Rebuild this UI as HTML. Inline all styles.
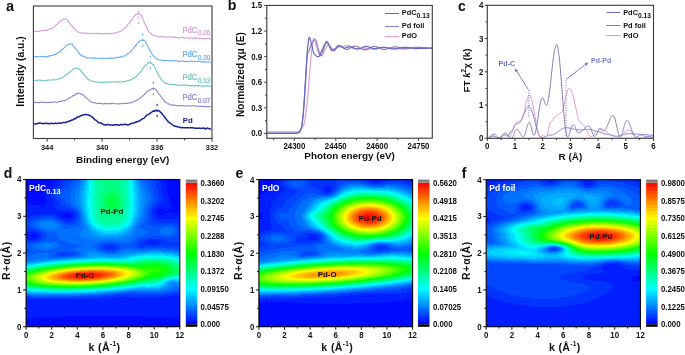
<!DOCTYPE html><html><head><meta charset="utf-8"><style>html,body{margin:0;padding:0;background:#fff;overflow:hidden}svg{display:block;will-change:transform}text{font-family:"Liberation Sans",sans-serif}</style></head><body>
<svg width="685" height="355" viewBox="0 0 685 355">
<defs>
<filter id="cm" x="0" y="0" width="1" height="1" color-interpolation-filters="sRGB"><feGaussianBlur stdDeviation="0.8"/><feComponentTransfer>
<feFuncR type="discrete" tableValues="0.000 0.000 0.000 0.000 0.000 0.000 0.000 0.000 0.000 0.000 0.000 0.000 0.000 0.000 0.000 0.000 0.000 0.000 0.000 0.000 0.000 0.000 0.000 0.000 0.000 0.040 0.120 0.200 0.280 0.360 0.440 0.520 0.600 0.680 0.760 0.840 0.920 1.000 1.000 1.000 1.000 1.000 1.000 1.000 1.000 1.000 1.000 1.000 1.000 1.000"/>
<feFuncG type="discrete" tableValues="0.040 0.120 0.200 0.280 0.360 0.440 0.520 0.600 0.680 0.760 0.840 0.920 1.000 1.000 1.000 1.000 1.000 1.000 1.000 1.000 1.000 1.000 1.000 1.000 1.000 1.000 1.000 1.000 1.000 1.000 1.000 1.000 1.000 1.000 1.000 1.000 1.000 1.000 0.920 0.840 0.760 0.680 0.600 0.520 0.440 0.360 0.280 0.200 0.120 0.040"/>
<feFuncB type="discrete" tableValues="1.000 1.000 1.000 1.000 1.000 1.000 1.000 1.000 1.000 1.000 1.000 1.000 1.000 0.920 0.840 0.760 0.680 0.600 0.520 0.440 0.360 0.280 0.200 0.120 0.040 0.000 0.000 0.000 0.000 0.000 0.000 0.000 0.000 0.000 0.000 0.000 0.000 0.000 0.000 0.000 0.000 0.000 0.000 0.000 0.000 0.000 0.000 0.000 0.000 0.000"/>
</feComponentTransfer></filter>
<filter id="cm0" x="0" y="0" width="1" height="1" color-interpolation-filters="sRGB"><feComponentTransfer>
<feFuncR type="discrete" tableValues="0.000 0.000 0.000 0.000 0.000 0.000 0.000 0.000 0.000 0.000 0.000 0.000 0.000 0.000 0.000 0.000 0.000 0.000 0.000 0.000 0.000 0.000 0.000 0.000 0.000 0.040 0.120 0.200 0.280 0.360 0.440 0.520 0.600 0.680 0.760 0.840 0.920 1.000 1.000 1.000 1.000 1.000 1.000 1.000 1.000 1.000 1.000 1.000 1.000 1.000"/>
<feFuncG type="discrete" tableValues="0.040 0.120 0.200 0.280 0.360 0.440 0.520 0.600 0.680 0.760 0.840 0.920 1.000 1.000 1.000 1.000 1.000 1.000 1.000 1.000 1.000 1.000 1.000 1.000 1.000 1.000 1.000 1.000 1.000 1.000 1.000 1.000 1.000 1.000 1.000 1.000 1.000 1.000 0.920 0.840 0.760 0.680 0.600 0.520 0.440 0.360 0.280 0.200 0.120 0.040"/>
<feFuncB type="discrete" tableValues="1.000 1.000 1.000 1.000 1.000 1.000 1.000 1.000 1.000 1.000 1.000 1.000 1.000 0.920 0.840 0.760 0.680 0.600 0.520 0.440 0.360 0.280 0.200 0.120 0.040 0.000 0.000 0.000 0.000 0.000 0.000 0.000 0.000 0.000 0.000 0.000 0.000 0.000 0.000 0.000 0.000 0.000 0.000 0.000 0.000 0.000 0.000 0.000 0.000 0.000"/>
</feComponentTransfer></filter>
<linearGradient id="cbar" x1="0" y1="1" x2="0" y2="0"><stop offset="0" stop-color="#000"/><stop offset="1" stop-color="#fff"/></linearGradient>
</defs>
<path d="M34.1,31.41 L34.6,31.27 L35.1,31.39 L35.6,31.19 L36.1,31.27 L36.6,31.39 L37.1,31.44 L37.6,31.46 L38.1,31.29 L38.6,31.41 L39.1,31.39 L39.6,31.36 L40.1,31.06 L40.6,30.99 L41.1,30.82 L41.6,30.74 L42.1,30.55 L42.6,30.35 L43.1,30.45 L43.6,30.57 L44.1,30.68 L44.6,30.65 L45.1,30.42 L45.6,30.37 L46.1,30.29 L46.6,30.46 L47.1,30.24 L47.6,30.02 L48.1,29.5 L48.6,29.39 L49.1,28.97 L49.6,28.86 L50.1,28.86 L50.6,28.64 L51.1,28.69 L51.6,28.32 L52.1,28.29 L52.6,27.95 L53.1,27.65 L53.6,27.49 L54.1,27.04 L54.6,26.52 L55.1,25.91 L55.6,25.4 L56.1,25.05 L56.6,24.59 L57.1,24.41 L57.6,23.71 L58.1,23.21 L58.6,22.48 L59.1,21.99 L59.6,21.93 L60.1,21.29 L60.6,21.1 L61.1,20.38 L61.6,20.54 L62.1,19.97 L62.6,19.89 L63.1,19.32 L63.6,19.36 L64.1,18.99 L64.6,19.09 L65.1,18.94 L65.6,19.09 L66.1,19.23 L66.6,19.89 L67.1,19.94 L67.6,20.54 L68.1,20.94 L68.6,21.77 L69.1,22.23 L69.6,22.7 L70.1,23.67 L70.6,24.35 L71.1,25.09 L71.6,25.54 L72.1,26.16 L72.6,26.83 L73.1,27.38 L73.6,28.28 L74.1,28.61 L74.6,28.77 L75.1,28.97 L75.6,29.65 L76.1,30.58 L76.6,30.94 L77.1,31.26 L77.6,31.55 L78.1,31.96 L78.6,32.15 L79.1,32.25 L79.6,32.55 L80.1,32.83 L80.6,32.88 L81.1,33.04 L81.6,33.17 L82.1,33.3 L82.6,32.91 L83.1,32.9 L83.6,32.93 L84.1,32.99 L84.6,32.82 L85.1,32.9 L85.6,33.22 L86.1,33.36 L86.6,33.26 L87.1,33.23 L87.6,33.32 L88.1,33.64 L88.6,33.73 L89.1,33.72 L89.6,33.61 L90.1,33.46 L90.6,33.34 L91.1,33.47 L91.6,33.67 L92.1,33.86 L92.6,33.75 L93.1,33.55 L93.6,33.43 L94.1,33.37 L94.6,33.36 L95.1,33.36 L95.6,33.42 L96.1,33.27 L96.6,33.44 L97.1,33.51 L97.6,33.58 L98.1,33.23 L98.6,33.23 L99.1,33.54 L99.6,33.75 L100.1,33.69 L100.6,33.47 L101.1,33.66 L101.6,33.6 L102.1,33.81 L102.6,33.68 L103.1,33.92 L103.6,33.79 L104.1,33.8 L104.6,33.47 L105.1,33.37 L105.6,33.36 L106.1,33.63 L106.6,33.75 L107.1,33.67 L107.6,33.63 L108.1,33.71 L108.6,33.76 L109.1,33.62 L109.6,33.41 L110.1,33.51 L110.6,33.61 L111.1,33.5 L111.6,33.4 L112.1,33.22 L112.6,33.19 L113.1,33.25 L113.6,33.36 L114.1,33.29 L114.6,33.06 L115.1,32.93 L115.6,32.84 L116.1,32.7 L116.6,32.61 L117.1,32.32 L117.6,32.24 L118.1,32.09 L118.6,32.22 L119.1,31.8 L119.6,31.54 L120.1,31.13 L120.6,31.14 L121.1,30.91 L121.6,30.76 L122.1,30.27 L122.6,29.77 L123.1,29.5 L123.6,29.1 L124.1,28.83 L124.6,28.35 L125.1,27.97 L125.6,27.73 L126.1,27.16 L126.6,26.94 L127.1,25.79 L127.6,24.89 L128.1,24.13 L128.6,23.85 L129.1,23.45 L129.6,22.65 L130.1,21.63 L130.6,20.9 L131.1,20.07 L131.6,19.59 L132.1,19.1 L132.6,18.55 L133.1,17.96 L133.6,17.09 L134.1,16.4 L134.6,15.78 L135.1,15.29 L135.6,15.02 L136.1,14.46 L136.6,14.38 L137.1,13.79 L137.6,13.83 L138.1,13.35 L138.6,13.66 L139.1,13.61 L139.6,14.02 L140.1,14.32 L140.6,14.81 L141.1,15.34 L141.6,15.83 L142.1,17.04 L142.6,18.13 L143.1,19.42 L143.6,20.41 L144.1,21.94 L144.6,22.96 L145.1,24.16 L145.6,24.98 L146.1,26.38 L146.6,27.15 L147.1,28.14 L147.6,29.11 L148.1,30.42 L148.6,31.47 L149.1,31.96 L149.6,32.41 L150.1,32.76 L150.6,33.21 L151.1,33.47 L151.6,33.98 L152.1,34.54 L152.6,35.02 L153.1,35.34 L153.6,35.4 L154.1,35.68 L154.6,35.68 L155.1,35.95 L155.6,36.06 L156.1,36.19 L156.6,36.32 L157.1,36.37 L157.6,36.67 L158.1,36.66 L158.6,36.81 L159.1,36.68 L159.6,36.72 L160.1,36.73 L160.6,36.58 L161.1,36.81 L161.6,36.64 L162.1,36.72 L162.6,36.64 L163.1,36.89 L163.6,37.1 L164.1,37.21 L164.6,37.1 L165.1,36.88 L165.6,36.86 L166.1,36.95 L166.6,36.98 L167.1,37.06 L167.6,37.08 L168.1,37.1 L168.6,37.06 L169.1,36.88 L169.6,36.91 L170.1,36.93 L170.6,36.93 L171.1,37.07 L171.6,36.86 L172.1,37.19 L172.6,37.11 L173.1,37.34 L173.6,37.07 L174.1,37.14 L174.6,37.27 L175.1,37.55 L175.6,37.38 L176.1,37.39 L176.6,37.48 L177.1,37.69 L177.6,37.78 L178.1,37.54 L178.6,37.6 L179.1,37.59 L179.6,37.92 L180.1,38.13 L180.6,37.86 L181.1,37.47 L181.6,37.37 L182.1,37.35 L182.6,37.59 L183.1,37.39 L183.6,37.74 L184.1,37.89 L184.6,38.15 L185.1,38.04 L185.6,37.96 L186.1,37.86 L186.6,37.93 L187.1,37.98 L187.6,38.1 L188.1,38.02 L188.6,38.26 L189.1,38.26 L189.6,38.52 L190.1,38.47 L190.6,38.33 L191.1,37.94 L191.6,37.95 L192.1,38.04 L192.6,38.3 L193.1,38.11 L193.6,38.2 L194.1,38.06 L194.6,38.1 L195.1,38.04 L195.6,38.22 L196.1,37.94 L196.6,38.13 L197.1,38.2 L197.6,38.3 L198.1,38.11 L198.6,38.09 L199.1,38.43 L199.6,38.55 L200.1,38.75 L200.6,38.69 L201.1,38.58 L201.6,38.32 L202.1,38.44 L202.6,38.51 L203.1,38.73 L203.6,38.79 L204.1,38.97 L204.6,39.01 L205.1,38.88 L205.6,38.82 L206.1,38.62 L206.6,38.58 L207.1,38.4 L207.6,38.42 L208.1,38.38 L208.6,38.42 L209.1,38.53 L209.6,38.76 L210.1,38.92 L210.6,39.11 L211.1,39.25" fill="none" stroke="#d89cd4" stroke-width="1.1" stroke-linejoin="round" />
<line x1="138.7" y1="10.8" x2="138.7" y2="24.6" stroke="#d89cd4" stroke-width="1.1" stroke-dasharray="2.1 3.5"/>
<path d="M34.1,57.06 L34.6,56.86 L35.1,56.53 L35.6,56.47 L36.1,56.59 L36.6,56.88 L37.1,56.86 L37.6,56.98 L38.1,56.85 L38.6,56.87 L39.1,56.58 L39.6,56.31 L40.1,56.15 L40.6,56.46 L41.1,56.54 L41.6,56.72 L42.1,56.42 L42.6,56.57 L43.1,56.43 L43.6,56.53 L44.1,56.43 L44.6,56.42 L45.1,56.42 L45.6,56.63 L46.1,56.48 L46.6,56.59 L47.1,56.69 L47.6,57.07 L48.1,56.63 L48.6,56.34 L49.1,55.71 L49.6,55.86 L50.1,55.83 L50.6,55.83 L51.1,55.47 L51.6,55.31 L52.1,55.43 L52.6,55.4 L53.1,55.19 L53.6,54.6 L54.1,54.44 L54.6,54.3 L55.1,54.44 L55.6,54.52 L56.1,54.1 L56.6,53.52 L57.1,53.08 L57.6,52.85 L58.1,52.87 L58.6,52.56 L59.1,52.36 L59.6,52.13 L60.1,51.81 L60.6,51.1 L61.1,50.46 L61.6,50.1 L62.1,49.81 L62.6,49.48 L63.1,48.73 L63.6,48.24 L64.1,47.84 L64.6,47.51 L65.1,47.06 L65.6,46.52 L66.1,45.77 L66.6,45.29 L67.1,44.91 L67.6,44.75 L68.1,44.41 L68.6,44.1 L69.1,43.96 L69.6,44.14 L70.1,44.15 L70.6,44.08 L71.1,43.95 L71.6,44.01 L72.1,44.33 L72.6,44.98 L73.1,45.69 L73.6,46.45 L74.1,46.91 L74.6,47.32 L75.1,47.94 L75.6,48.55 L76.1,49.32 L76.6,49.69 L77.1,50.39 L77.6,51.23 L78.1,51.98 L78.6,52.47 L79.1,52.85 L79.6,53.77 L80.1,54.68 L80.6,55.13 L81.1,55.28 L81.6,55.46 L82.1,55.74 L82.6,56.12 L83.1,56.37 L83.6,56.54 L84.1,56.67 L84.6,56.86 L85.1,57.11 L85.6,57.17 L86.1,57.44 L86.6,57.91 L87.1,58.11 L87.6,58 L88.1,57.88 L88.6,57.94 L89.1,57.94 L89.6,58.1 L90.1,58.02 L90.6,58.06 L91.1,57.81 L91.6,57.85 L92.1,57.94 L92.6,58.12 L93.1,58.45 L93.6,58.58 L94.1,58.53 L94.6,58.18 L95.1,58.09 L95.6,57.97 L96.1,58.14 L96.6,58.29 L97.1,58.45 L97.6,58.44 L98.1,58.22 L98.6,58.19 L99.1,58.24 L99.6,58.22 L100.1,58.16 L100.6,58.27 L101.1,58.18 L101.6,58.19 L102.1,57.92 L102.6,58.35 L103.1,58.49 L103.6,58.71 L104.1,58.56 L104.6,58.51 L105.1,58.48 L105.6,58.22 L106.1,58.21 L106.6,58.24 L107.1,58.26 L107.6,58.33 L108.1,58.33 L108.6,58.31 L109.1,58.13 L109.6,57.99 L110.1,58.1 L110.6,58.21 L111.1,58.06 L111.6,58.08 L112.1,58.04 L112.6,58.28 L113.1,58.3 L113.6,58.21 L114.1,58.17 L114.6,57.86 L115.1,57.98 L115.6,57.81 L116.1,57.86 L116.6,57.62 L117.1,57.36 L117.6,57.19 L118.1,57.14 L118.6,57.2 L119.1,57.49 L119.6,57.32 L120.1,57.15 L120.6,56.81 L121.1,57.03 L121.6,57.07 L122.1,56.96 L122.6,56.44 L123.1,56.11 L123.6,55.98 L124.1,55.96 L124.6,56.03 L125.1,55.96 L125.6,55.67 L126.1,55.14 L126.6,54.57 L127.1,53.9 L127.6,53.5 L128.1,53.3 L128.6,53.17 L129.1,52.93 L129.6,52.26 L130.1,51.96 L130.6,51.46 L131.1,51.14 L131.6,50.55 L132.1,49.67 L132.6,49.02 L133.1,48.27 L133.6,48.21 L134.1,47.66 L134.6,47.1 L135.1,46.35 L135.6,45.61 L136.1,45.25 L136.6,44.43 L137.1,43.97 L137.6,43.08 L138.1,42.73 L138.6,41.93 L139.1,41.66 L139.6,41.01 L140.1,40.92 L140.6,40.35 L141.1,40.23 L141.6,40.06 L142.1,40.17 L142.6,40.14 L143.1,40.26 L143.6,40.51 L144.1,40.76 L144.6,40.98 L145.1,41.26 L145.6,42.09 L146.1,42.97 L146.6,44.13 L147.1,44.95 L147.6,45.82 L148.1,46.77 L148.6,48.01 L149.1,49.1 L149.6,49.83 L150.1,50.4 L150.6,51.46 L151.1,52.38 L151.6,53.27 L152.1,54.02 L152.6,54.82 L153.1,55.56 L153.6,56 L154.1,56.47 L154.6,56.98 L155.1,57.52 L155.6,58.09 L156.1,58.35 L156.6,58.69 L157.1,58.94 L157.6,59.26 L158.1,59.5 L158.6,59.74 L159.1,59.91 L159.6,59.98 L160.1,59.83 L160.6,59.94 L161.1,60.01 L161.6,60.17 L162.1,60.08 L162.6,60.22 L163.1,60.65 L163.6,60.86 L164.1,60.84 L164.6,60.59 L165.1,60.49 L165.6,60.52 L166.1,60.4 L166.6,60.42 L167.1,60.47 L167.6,60.61 L168.1,60.7 L168.6,60.59 L169.1,60.62 L169.6,60.51 L170.1,60.74 L170.6,60.68 L171.1,60.84 L171.6,60.86 L172.1,61 L172.6,60.85 L173.1,60.73 L173.6,60.72 L174.1,60.77 L174.6,60.5 L175.1,60.46 L175.6,60.62 L176.1,61.01 L176.6,61.05 L177.1,61.09 L177.6,61.08 L178.1,61.27 L178.6,61.34 L179.1,61.39 L179.6,61.18 L180.1,61.28 L180.6,61.2 L181.1,61.36 L181.6,60.95 L182.1,61.02 L182.6,60.93 L183.1,61.16 L183.6,61.32 L184.1,61.4 L184.6,61.46 L185.1,61.23 L185.6,61.45 L186.1,61.58 L186.6,61.75 L187.1,61.42 L187.6,61.51 L188.1,61.51 L188.6,61.59 L189.1,61.42 L189.6,61.14 L190.1,61.28 L190.6,61.16 L191.1,61.51 L191.6,61.38 L192.1,61.45 L192.6,61.41 L193.1,61.51 L193.6,61.46 L194.1,61.41 L194.6,61.48 L195.1,61.61 L195.6,61.46 L196.1,61.36 L196.6,61.28 L197.1,61.4 L197.6,61.45 L198.1,61.58 L198.6,61.65 L199.1,61.44 L199.6,61.5 L200.1,61.52 L200.6,61.7 L201.1,61.69 L201.6,61.99 L202.1,61.88 L202.6,61.66 L203.1,61.52 L203.6,61.6 L204.1,62.01 L204.6,61.79 L205.1,61.84 L205.6,61.8 L206.1,62.06 L206.6,62.2 L207.1,62.16 L207.6,62.04 L208.1,61.94 L208.6,61.86 L209.1,62.06 L209.6,62.23 L210.1,62.27 L210.6,62.16 L211.1,62.12" fill="none" stroke="#62aef5" stroke-width="1.1" stroke-linejoin="round" />
<line x1="142.7" y1="33.4" x2="142.7" y2="47.6" stroke="#62aef5" stroke-width="1.1" stroke-dasharray="2.1 3.5"/>
<path d="M34.1,80.64 L34.6,80.52 L35.1,80.4 L35.6,80.3 L36.1,80.67 L36.6,80.71 L37.1,80.84 L37.6,80.3 L38.1,80.38 L38.6,80.03 L39.1,80.1 L39.6,79.9 L40.1,80.07 L40.6,80.24 L41.1,80.38 L41.6,80.43 L42.1,80.35 L42.6,80.64 L43.1,80.66 L43.6,80.81 L44.1,80.73 L44.6,80.8 L45.1,80.78 L45.6,80.55 L46.1,80.67 L46.6,80.44 L47.1,80.26 L47.6,80.02 L48.1,79.88 L48.6,79.89 L49.1,80 L49.6,80.19 L50.1,80.3 L50.6,80.21 L51.1,80.09 L51.6,80.08 L52.1,79.87 L52.6,79.84 L53.1,79.72 L53.6,79.75 L54.1,79.78 L54.6,79.67 L55.1,79.74 L55.6,79.87 L56.1,79.94 L56.6,79.71 L57.1,79.31 L57.6,79.02 L58.1,78.76 L58.6,78.79 L59.1,78.87 L59.6,78.98 L60.1,78.77 L60.6,78.41 L61.1,78.1 L61.6,77.9 L62.1,77.79 L62.6,77.71 L63.1,77.33 L63.6,77.23 L64.1,76.46 L64.6,75.99 L65.1,75.17 L65.6,74.95 L66.1,74.78 L66.6,74.87 L67.1,74.51 L67.6,74.27 L68.1,73.52 L68.6,73.2 L69.1,72.47 L69.6,72.38 L70.1,71.9 L70.6,71.51 L71.1,71.08 L71.6,70.68 L72.1,70.41 L72.6,69.7 L73.1,69.2 L73.6,68.62 L74.1,68.33 L74.6,68.4 L75.1,68.44 L75.6,68.28 L76.1,68.11 L76.6,67.89 L77.1,68.12 L77.6,68.09 L78.1,68.31 L78.6,68.5 L79.1,68.93 L79.6,69.43 L80.1,69.86 L80.6,70.46 L81.1,71.27 L81.6,71.75 L82.1,71.91 L82.6,72.65 L83.1,73.38 L83.6,74.32 L84.1,74.75 L84.6,75.36 L85.1,76.15 L85.6,76.51 L86.1,77.09 L86.6,77.3 L87.1,78.14 L87.6,78.58 L88.1,79.3 L88.6,79.66 L89.1,79.87 L89.6,80 L90.1,80.19 L90.6,80.6 L91.1,80.82 L91.6,81.03 L92.1,81.31 L92.6,81.39 L93.1,81.39 L93.6,81.47 L94.1,81.67 L94.6,81.79 L95.1,81.62 L95.6,81.89 L96.1,81.89 L96.6,82.12 L97.1,81.92 L97.6,82 L98.1,82.01 L98.6,81.93 L99.1,82 L99.6,82.16 L100.1,82.34 L100.6,82.4 L101.1,82.32 L101.6,82.29 L102.1,82.45 L102.6,82.3 L103.1,82.36 L103.6,82.27 L104.1,82.41 L104.6,82.22 L105.1,81.95 L105.6,82.13 L106.1,82.15 L106.6,82.3 L107.1,82.17 L107.6,82.31 L108.1,82.08 L108.6,81.76 L109.1,81.74 L109.6,81.87 L110.1,82.09 L110.6,82.11 L111.1,82.24 L111.6,82.09 L112.1,81.86 L112.6,81.96 L113.1,82.05 L113.6,82.11 L114.1,81.71 L114.6,81.86 L115.1,81.84 L115.6,81.96 L116.1,81.96 L116.6,82.15 L117.1,82.35 L117.6,82.08 L118.1,81.64 L118.6,81.42 L119.1,81.52 L119.6,81.79 L120.1,82.01 L120.6,82.06 L121.1,81.98 L121.6,81.89 L122.1,81.78 L122.6,81.81 L123.1,81.83 L123.6,81.57 L124.1,81.71 L124.6,81.63 L125.1,81.5 L125.6,81.25 L126.1,80.99 L126.6,81.01 L127.1,80.84 L127.6,80.63 L128.1,80.65 L128.6,80.51 L129.1,80.17 L129.6,80.14 L130.1,80.14 L130.6,80.11 L131.1,79.84 L131.6,79.75 L132.1,79.39 L132.6,78.94 L133.1,78.3 L133.6,78.26 L134.1,77.93 L134.6,77.45 L135.1,77.16 L135.6,76.74 L136.1,76.59 L136.6,76.28 L137.1,75.74 L137.6,75.09 L138.1,74.39 L138.6,73.93 L139.1,73.49 L139.6,72.79 L140.1,72.58 L140.6,71.98 L141.1,71.41 L141.6,70.42 L142.1,69.74 L142.6,68.83 L143.1,68.13 L143.6,67.54 L144.1,66.97 L144.6,66.39 L145.1,65.68 L145.6,65.2 L146.1,64.98 L146.6,64.59 L147.1,64.24 L147.6,63.4 L148.1,62.97 L148.6,62.6 L149.1,62.48 L149.6,62.35 L150.1,62.66 L150.6,62.86 L151.1,63.2 L151.6,63.34 L152.1,63.96 L152.6,64.19 L153.1,64.49 L153.6,64.9 L154.1,65.87 L154.6,66.95 L155.1,67.8 L155.6,68.86 L156.1,70.11 L156.6,71.26 L157.1,72.17 L157.6,73.12 L158.1,74.05 L158.6,74.99 L159.1,75.79 L159.6,76.41 L160.1,77.53 L160.6,78.24 L161.1,79.33 L161.6,79.78 L162.1,80.45 L162.6,80.75 L163.1,81.44 L163.6,81.91 L164.1,82.52 L164.6,83.05 L165.1,83.12 L165.6,83.45 L166.1,83.25 L166.6,83.43 L167.1,83.77 L167.6,83.73 L168.1,84.08 L168.6,83.93 L169.1,84.26 L169.6,84.21 L170.1,84.48 L170.6,84.56 L171.1,84.57 L171.6,84.28 L172.1,84.33 L172.6,84.39 L173.1,84.65 L173.6,84.69 L174.1,84.81 L174.6,84.52 L175.1,84.33 L175.6,84.49 L176.1,84.7 L176.6,85.15 L177.1,85.07 L177.6,85.22 L178.1,85.08 L178.6,85.18 L179.1,85.19 L179.6,85.26 L180.1,85.25 L180.6,85.28 L181.1,85.11 L181.6,85.42 L182.1,85.42 L182.6,85.6 L183.1,84.96 L183.6,84.89 L184.1,84.65 L184.6,85.07 L185.1,85.1 L185.6,85.13 L186.1,85.1 L186.6,85.29 L187.1,85.59 L187.6,85.58 L188.1,85.63 L188.6,85.42 L189.1,85.6 L189.6,85.36 L190.1,85.6 L190.6,85.85 L191.1,85.94 L191.6,85.98 L192.1,85.5 L192.6,85.47 L193.1,85.68 L193.6,85.88 L194.1,86.05 L194.6,85.5 L195.1,85.52 L195.6,85.37 L196.1,85.76 L196.6,85.71 L197.1,86.17 L197.6,85.88 L198.1,86.02 L198.6,85.43 L199.1,85.54 L199.6,85.67 L200.1,85.94 L200.6,85.84 L201.1,85.76 L201.6,85.92 L202.1,86.17 L202.6,86.25 L203.1,85.95 L203.6,86.15 L204.1,86.13 L204.6,86.06 L205.1,86.08 L205.6,85.94 L206.1,86.31 L206.6,85.81 L207.1,85.8 L207.6,85.51 L208.1,85.9 L208.6,85.97 L209.1,86.11 L209.6,85.96 L210.1,86.16 L210.6,86.2 L211.1,86.16" fill="none" stroke="#70c4c2" stroke-width="1.1" stroke-linejoin="round" />
<line x1="150.4" y1="55.7" x2="150.4" y2="69.9" stroke="#70c4c2" stroke-width="1.1" stroke-dasharray="2.1 3.5"/>
<path d="M34.1,102.47 L34.6,102.18 L35.1,102.04 L35.6,102.17 L36.1,102.41 L36.6,102.61 L37.1,102.6 L37.6,102.53 L38.1,102.51 L38.6,102.62 L39.1,102.66 L39.6,102.6 L40.1,102.25 L40.6,102.19 L41.1,101.94 L41.6,102.19 L42.1,102.38 L42.6,102.37 L43.1,102.54 L43.6,102.34 L44.1,102.54 L44.6,102.35 L45.1,102.52 L45.6,102.46 L46.1,102.24 L46.6,102.18 L47.1,102.25 L47.6,102.6 L48.1,102.63 L48.6,102.48 L49.1,102.42 L49.6,102.34 L50.1,102.48 L50.6,102.46 L51.1,102.47 L51.6,102.39 L52.1,102.34 L52.6,102.4 L53.1,102.31 L53.6,102.3 L54.1,102 L54.6,101.97 L55.1,101.89 L55.6,102.01 L56.1,102.31 L56.6,102.29 L57.1,102.34 L57.6,102.15 L58.1,102.12 L58.6,101.52 L59.1,101.38 L59.6,101.3 L60.1,101.48 L60.6,101.38 L61.1,101.46 L61.6,101.33 L62.1,101.12 L62.6,100.9 L63.1,100.67 L63.6,100.44 L64.1,100.19 L64.6,100.37 L65.1,100.48 L65.6,100.34 L66.1,100.3 L66.6,99.97 L67.1,99.45 L67.6,98.87 L68.1,98.64 L68.6,98.59 L69.1,98.08 L69.6,97.76 L70.1,97.31 L70.6,97.23 L71.1,97.07 L71.6,96.84 L72.1,96.46 L72.6,95.94 L73.1,95.56 L73.6,95.62 L74.1,95.44 L74.6,95.36 L75.1,94.73 L75.6,94.27 L76.1,93.95 L76.6,93.54 L77.1,93.58 L77.6,93.22 L78.1,93.41 L78.6,93.24 L79.1,93.26 L79.6,93.29 L80.1,93.39 L80.6,93.87 L81.1,94.06 L81.6,94.46 L82.1,94.56 L82.6,94.83 L83.1,95.09 L83.6,95.37 L84.1,95.86 L84.6,96.3 L85.1,97 L85.6,97.49 L86.1,97.7 L86.6,98.2 L87.1,98.65 L87.6,99.25 L88.1,99.41 L88.6,99.87 L89.1,100.35 L89.6,100.91 L90.1,101.15 L90.6,101.62 L91.1,101.78 L91.6,102.11 L92.1,102.17 L92.6,102.56 L93.1,102.6 L93.6,102.7 L94.1,102.67 L94.6,102.8 L95.1,102.87 L95.6,102.83 L96.1,103.11 L96.6,103.46 L97.1,103.56 L97.6,103.61 L98.1,103.31 L98.6,103.37 L99.1,103.26 L99.6,103.46 L100.1,103.65 L100.6,103.46 L101.1,103.29 L101.6,103.25 L102.1,103.49 L102.6,103.96 L103.1,103.93 L103.6,103.88 L104.1,103.77 L104.6,103.46 L105.1,103.31 L105.6,103.51 L106.1,103.79 L106.6,104.06 L107.1,103.67 L107.6,103.64 L108.1,103.62 L108.6,103.47 L109.1,103.72 L109.6,103.84 L110.1,104.11 L110.6,103.86 L111.1,103.5 L111.6,103.35 L112.1,103.32 L112.6,103.63 L113.1,103.48 L113.6,103.5 L114.1,103.46 L114.6,103.73 L115.1,103.86 L115.6,103.67 L116.1,103.51 L116.6,103.76 L117.1,104.05 L117.6,104.02 L118.1,103.99 L118.6,103.84 L119.1,103.93 L119.6,103.56 L120.1,103.76 L120.6,103.76 L121.1,103.84 L121.6,103.49 L122.1,103.28 L122.6,103.29 L123.1,103.39 L123.6,103.73 L124.1,103.55 L124.6,103.46 L125.1,103.35 L125.6,103.53 L126.1,103.44 L126.6,103.45 L127.1,103.34 L127.6,103.48 L128.1,103.26 L128.6,103.25 L129.1,102.99 L129.6,102.82 L130.1,102.73 L130.6,102.73 L131.1,102.69 L131.6,102.56 L132.1,102.4 L132.6,102.26 L133.1,101.65 L133.6,101.37 L134.1,101.24 L134.6,101.21 L135.1,101.03 L135.6,100.72 L136.1,100.57 L136.6,100.46 L137.1,100.22 L137.6,99.92 L138.1,99.65 L138.6,99.21 L139.1,98.8 L139.6,98.35 L140.1,98.11 L140.6,97.8 L141.1,97.22 L141.6,96.65 L142.1,96.28 L142.6,96.07 L143.1,95.93 L143.6,95.43 L144.1,94.85 L144.6,93.86 L145.1,93.58 L145.6,93.26 L146.1,93.08 L146.6,92.35 L147.1,91.43 L147.6,91.09 L148.1,90.66 L148.6,90.8 L149.1,90.43 L149.6,90.35 L150.1,89.82 L150.6,89.6 L151.1,89.01 L151.6,89.03 L152.1,88.73 L152.6,88.67 L153.1,88.38 L153.6,88.28 L154.1,88.59 L154.6,88.76 L155.1,89.02 L155.6,89.32 L156.1,89.84 L156.6,90.57 L157.1,91.29 L157.6,92.12 L158.1,92.82 L158.6,93.65 L159.1,93.88 L159.6,94.54 L160.1,95.19 L160.6,96.07 L161.1,96.78 L161.6,97.38 L162.1,98.03 L162.6,98.64 L163.1,99.31 L163.6,100.06 L164.1,100.9 L164.6,101.65 L165.1,102.16 L165.6,102.24 L166.1,102.32 L166.6,102.63 L167.1,102.92 L167.6,103.17 L168.1,103.45 L168.6,103.83 L169.1,104.22 L169.6,104.61 L170.1,104.88 L170.6,104.86 L171.1,104.9 L171.6,104.96 L172.1,105.13 L172.6,105.03 L173.1,104.7 L173.6,104.85 L174.1,104.96 L174.6,105.35 L175.1,105.28 L175.6,105.39 L176.1,105.45 L176.6,105.69 L177.1,105.74 L177.6,105.84 L178.1,105.54 L178.6,105.54 L179.1,105.59 L179.6,105.72 L180.1,105.79 L180.6,105.63 L181.1,105.71 L181.6,105.54 L182.1,105.63 L182.6,105.49 L183.1,105.67 L183.6,105.89 L184.1,106.05 L184.6,105.92 L185.1,105.81 L185.6,105.92 L186.1,106.15 L186.6,106.21 L187.1,105.94 L187.6,105.79 L188.1,105.64 L188.6,105.74 L189.1,105.86 L189.6,105.97 L190.1,106 L190.6,106.06 L191.1,105.97 L191.6,105.99 L192.1,105.94 L192.6,105.87 L193.1,105.81 L193.6,105.63 L194.1,105.68 L194.6,105.79 L195.1,105.97 L195.6,106.17 L196.1,106.24 L196.6,106.12 L197.1,106.33 L197.6,106.48 L198.1,106.48 L198.6,106.16 L199.1,105.93 L199.6,106.13 L200.1,106.31 L200.6,106.39 L201.1,106.03 L201.6,106.35 L202.1,106.47 L202.6,106.93 L203.1,106.46 L203.6,106.38 L204.1,106.4 L204.6,106.45 L205.1,106.6 L205.6,106.5 L206.1,106.78 L206.6,106.65 L207.1,106.85 L207.6,106.44 L208.1,106.64 L208.6,106.51 L209.1,106.68 L209.6,106.64 L210.1,106.56 L210.6,106.73 L211.1,106.71" fill="none" stroke="#8a88cf" stroke-width="1.1" stroke-linejoin="round" />
<line x1="153.3" y1="82" x2="153.3" y2="96.2" stroke="#8a88cf" stroke-width="1.1" stroke-dasharray="2.1 3.5"/>
<path d="M34.1,123.72 L34.6,123.89 L35.1,123.95 L35.6,124.15 L36.1,123.96 L36.6,123.81 L37.1,123.54 L37.6,123.44 L38.1,123.27 L38.6,123.24 L39.1,123.09 L39.6,123.23 L40.1,123.17 L40.6,123.26 L41.1,123.16 L41.6,123.22 L42.1,123.3 L42.6,123.63 L43.1,123.7 L43.6,123.83 L44.1,123.59 L44.6,123.47 L45.1,123.18 L45.6,123.13 L46.1,123.27 L46.6,123.41 L47.1,123.51 L47.6,123.34 L48.1,123.57 L48.6,123.58 L49.1,123.8 L49.6,123.59 L50.1,123.72 L50.6,123.44 L51.1,123.26 L51.6,123.27 L52.1,123.35 L52.6,123.56 L53.1,123.52 L53.6,123.64 L54.1,123.63 L54.6,123.34 L55.1,123.14 L55.6,123.09 L56.1,123.31 L56.6,123.45 L57.1,123.46 L57.6,123.25 L58.1,123.15 L58.6,123.2 L59.1,123.14 L59.6,123.03 L60.1,122.97 L60.6,123.25 L61.1,123.33 L61.6,123.15 L62.1,122.75 L62.6,122.61 L63.1,122.43 L63.6,122.49 L64.1,122.52 L64.6,122.59 L65.1,122.64 L65.6,122.31 L66.1,121.96 L66.6,121.85 L67.1,121.99 L67.6,121.9 L68.1,121.59 L68.6,121.15 L69.1,121.12 L69.6,120.97 L70.1,121.06 L70.6,120.75 L71.1,120.34 L71.6,120.09 L72.1,119.96 L72.6,120.09 L73.1,119.64 L73.6,119.36 L74.1,118.57 L74.6,118.63 L75.1,118.63 L75.6,118.79 L76.1,118.34 L76.6,117.63 L77.1,117.13 L77.6,116.83 L78.1,117.08 L78.6,117.12 L79.1,116.85 L79.6,116.39 L80.1,116.1 L80.6,116 L81.1,115.59 L81.6,115.24 L82.1,115.1 L82.6,115.13 L83.1,114.98 L83.6,115.02 L84.1,114.84 L84.6,114.74 L85.1,114.46 L85.6,114.49 L86.1,114.51 L86.6,114.64 L87.1,114.74 L87.6,114.87 L88.1,114.88 L88.6,115.03 L89.1,115.22 L89.6,115.5 L90.1,115.65 L90.6,115.99 L91.1,116.33 L91.6,116.62 L92.1,117 L92.6,117.18 L93.1,117.86 L93.6,118.24 L94.1,119.03 L94.6,119.55 L95.1,119.94 L95.6,120.11 L96.1,120.25 L96.6,120.71 L97.1,121.13 L97.6,121.72 L98.1,122.33 L98.6,122.79 L99.1,122.71 L99.6,122.63 L100.1,122.61 L100.6,122.96 L101.1,123.25 L101.6,123.55 L102.1,123.71 L102.6,123.77 L103.1,124.14 L103.6,124.43 L104.1,124.91 L104.6,124.62 L105.1,124.81 L105.6,124.82 L106.1,125.15 L106.6,124.93 L107.1,124.83 L107.6,124.6 L108.1,124.6 L108.6,124.56 L109.1,124.76 L109.6,124.91 L110.1,124.92 L110.6,124.96 L111.1,124.91 L111.6,125 L112.1,125.03 L112.6,125.21 L113.1,125.24 L113.6,125.01 L114.1,124.89 L114.6,124.76 L115.1,124.99 L115.6,124.79 L116.1,124.87 L116.6,124.56 L117.1,124.87 L117.6,124.78 L118.1,124.99 L118.6,125.01 L119.1,125.29 L119.6,125.14 L120.1,125.02 L120.6,124.52 L121.1,124.61 L121.6,124.48 L122.1,124.8 L122.6,124.78 L123.1,124.86 L123.6,124.59 L124.1,124.53 L124.6,124.33 L125.1,124.43 L125.6,124.22 L126.1,124.35 L126.6,124.44 L127.1,124.94 L127.6,125.04 L128.1,125 L128.6,124.68 L129.1,124.61 L129.6,124.34 L130.1,124.2 L130.6,123.64 L131.1,123.47 L131.6,123.45 L132.1,123.35 L132.6,123.33 L133.1,123.03 L133.6,123.06 L134.1,122.91 L134.6,122.75 L135.1,122.47 L135.6,122.24 L136.1,121.8 L136.6,121.94 L137.1,121.73 L137.6,121.86 L138.1,121.3 L138.6,121.3 L139.1,121.06 L139.6,120.96 L140.1,120.46 L140.6,120.09 L141.1,119.65 L141.6,119.29 L142.1,118.89 L142.6,118.71 L143.1,118.59 L143.6,118.43 L144.1,118.06 L144.6,117.58 L145.1,117.02 L145.6,116.55 L146.1,115.88 L146.6,115.37 L147.1,114.9 L147.6,114.72 L148.1,114.49 L148.6,114.33 L149.1,114.12 L149.6,113.86 L150.1,113.43 L150.6,112.87 L151.1,112.41 L151.6,112.2 L152.1,111.84 L152.6,111.4 L153.1,111.03 L153.6,111.06 L154.1,111.22 L154.6,111.15 L155.1,110.62 L155.6,110.33 L156.1,110.27 L156.6,110.63 L157.1,110.89 L157.6,110.72 L158.1,110.75 L158.6,110.51 L159.1,110.87 L159.6,111.11 L160.1,111.82 L160.6,112.33 L161.1,112.65 L161.6,113.07 L162.1,113.68 L162.6,114.71 L163.1,115.27 L163.6,115.75 L164.1,116.14 L164.6,117.03 L165.1,117.76 L165.6,118.5 L166.1,119.06 L166.6,119.61 L167.1,120.35 L167.6,120.66 L168.1,121.57 L168.6,121.87 L169.1,122.46 L169.6,122.6 L170.1,122.98 L170.6,123.39 L171.1,123.77 L171.6,124.13 L172.1,124.55 L172.6,124.99 L173.1,125.34 L173.6,125.64 L174.1,125.71 L174.6,126.02 L175.1,126.14 L175.6,126.27 L176.1,126.4 L176.6,126.55 L177.1,126.73 L177.6,126.81 L178.1,127 L178.6,127.01 L179.1,127.02 L179.6,127.1 L180.1,127.32 L180.6,127.55 L181.1,127.83 L181.6,127.71 L182.1,127.69 L182.6,127.36 L183.1,127.75 L183.6,127.81 L184.1,127.71 L184.6,127.69 L185.1,127.64 L185.6,127.81 L186.1,127.69 L186.6,127.75 L187.1,127.7 L187.6,127.66 L188.1,127.84 L188.6,127.84 L189.1,127.83 L189.6,127.77 L190.1,127.8 L190.6,127.87 L191.1,127.83 L191.6,127.85 L192.1,127.85 L192.6,127.71 L193.1,127.82 L193.6,127.92 L194.1,128.06 L194.6,128.14 L195.1,128.17 L195.6,128.29 L196.1,128.13 L196.6,128.11 L197.1,128.23 L197.6,128.36 L198.1,128.33 L198.6,128.14 L199.1,128.09 L199.6,128.21 L200.1,128.23 L200.6,128.32 L201.1,128.36 L201.6,128.54 L202.1,128.39 L202.6,128.24 L203.1,128.06 L203.6,128.08 L204.1,128.25 L204.6,128.58 L205.1,128.89 L205.6,128.98 L206.1,128.46 L206.6,128.31 L207.1,127.98 L207.6,128.36 L208.1,128.42 L208.6,128.59 L209.1,128.56 L209.6,128.69 L210.1,128.95 L210.6,129.08 L211.1,129.18" fill="none" stroke="#1b2290" stroke-width="1.5" stroke-linejoin="round" />
<line x1="157.1" y1="103.8" x2="157.1" y2="118" stroke="#1b2290" stroke-width="1.1" stroke-dasharray="2.1 3.5"/>
<text transform="translate(182.5,32.5) scale(1,1.09)" font-size="7.55" fill="#d89cd4" stroke="#d89cd4" stroke-width="0.22">PdC<tspan font-size="6.35" dx="0.8" dy="2.7">0.26</tspan></text>
<text transform="translate(182.5,57.4) scale(1,1.09)" font-size="7.55" fill="#62aef5" stroke="#62aef5" stroke-width="0.22">PdC<tspan font-size="6.35" dx="0.8" dy="2.7">0.20</tspan></text>
<text transform="translate(182.5,79.8) scale(1,1.09)" font-size="7.55" fill="#70c4c2" stroke="#70c4c2" stroke-width="0.22">PdC<tspan font-size="6.35" dx="0.8" dy="2.7">0.13</tspan></text>
<text transform="translate(182.5,100) scale(1,1.09)" font-size="7.55" fill="#8a88cf" stroke="#8a88cf" stroke-width="0.22">PdC<tspan font-size="6.35" dx="0.8" dy="2.7">0.07</tspan></text>
<text x="182.8" y="122.6" font-size="7.8" text-anchor="start" fill="#1b2290" font-weight="bold" >Pd</text>
<rect x="33.4" y="6.0" width="178.6" height="132.5" fill="none" stroke="#3a3a3a" stroke-width="1.1"/>
<line x1="47.14" y1="138.5" x2="47.14" y2="141.7" stroke="#3a3a3a" stroke-width="1" />
<text transform="translate(47.14,150.1) scale(1,1.04)" font-size="7.45" text-anchor="middle" fill="#111" font-weight="bold" >344</text>
<line x1="102.09" y1="138.5" x2="102.09" y2="141.7" stroke="#3a3a3a" stroke-width="1" />
<text transform="translate(102.09,150.1) scale(1,1.04)" font-size="7.45" text-anchor="middle" fill="#111" font-weight="bold" >340</text>
<line x1="157.05" y1="138.5" x2="157.05" y2="141.7" stroke="#3a3a3a" stroke-width="1" />
<text transform="translate(157.05,150.1) scale(1,1.04)" font-size="7.45" text-anchor="middle" fill="#111" font-weight="bold" >336</text>
<line x1="212" y1="138.5" x2="212" y2="141.7" stroke="#3a3a3a" stroke-width="1" />
<text transform="translate(212,150.1) scale(1,1.04)" font-size="7.45" text-anchor="middle" fill="#111" font-weight="bold" >332</text>
<line x1="74.62" y1="138.5" x2="74.62" y2="140.3" stroke="#3a3a3a" stroke-width="1" />
<line x1="129.57" y1="138.5" x2="129.57" y2="140.3" stroke="#3a3a3a" stroke-width="1" />
<line x1="184.52" y1="138.5" x2="184.52" y2="140.3" stroke="#3a3a3a" stroke-width="1" />
<text x="122.7" y="162.8" font-size="9.9" text-anchor="middle" fill="#111" font-weight="bold" >Binding energy (eV)</text>
<text transform="translate(23.6,71.45) rotate(-90)" font-size="10.4" text-anchor="middle" font-weight="bold" fill="#111">Intensity (a.u.)</text>
<text x="6" y="11" font-size="14.5" text-anchor="start" fill="#111" font-weight="bold" >a</text>
<path d="M266.8,131.74 L267.08,131.74 L267.35,131.74 L267.63,131.74 L267.9,131.74 L268.18,131.74 L268.45,131.74 L268.73,131.74 L269.01,131.74 L269.28,131.74 L269.56,131.74 L269.83,131.74 L270.11,131.74 L270.39,131.74 L270.66,131.74 L270.94,131.74 L271.21,131.74 L271.49,131.74 L271.76,131.74 L272.04,131.74 L272.32,131.74 L272.59,131.74 L272.87,131.74 L273.14,131.74 L273.42,131.74 L273.7,131.74 L273.97,131.74 L274.25,131.74 L274.52,131.74 L274.8,131.74 L275.07,131.74 L275.35,131.74 L275.63,131.74 L275.9,131.74 L276.18,131.74 L276.45,131.74 L276.73,131.74 L277.01,131.74 L277.28,131.74 L277.56,131.74 L277.83,131.74 L278.11,131.74 L278.38,131.74 L278.66,131.74 L278.94,131.74 L279.21,131.74 L279.49,131.74 L279.76,131.74 L280.04,131.74 L280.32,131.74 L280.59,131.74 L280.87,131.74 L281.14,131.74 L281.42,131.74 L281.69,131.74 L281.97,131.74 L282.25,131.74 L282.52,131.74 L282.8,131.74 L283.07,131.74 L283.35,131.74 L283.63,131.74 L283.9,131.74 L284.18,131.74 L284.45,131.74 L284.73,131.74 L285,131.74 L285.28,131.74 L285.56,131.74 L285.83,131.74 L286.11,131.74 L286.38,131.74 L286.66,131.74 L286.94,131.74 L287.21,131.74 L287.49,131.74 L287.76,131.74 L288.04,131.74 L288.31,131.74 L288.59,131.74 L288.87,131.74 L289.14,131.74 L289.42,131.74 L289.69,131.74 L289.97,131.74 L290.25,131.74 L290.52,131.74 L290.8,131.74 L291.07,131.74 L291.35,131.74 L291.62,131.74 L291.9,131.74 L292.18,131.74 L292.45,131.74 L292.73,131.74 L293,131.74 L293.28,131.74 L293.56,131.74 L293.83,131.74 L294.11,131.74 L294.38,131.74 L294.66,131.74 L294.94,131.74 L295.21,131.74 L295.49,131.74 L295.76,131.74 L296.04,131.74 L296.31,131.74 L296.59,131.74 L296.87,131.74 L297.14,131.74 L297.42,131.73 L297.69,131.68 L297.97,131.6 L298.25,131.49 L298.52,131.36 L298.8,131.21 L299.07,131.04 L299.35,130.86 L299.62,130.66 L299.9,130.46 L300.18,130.25 L300.45,130.04 L300.73,129.81 L301,129.55 L301.28,129.26 L301.56,128.94 L301.83,128.58 L302.11,128.19 L302.38,127.76 L302.66,127.28 L302.93,126.76 L303.21,126.19 L303.49,125.58 L303.76,124.92 L304.04,124.1 L304.31,123.03 L304.59,121.73 L304.87,120.24 L305.14,118.57 L305.42,116.74 L305.69,114.79 L305.97,112.73 L306.24,110.58 L306.52,108.38 L306.8,106.14 L307.07,103.7 L307.35,100.9 L307.62,97.81 L307.9,94.51 L308.18,91.04 L308.45,87.49 L308.73,83.92 L309,80.39 L309.28,76.97 L309.55,73.72 L309.83,70.51 L310.11,67.21 L310.38,63.9 L310.66,60.68 L310.93,57.63 L311.21,54.83 L311.49,52.39 L311.76,50.06 L312.04,47.66 L312.31,45.3 L312.59,43.1 L312.86,41.18 L313.14,39.67 L313.42,38.67 L313.69,38.31 L313.97,38.46 L314.24,38.9 L314.52,39.56 L314.8,40.4 L315.07,41.37 L315.35,42.42 L315.62,43.5 L315.9,44.56 L316.17,45.55 L316.45,46.41 L316.73,47.24 L317,48.13 L317.28,49.04 L317.55,49.96 L317.83,50.86 L318.11,51.71 L318.38,52.49 L318.66,53.16 L318.93,53.71 L319.21,54.09 L319.48,54.39 L319.76,54.67 L320.04,54.94 L320.31,55.18 L320.59,55.39 L320.86,55.56 L321.14,55.69 L321.42,55.77 L321.69,55.8 L321.97,55.71 L322.24,55.47 L322.52,55.1 L322.79,54.62 L323.07,54.05 L323.35,53.41 L323.62,52.73 L323.9,52.03 L324.17,51.33 L324.45,50.65 L324.73,50.01 L325,49.45 L325.28,48.97 L325.55,48.53 L325.83,48.07 L326.1,47.59 L326.38,47.12 L326.66,46.65 L326.93,46.21 L327.21,45.8 L327.48,45.44 L327.76,45.14 L328.04,44.91 L328.31,44.76 L328.59,44.71 L328.86,44.75 L329.14,44.89 L329.41,45.1 L329.69,45.37 L329.97,45.7 L330.24,46.06 L330.52,46.44 L330.79,46.84 L331.07,47.24 L331.35,47.62 L331.62,47.98 L331.9,48.31 L332.17,48.58 L332.45,48.79 L332.72,48.93 L333,48.97 L333.28,48.96 L333.55,48.94 L333.83,48.89 L334.1,48.84 L334.38,48.77 L334.66,48.68 L334.93,48.59 L335.21,48.49 L335.48,48.39 L335.76,48.28 L336.03,48.17 L336.31,48.05 L336.59,47.94 L336.86,47.82 L337.14,47.71 L337.41,47.61 L337.69,47.51 L337.97,47.42 L338.24,47.34 L338.52,47.27 L338.79,47.2 L339.07,47.14 L339.34,47.07 L339.62,47.01 L339.9,46.94 L340.17,46.87 L340.45,46.8 L340.72,46.74 L341,46.67 L341.27,46.6 L341.55,46.54 L341.83,46.47 L342.1,46.41 L342.38,46.35 L342.65,46.28 L342.93,46.22 L343.21,46.16 L343.48,46.11 L343.76,46.05 L344.03,46 L344.31,45.95 L344.59,45.9 L344.86,45.85 L345.14,45.81 L345.41,45.77 L345.69,45.73 L345.96,45.7 L346.24,45.67 L346.52,45.64 L346.79,45.62 L347.07,45.6 L347.34,45.58 L347.62,45.57 L347.89,45.56 L348.17,45.56 L348.45,45.58 L348.72,45.62 L349,45.7 L349.27,45.79 L349.55,45.92 L349.83,46.06 L350.1,46.21 L350.38,46.38 L350.65,46.57 L350.93,46.76 L351.21,46.96 L351.48,47.16 L351.76,47.37 L352.03,47.57 L352.31,47.77 L352.58,47.96 L352.86,48.15 L353.14,48.32 L353.41,48.48 L353.69,48.62 L353.96,48.74 L354.24,48.84 L354.51,48.91 L354.79,48.96 L355.07,48.97 L355.34,48.97 L355.62,48.96 L355.89,48.95 L356.17,48.93 L356.45,48.91 L356.72,48.88 L357,48.86 L357.27,48.82 L357.55,48.79 L357.83,48.75 L358.1,48.71 L358.38,48.67 L358.65,48.63 L358.93,48.59 L359.2,48.55 L359.48,48.5 L359.76,48.46 L360.03,48.42 L360.31,48.38 L360.58,48.34 L360.86,48.3 L361.13,48.27 L361.41,48.24 L361.69,48.21 L361.96,48.18 L362.24,48.16 L362.51,48.14 L362.79,48.13 L363.07,48.12 L363.34,48.12 L363.62,48.12 L363.89,48.13 L364.17,48.14 L364.44,48.16 L364.72,48.17 L365,48.2 L365.27,48.22 L365.55,48.25 L365.82,48.29 L366.1,48.32 L366.38,48.36 L366.65,48.4 L366.93,48.44 L367.2,48.48 L367.48,48.52 L367.75,48.57 L368.03,48.62 L368.31,48.66 L368.58,48.71 L368.86,48.76 L369.13,48.81 L369.41,48.86 L369.69,48.9 L369.96,48.95 L370.24,48.99 L370.51,49.04 L370.79,49.08 L371.06,49.12 L371.34,49.16 L371.62,49.2 L371.89,49.23 L372.17,49.27 L372.44,49.3 L372.72,49.32 L373,49.34 L373.27,49.36 L373.55,49.38 L373.82,49.39 L374.1,49.4 L374.38,49.4 L374.65,49.4 L374.93,49.38 L375.2,49.37 L375.48,49.34 L375.75,49.31 L376.03,49.27 L376.31,49.23 L376.58,49.18 L376.86,49.12 L377.13,49.07 L377.41,49 L377.69,48.94 L377.96,48.87 L378.24,48.8 L378.51,48.72 L378.79,48.65 L379.06,48.57 L379.34,48.49 L379.62,48.41 L379.89,48.33 L380.17,48.25 L380.44,48.17 L380.72,48.1 L381,48.02 L381.27,47.94 L381.55,47.87 L381.82,47.8 L382.1,47.73 L382.37,47.66 L382.65,47.6 L382.93,47.54 L383.2,47.49 L383.48,47.44 L383.75,47.4 L384.03,47.36 L384.31,47.33 L384.58,47.3 L384.86,47.28 L385.13,47.27 L385.41,47.27 L385.68,47.27 L385.96,47.27 L386.24,47.28 L386.51,47.3 L386.79,47.31 L387.06,47.33 L387.34,47.36 L387.62,47.38 L387.89,47.41 L388.17,47.44 L388.44,47.48 L388.72,47.51 L388.99,47.55 L389.27,47.59 L389.55,47.64 L389.82,47.68 L390.1,47.72 L390.37,47.77 L390.65,47.82 L390.93,47.87 L391.2,47.92 L391.48,47.97 L391.75,48.02 L392.03,48.07 L392.3,48.12 L392.58,48.17 L392.86,48.22 L393.13,48.27 L393.41,48.32 L393.68,48.37 L393.96,48.42 L394.24,48.47 L394.51,48.52 L394.79,48.56 L395.06,48.6 L395.34,48.65 L395.61,48.69 L395.89,48.73 L396.17,48.76 L396.44,48.8 L396.72,48.83 L396.99,48.86 L397.27,48.88 L397.55,48.91 L397.82,48.93 L398.1,48.94 L398.37,48.96 L398.65,48.97 L398.92,48.97 L399.2,48.97 L399.48,48.97 L399.75,48.97 L400.03,48.96 L400.3,48.95 L400.58,48.94 L400.86,48.92 L401.13,48.91 L401.41,48.89 L401.68,48.86 L401.96,48.84 L402.23,48.81 L402.51,48.79 L402.79,48.76 L403.06,48.73 L403.34,48.7 L403.61,48.66 L403.89,48.63 L404.17,48.6 L404.44,48.56 L404.72,48.52 L404.99,48.49 L405.27,48.45 L405.54,48.41 L405.82,48.37 L406.1,48.33 L406.37,48.29 L406.65,48.26 L406.92,48.22 L407.2,48.18 L407.48,48.14 L407.75,48.11 L408.03,48.07 L408.3,48.04 L408.58,48 L408.85,47.97 L409.13,47.94 L409.41,47.91 L409.68,47.88 L409.96,47.85 L410.23,47.83 L410.51,47.8 L410.79,47.78 L411.06,47.76 L411.34,47.74 L411.61,47.73 L411.89,47.72 L412.16,47.71 L412.44,47.7 L412.72,47.69 L412.99,47.69 L413.27,47.69 L413.54,47.69 L413.82,47.7 L414.1,47.7 L414.37,47.7 L414.65,47.71 L414.92,47.71 L415.2,47.71 L415.47,47.72 L415.75,47.73 L416.03,47.73 L416.3,47.74 L416.58,47.75 L416.85,47.75 L417.13,47.76 L417.4,47.77 L417.68,47.78 L417.96,47.79 L418.23,47.8 L418.51,47.81 L418.78,47.82 L419.06,47.84 L419.34,47.85 L419.61,47.86 L419.89,47.87 L420.16,47.89 L420.44,47.9 L420.72,47.91 L420.99,47.93 L421.27,47.94 L421.54,47.95 L421.82,47.97 L422.09,47.98 L422.37,48 L422.65,48.01 L422.92,48.03 L423.2,48.04 L423.47,48.06 L423.75,48.08 L424.02,48.09 L424.3,48.11 L424.58,48.12 L424.85,48.14 L425.13,48.16 L425.4,48.17 L425.68,48.19 L425.96,48.2 L426.23,48.22 L426.51,48.24 L426.78,48.25 L427.06,48.27 L427.34,48.29 L427.61,48.3 L427.89,48.32 L428.16,48.33 L428.44,48.35 L428.71,48.36 L428.99,48.38 L429.27,48.39 L429.54,48.41 L429.82,48.42 L430.09,48.44 L430.37,48.45 L430.64,48.47 L430.92,48.48 L431.2,48.5 L431.47,48.51 L431.75,48.52 L432.02,48.53 L432.3,48.55" fill="none" stroke="#dca0d4" stroke-width="1.2" stroke-linejoin="round" />
<path d="M266.8,133.02 L267.08,133.02 L267.35,133.02 L267.63,133.02 L267.9,133.02 L268.18,133.02 L268.45,133.02 L268.73,133.02 L269.01,133.02 L269.28,133.02 L269.56,133.02 L269.83,133.02 L270.11,133.02 L270.39,133.02 L270.66,133.02 L270.94,133.02 L271.21,133.02 L271.49,133.02 L271.76,133.02 L272.04,133.02 L272.32,133.02 L272.59,133.02 L272.87,133.02 L273.14,133.02 L273.42,133.02 L273.7,133.02 L273.97,133.02 L274.25,133.02 L274.52,133.02 L274.8,133.02 L275.07,133.02 L275.35,133.02 L275.63,133.02 L275.9,133.02 L276.18,133.02 L276.45,133.02 L276.73,133.02 L277.01,133.02 L277.28,133.02 L277.56,133.02 L277.83,133.02 L278.11,133.02 L278.38,133.02 L278.66,133.02 L278.94,133.02 L279.21,133.02 L279.49,133.02 L279.76,133.02 L280.04,133.02 L280.32,133.02 L280.59,133.02 L280.87,133.02 L281.14,133.02 L281.42,133.02 L281.69,133.02 L281.97,133.02 L282.25,133.02 L282.52,133.02 L282.8,133.02 L283.07,133.02 L283.35,133.02 L283.63,133.02 L283.9,133.02 L284.18,133.02 L284.45,133.02 L284.73,133.02 L285,133.02 L285.28,133.02 L285.56,133.02 L285.83,133.02 L286.11,133.02 L286.38,133.02 L286.66,133.02 L286.94,133.02 L287.21,133.02 L287.49,133.02 L287.76,133.02 L288.04,133.02 L288.31,133.02 L288.59,133.02 L288.87,133.02 L289.14,133.02 L289.42,133.02 L289.69,133.02 L289.97,133.02 L290.25,133.02 L290.52,133.02 L290.8,133.02 L291.07,133.02 L291.35,133.02 L291.62,133.02 L291.9,133.02 L292.18,133.02 L292.45,133.02 L292.73,133.02 L293,133.02 L293.28,133.02 L293.56,133.02 L293.83,133.02 L294.11,133.02 L294.38,133.02 L294.66,133.02 L294.94,133.01 L295.21,133 L295.49,132.99 L295.76,132.97 L296.04,132.94 L296.31,132.91 L296.59,132.87 L296.87,132.83 L297.14,132.79 L297.42,132.74 L297.69,132.69 L297.97,132.63 L298.25,132.57 L298.52,132.5 L298.8,132.43 L299.07,132.3 L299.35,132.09 L299.62,131.78 L299.9,131.39 L300.18,130.92 L300.45,130.38 L300.73,129.76 L301,129.08 L301.28,128.33 L301.56,127.26 L301.83,125.65 L302.11,123.6 L302.38,121.22 L302.66,118.59 L302.93,115.8 L303.21,112.97 L303.49,109.84 L303.76,106.19 L304.04,102.14 L304.31,97.84 L304.59,93.4 L304.87,88.95 L305.14,84.62 L305.42,80.55 L305.69,76.33 L305.97,71.71 L306.24,67.02 L306.52,62.58 L306.8,58.73 L307.07,55.79 L307.35,54.09 L307.62,53.25 L307.9,52.62 L308.18,52.12 L308.45,51.69 L308.73,51.23 L309,50.68 L309.28,50.02 L309.55,49.3 L309.83,48.53 L310.11,47.74 L310.38,46.94 L310.66,46.15 L310.93,45.39 L311.21,44.68 L311.49,44.03 L311.76,43.46 L312.04,43 L312.31,42.59 L312.59,42.18 L312.86,41.78 L313.14,41.39 L313.42,41.02 L313.69,40.68 L313.97,40.38 L314.24,40.11 L314.52,39.89 L314.8,39.73 L315.07,39.62 L315.35,39.59 L315.62,39.75 L315.9,40.2 L316.17,40.89 L316.45,41.77 L316.73,42.79 L317,43.89 L317.28,45.02 L317.55,46.14 L317.83,47.19 L318.11,48.12 L318.38,49.06 L318.66,50.12 L318.93,51.25 L319.21,52.38 L319.48,53.44 L319.76,54.38 L320.04,55.13 L320.31,55.62 L320.59,55.8 L320.86,55.7 L321.14,55.4 L321.42,54.94 L321.69,54.36 L321.97,53.67 L322.24,52.9 L322.52,52.09 L322.79,51.26 L323.07,50.45 L323.35,49.68 L323.62,48.97 L323.9,48.25 L324.17,47.42 L324.45,46.53 L324.73,45.6 L325,44.68 L325.28,43.8 L325.55,42.99 L325.83,42.3 L326.1,41.77 L326.38,41.42 L326.66,41.29 L326.93,41.37 L327.21,41.58 L327.48,41.92 L327.76,42.37 L328.04,42.9 L328.31,43.51 L328.59,44.18 L328.86,44.88 L329.14,45.62 L329.41,46.36 L329.69,47.09 L329.97,47.8 L330.24,48.46 L330.52,49.07 L330.79,49.61 L331.07,50.05 L331.35,50.39 L331.62,50.6 L331.9,50.68 L332.17,50.66 L332.45,50.59 L332.72,50.49 L333,50.35 L333.28,50.18 L333.55,49.99 L333.83,49.77 L334.1,49.52 L334.38,49.26 L334.66,48.99 L334.93,48.71 L335.21,48.41 L335.48,48.12 L335.76,47.83 L336.03,47.53 L336.31,47.25 L336.59,46.98 L336.86,46.72 L337.14,46.47 L337.41,46.25 L337.69,46.06 L337.97,45.89 L338.24,45.75 L338.52,45.65 L338.79,45.58 L339.07,45.56 L339.34,45.57 L339.62,45.62 L339.9,45.68 L340.17,45.77 L340.45,45.88 L340.72,46.01 L341,46.16 L341.27,46.32 L341.55,46.5 L341.83,46.68 L342.1,46.87 L342.38,47.07 L342.65,47.27 L342.93,47.48 L343.21,47.69 L343.48,47.89 L343.76,48.09 L344.03,48.28 L344.31,48.46 L344.59,48.64 L344.86,48.8 L345.14,48.95 L345.41,49.08 L345.69,49.19 L345.96,49.28 L346.24,49.34 L346.52,49.39 L346.79,49.4 L347.07,49.39 L347.34,49.36 L347.62,49.3 L347.89,49.23 L348.17,49.15 L348.45,49.04 L348.72,48.93 L349,48.8 L349.27,48.66 L349.55,48.52 L349.83,48.36 L350.1,48.2 L350.38,48.03 L350.65,47.86 L350.93,47.69 L351.21,47.52 L351.48,47.35 L351.76,47.19 L352.03,47.03 L352.31,46.87 L352.58,46.72 L352.86,46.59 L353.14,46.46 L353.41,46.34 L353.69,46.24 L353.96,46.15 L354.24,46.08 L354.51,46.03 L354.79,46 L355.07,45.99 L355.34,46 L355.62,46.02 L355.89,46.07 L356.17,46.13 L356.45,46.2 L356.72,46.29 L357,46.39 L357.27,46.5 L357.55,46.62 L357.83,46.75 L358.1,46.89 L358.38,47.03 L358.65,47.18 L358.93,47.34 L359.2,47.5 L359.48,47.66 L359.76,47.82 L360.03,47.99 L360.31,48.15 L360.58,48.32 L360.86,48.47 L361.13,48.63 L361.41,48.78 L361.69,48.93 L361.96,49.07 L362.24,49.2 L362.51,49.32 L362.79,49.43 L363.07,49.53 L363.34,49.61 L363.62,49.69 L363.89,49.75 L364.17,49.79 L364.44,49.82 L364.72,49.83 L365,49.82 L365.27,49.79 L365.55,49.76 L365.82,49.7 L366.1,49.64 L366.38,49.56 L366.65,49.47 L366.93,49.37 L367.2,49.27 L367.48,49.15 L367.75,49.03 L368.03,48.9 L368.31,48.76 L368.58,48.63 L368.86,48.48 L369.13,48.34 L369.41,48.19 L369.69,48.05 L369.96,47.9 L370.24,47.76 L370.51,47.61 L370.79,47.48 L371.06,47.34 L371.34,47.21 L371.62,47.09 L371.89,46.97 L372.17,46.87 L372.44,46.77 L372.72,46.68 L373,46.6 L373.27,46.54 L373.55,46.48 L373.82,46.45 L374.1,46.42 L374.38,46.41 L374.65,46.42 L374.93,46.44 L375.2,46.48 L375.48,46.52 L375.75,46.58 L376.03,46.65 L376.31,46.72 L376.58,46.81 L376.86,46.9 L377.13,47.01 L377.41,47.11 L377.69,47.23 L377.96,47.34 L378.24,47.46 L378.51,47.59 L378.79,47.72 L379.06,47.84 L379.34,47.97 L379.62,48.1 L379.89,48.22 L380.17,48.35 L380.44,48.47 L380.72,48.59 L381,48.7 L381.27,48.81 L381.55,48.91 L381.82,49 L382.1,49.09 L382.37,49.17 L382.65,49.23 L382.93,49.29 L383.2,49.34 L383.48,49.37 L383.75,49.39 L384.03,49.4 L384.31,49.4 L384.58,49.38 L384.86,49.36 L385.13,49.33 L385.41,49.29 L385.68,49.24 L385.96,49.19 L386.24,49.13 L386.51,49.07 L386.79,49 L387.06,48.93 L387.34,48.85 L387.62,48.76 L387.89,48.68 L388.17,48.59 L388.44,48.5 L388.72,48.41 L388.99,48.31 L389.27,48.22 L389.55,48.12 L389.82,48.02 L390.1,47.93 L390.37,47.83 L390.65,47.74 L390.93,47.65 L391.2,47.56 L391.48,47.48 L391.75,47.39 L392.03,47.31 L392.3,47.24 L392.58,47.17 L392.86,47.11 L393.13,47.05 L393.41,47 L393.68,46.95 L393.96,46.91 L394.24,46.88 L394.51,46.86 L394.79,46.84 L395.06,46.84 L395.34,46.85 L395.61,46.86 L395.89,46.88 L396.17,46.92 L396.44,46.96 L396.72,47.01 L396.99,47.06 L397.27,47.12 L397.55,47.19 L397.82,47.26 L398.1,47.34 L398.37,47.42 L398.65,47.5 L398.92,47.59 L399.2,47.68 L399.48,47.77 L399.75,47.86 L400.03,47.95 L400.3,48.04 L400.58,48.13 L400.86,48.22 L401.13,48.31 L401.41,48.39 L401.68,48.47 L401.96,48.55 L402.23,48.62 L402.51,48.69 L402.79,48.75 L403.06,48.81 L403.34,48.86 L403.61,48.9 L403.89,48.93 L404.17,48.95 L404.44,48.97 L404.72,48.97 L404.99,48.97 L405.27,48.96 L405.54,48.95 L405.82,48.93 L406.1,48.9 L406.37,48.87 L406.65,48.83 L406.92,48.8 L407.2,48.75 L407.48,48.71 L407.75,48.66 L408.03,48.6 L408.3,48.55 L408.58,48.49 L408.85,48.43 L409.13,48.37 L409.41,48.31 L409.68,48.25 L409.96,48.18 L410.23,48.12 L410.51,48.06 L410.79,47.99 L411.06,47.93 L411.34,47.87 L411.61,47.81 L411.89,47.75 L412.16,47.69 L412.44,47.64 L412.72,47.58 L412.99,47.53 L413.27,47.49 L413.54,47.44 L413.82,47.41 L414.1,47.37 L414.37,47.34 L414.65,47.31 L414.92,47.29 L415.2,47.28 L415.47,47.27 L415.75,47.27 L416.03,47.27 L416.3,47.27 L416.58,47.27 L416.85,47.27 L417.13,47.28 L417.4,47.28 L417.68,47.29 L417.96,47.3 L418.23,47.3 L418.51,47.31 L418.78,47.32 L419.06,47.33 L419.34,47.34 L419.61,47.35 L419.89,47.36 L420.16,47.37 L420.44,47.38 L420.72,47.4 L420.99,47.41 L421.27,47.42 L421.54,47.44 L421.82,47.45 L422.09,47.47 L422.37,47.49 L422.65,47.5 L422.92,47.52 L423.2,47.53 L423.47,47.55 L423.75,47.57 L424.02,47.59 L424.3,47.6 L424.58,47.62 L424.85,47.64 L425.13,47.66 L425.4,47.68 L425.68,47.7 L425.96,47.72 L426.23,47.73 L426.51,47.75 L426.78,47.77 L427.06,47.79 L427.34,47.81 L427.61,47.83 L427.89,47.85 L428.16,47.87 L428.44,47.89 L428.71,47.9 L428.99,47.92 L429.27,47.94 L429.54,47.96 L429.82,47.98 L430.09,47.99 L430.37,48.01 L430.64,48.03 L430.92,48.04 L431.2,48.06 L431.47,48.08 L431.75,48.09 L432.02,48.11 L432.3,48.12" fill="none" stroke="#8e7eb6" stroke-width="1.2" stroke-linejoin="round" />
<path d="M266.8,133.45 L267.08,133.45 L267.35,133.45 L267.63,133.45 L267.9,133.45 L268.18,133.45 L268.45,133.45 L268.73,133.45 L269.01,133.45 L269.28,133.45 L269.56,133.45 L269.83,133.45 L270.11,133.45 L270.39,133.45 L270.66,133.45 L270.94,133.45 L271.21,133.45 L271.49,133.45 L271.76,133.45 L272.04,133.45 L272.32,133.45 L272.59,133.45 L272.87,133.45 L273.14,133.45 L273.42,133.45 L273.7,133.45 L273.97,133.45 L274.25,133.45 L274.52,133.45 L274.8,133.45 L275.07,133.45 L275.35,133.45 L275.63,133.45 L275.9,133.45 L276.18,133.45 L276.45,133.45 L276.73,133.45 L277.01,133.45 L277.28,133.45 L277.56,133.45 L277.83,133.45 L278.11,133.45 L278.38,133.45 L278.66,133.45 L278.94,133.45 L279.21,133.45 L279.49,133.45 L279.76,133.45 L280.04,133.45 L280.32,133.45 L280.59,133.45 L280.87,133.45 L281.14,133.45 L281.42,133.45 L281.69,133.45 L281.97,133.45 L282.25,133.45 L282.52,133.45 L282.8,133.45 L283.07,133.45 L283.35,133.45 L283.63,133.45 L283.9,133.45 L284.18,133.45 L284.45,133.45 L284.73,133.45 L285,133.45 L285.28,133.45 L285.56,133.45 L285.83,133.45 L286.11,133.45 L286.38,133.45 L286.66,133.45 L286.94,133.45 L287.21,133.45 L287.49,133.45 L287.76,133.45 L288.04,133.45 L288.31,133.45 L288.59,133.45 L288.87,133.45 L289.14,133.45 L289.42,133.45 L289.69,133.45 L289.97,133.45 L290.25,133.45 L290.52,133.45 L290.8,133.45 L291.07,133.45 L291.35,133.45 L291.62,133.45 L291.9,133.45 L292.18,133.45 L292.45,133.45 L292.73,133.45 L293,133.45 L293.28,133.45 L293.56,133.45 L293.83,133.45 L294.11,133.45 L294.38,133.45 L294.66,133.45 L294.94,133.44 L295.21,133.42 L295.49,133.39 L295.76,133.36 L296.04,133.33 L296.31,133.28 L296.59,133.23 L296.87,133.17 L297.14,133.11 L297.42,133.04 L297.69,132.96 L297.97,132.88 L298.25,132.79 L298.52,132.7 L298.8,132.6 L299.07,132.45 L299.35,132.2 L299.62,131.87 L299.9,131.46 L300.18,130.97 L300.45,130.41 L300.73,129.78 L301,129.08 L301.28,128.33 L301.56,127.31 L301.83,125.87 L302.11,124.08 L302.38,121.99 L302.66,119.69 L302.93,117.22 L303.21,114.68 L303.49,111.84 L303.76,108.54 L304.04,104.86 L304.31,100.89 L304.59,96.72 L304.87,92.45 L305.14,88.16 L305.42,83.96 L305.69,79.53 L305.97,74.65 L306.24,69.55 L306.52,64.43 L306.8,59.51 L307.07,55.01 L307.35,51.14 L307.62,48.12 L307.9,45.56 L308.18,43.07 L308.45,40.81 L308.73,38.97 L309,37.74 L309.28,37.28 L309.55,37.47 L309.83,37.97 L310.11,38.72 L310.38,39.66 L310.66,40.71 L310.93,41.81 L311.21,42.88 L311.49,43.85 L311.76,44.85 L312.04,45.98 L312.31,47.21 L312.59,48.47 L312.86,49.72 L313.14,50.92 L313.42,52 L313.69,52.93 L313.97,53.64 L314.24,54.09 L314.52,54.39 L314.8,54.68 L315.07,54.95 L315.35,55.2 L315.62,55.44 L315.9,55.66 L316.17,55.86 L316.45,56.04 L316.73,56.19 L317,56.33 L317.28,56.44 L317.55,56.53 L317.83,56.6 L318.11,56.64 L318.38,56.65 L318.66,56.58 L318.93,56.39 L319.21,56.08 L319.48,55.68 L319.76,55.19 L320.04,54.63 L320.31,54.02 L320.59,53.37 L320.86,52.7 L321.14,52.01 L321.42,51.34 L321.69,50.68 L321.97,50.06 L322.24,49.48 L322.52,48.97 L322.79,48.48 L323.07,47.94 L323.35,47.38 L323.62,46.81 L323.9,46.22 L324.17,45.64 L324.45,45.08 L324.73,44.54 L325,44.04 L325.28,43.58 L325.55,43.19 L325.83,42.86 L326.1,42.61 L326.38,42.46 L326.66,42.4 L326.93,42.46 L327.21,42.63 L327.48,42.9 L327.76,43.24 L328.04,43.64 L328.31,44.09 L328.59,44.58 L328.86,45.08 L329.14,45.58 L329.41,46.06 L329.69,46.51 L329.97,46.92 L330.24,47.27 L330.52,47.59 L330.79,47.93 L331.07,48.28 L331.35,48.63 L331.62,48.98 L331.9,49.31 L332.17,49.63 L332.45,49.92 L332.72,50.17 L333,50.38 L333.28,50.54 L333.55,50.64 L333.83,50.68 L334.1,50.64 L334.38,50.52 L334.66,50.34 L334.93,50.09 L335.21,49.8 L335.48,49.47 L335.76,49.11 L336.03,48.72 L336.31,48.32 L336.59,47.92 L336.86,47.52 L337.14,47.13 L337.41,46.77 L337.69,46.44 L337.97,46.15 L338.24,45.9 L338.52,45.72 L338.79,45.6 L339.07,45.56 L339.34,45.58 L339.62,45.65 L339.9,45.75 L340.17,45.88 L340.45,46.04 L340.72,46.22 L341,46.42 L341.27,46.63 L341.55,46.84 L341.83,47.05 L342.1,47.26 L342.38,47.46 L342.65,47.64 L342.93,47.8 L343.21,47.93 L343.48,48.03 L343.76,48.1 L344.03,48.12 L344.31,48.11 L344.59,48.08 L344.86,48.04 L345.14,47.99 L345.41,47.92 L345.69,47.84 L345.96,47.76 L346.24,47.67 L346.52,47.58 L346.79,47.48 L347.07,47.38 L347.34,47.29 L347.62,47.2 L347.89,47.12 L348.17,47.04 L348.45,46.97 L348.72,46.92 L349,46.88 L349.27,46.85 L349.55,46.84 L349.83,46.85 L350.1,46.87 L350.38,46.9 L350.65,46.94 L350.93,47 L351.21,47.06 L351.48,47.13 L351.76,47.21 L352.03,47.3 L352.31,47.39 L352.58,47.49 L352.86,47.59 L353.14,47.69 L353.41,47.8 L353.69,47.91 L353.96,48.01 L354.24,48.12 L354.51,48.22 L354.79,48.32 L355.07,48.42 L355.34,48.51 L355.62,48.6 L355.89,48.68 L356.17,48.75 L356.45,48.82 L356.72,48.87 L357,48.91 L357.27,48.95 L357.55,48.97 L357.83,48.97 L358.1,48.96 L358.38,48.94 L358.65,48.9 L358.93,48.85 L359.2,48.78 L359.48,48.71 L359.76,48.62 L360.03,48.52 L360.31,48.42 L360.58,48.31 L360.86,48.19 L361.13,48.07 L361.41,47.95 L361.69,47.82 L361.96,47.69 L362.24,47.57 L362.51,47.44 L362.79,47.31 L363.07,47.19 L363.34,47.08 L363.62,46.97 L363.89,46.86 L364.17,46.77 L364.44,46.68 L364.72,46.6 L365,46.54 L365.27,46.49 L365.55,46.45 L365.82,46.42 L366.1,46.41 L366.38,46.42 L366.65,46.44 L366.93,46.47 L367.2,46.52 L367.48,46.57 L367.75,46.64 L368.03,46.71 L368.31,46.79 L368.58,46.87 L368.86,46.97 L369.13,47.06 L369.41,47.16 L369.69,47.27 L369.96,47.37 L370.24,47.48 L370.51,47.59 L370.79,47.69 L371.06,47.8 L371.34,47.9 L371.62,47.99 L371.89,48.09 L372.17,48.17 L372.44,48.25 L372.72,48.32 L373,48.39 L373.27,48.44 L373.55,48.49 L373.82,48.52 L374.1,48.54 L374.38,48.55 L374.65,48.54 L374.93,48.53 L375.2,48.51 L375.48,48.48 L375.75,48.45 L376.03,48.41 L376.31,48.37 L376.58,48.32 L376.86,48.27 L377.13,48.21 L377.41,48.16 L377.69,48.1 L377.96,48.03 L378.24,47.97 L378.51,47.91 L378.79,47.84 L379.06,47.78 L379.34,47.72 L379.62,47.66 L379.89,47.6 L380.17,47.54 L380.44,47.49 L380.72,47.44 L381,47.4 L381.27,47.36 L381.55,47.33 L381.82,47.3 L382.1,47.28 L382.37,47.27 L382.65,47.27 L382.93,47.27 L383.2,47.28 L383.48,47.29 L383.75,47.31 L384.03,47.34 L384.31,47.37 L384.58,47.41 L384.86,47.44 L385.13,47.49 L385.41,47.53 L385.68,47.58 L385.96,47.64 L386.24,47.69 L386.51,47.75 L386.79,47.81 L387.06,47.87 L387.34,47.93 L387.62,47.99 L387.89,48.06 L388.17,48.12 L388.44,48.18 L388.72,48.25 L388.99,48.31 L389.27,48.37 L389.55,48.43 L389.82,48.49 L390.1,48.55 L390.37,48.6 L390.65,48.66 L390.93,48.71 L391.2,48.75 L391.48,48.8 L391.75,48.83 L392.03,48.87 L392.3,48.9 L392.58,48.93 L392.86,48.95 L393.13,48.96 L393.41,48.97 L393.68,48.97 L393.96,48.97 L394.24,48.96 L394.51,48.95 L394.79,48.93 L395.06,48.9 L395.34,48.87 L395.61,48.83 L395.89,48.8 L396.17,48.75 L396.44,48.71 L396.72,48.66 L396.99,48.6 L397.27,48.55 L397.55,48.49 L397.82,48.43 L398.1,48.37 L398.37,48.31 L398.65,48.25 L398.92,48.18 L399.2,48.12 L399.48,48.06 L399.75,47.99 L400.03,47.93 L400.3,47.87 L400.58,47.81 L400.86,47.75 L401.13,47.69 L401.41,47.64 L401.68,47.58 L401.96,47.53 L402.23,47.49 L402.51,47.44 L402.79,47.41 L403.06,47.37 L403.34,47.34 L403.61,47.31 L403.89,47.29 L404.17,47.28 L404.44,47.27 L404.72,47.27 L404.99,47.27 L405.27,47.28 L405.54,47.29 L405.82,47.3 L406.1,47.32 L406.37,47.34 L406.65,47.37 L406.92,47.4 L407.2,47.43 L407.48,47.47 L407.75,47.5 L408.03,47.54 L408.3,47.58 L408.58,47.63 L408.85,47.67 L409.13,47.72 L409.41,47.76 L409.68,47.81 L409.96,47.86 L410.23,47.91 L410.51,47.95 L410.79,48 L411.06,48.05 L411.34,48.1 L411.61,48.14 L411.89,48.19 L412.16,48.23 L412.44,48.27 L412.72,48.31 L412.99,48.35 L413.27,48.38 L413.54,48.41 L413.82,48.44 L414.1,48.47 L414.37,48.49 L414.65,48.51 L414.92,48.53 L415.2,48.54 L415.47,48.54 L415.75,48.55 L416.03,48.55 L416.3,48.55 L416.58,48.54 L416.85,48.54 L417.13,48.54 L417.4,48.54 L417.68,48.54 L417.96,48.53 L418.23,48.53 L418.51,48.52 L418.78,48.52 L419.06,48.52 L419.34,48.51 L419.61,48.51 L419.89,48.5 L420.16,48.49 L420.44,48.49 L420.72,48.48 L420.99,48.47 L421.27,48.47 L421.54,48.46 L421.82,48.45 L422.09,48.45 L422.37,48.44 L422.65,48.43 L422.92,48.42 L423.2,48.41 L423.47,48.4 L423.75,48.4 L424.02,48.39 L424.3,48.38 L424.58,48.37 L424.85,48.36 L425.13,48.35 L425.4,48.34 L425.68,48.33 L425.96,48.32 L426.23,48.31 L426.51,48.3 L426.78,48.29 L427.06,48.28 L427.34,48.27 L427.61,48.27 L427.89,48.26 L428.16,48.25 L428.44,48.24 L428.71,48.23 L428.99,48.22 L429.27,48.21 L429.54,48.2 L429.82,48.19 L430.09,48.18 L430.37,48.17 L430.64,48.17 L430.92,48.16 L431.2,48.15 L431.47,48.14 L431.75,48.13 L432.02,48.13 L432.3,48.12" fill="none" stroke="#6468c8" stroke-width="1.2" stroke-linejoin="round" />
<rect x="266.8" y="5.45" width="165.5" height="132.75" fill="none" stroke="#3a3a3a" stroke-width="1.1"/>
<line x1="264.2" y1="133.45" x2="266.8" y2="133.45" stroke="#3a3a3a" stroke-width="1" />
<text transform="translate(262.2,136.4) scale(1,1.05)" font-size="7.9" text-anchor="end" fill="#111" font-weight="bold" >0.0</text>
<line x1="264.2" y1="107.85" x2="266.8" y2="107.85" stroke="#3a3a3a" stroke-width="1" />
<text transform="translate(262.2,110.8) scale(1,1.05)" font-size="7.9" text-anchor="end" fill="#111" font-weight="bold" >0.3</text>
<line x1="264.2" y1="82.25" x2="266.8" y2="82.25" stroke="#3a3a3a" stroke-width="1" />
<text transform="translate(262.2,85.2) scale(1,1.05)" font-size="7.9" text-anchor="end" fill="#111" font-weight="bold" >0.6</text>
<line x1="264.2" y1="56.65" x2="266.8" y2="56.65" stroke="#3a3a3a" stroke-width="1" />
<text transform="translate(262.2,59.6) scale(1,1.05)" font-size="7.9" text-anchor="end" fill="#111" font-weight="bold" >0.9</text>
<line x1="264.2" y1="31.05" x2="266.8" y2="31.05" stroke="#3a3a3a" stroke-width="1" />
<text transform="translate(262.2,34) scale(1,1.05)" font-size="7.9" text-anchor="end" fill="#111" font-weight="bold" >1.2</text>
<line x1="264.2" y1="5.45" x2="266.8" y2="5.45" stroke="#3a3a3a" stroke-width="1" />
<text transform="translate(262.2,8.4) scale(1,1.05)" font-size="7.9" text-anchor="end" fill="#111" font-weight="bold" >1.5</text>
<line x1="265" y1="120.65" x2="266.8" y2="120.65" stroke="#3a3a3a" stroke-width="1" />
<line x1="265" y1="95.05" x2="266.8" y2="95.05" stroke="#3a3a3a" stroke-width="1" />
<line x1="265" y1="69.45" x2="266.8" y2="69.45" stroke="#3a3a3a" stroke-width="1" />
<line x1="265" y1="43.85" x2="266.8" y2="43.85" stroke="#3a3a3a" stroke-width="1" />
<line x1="265" y1="18.25" x2="266.8" y2="18.25" stroke="#3a3a3a" stroke-width="1" />
<line x1="294.38" y1="138.2" x2="294.38" y2="140.8" stroke="#3a3a3a" stroke-width="1" />
<text transform="translate(294.38,148.75) scale(1,1.05)" font-size="7.9" text-anchor="middle" fill="#111" font-weight="bold" >24300</text>
<line x1="335.76" y1="138.2" x2="335.76" y2="140.8" stroke="#3a3a3a" stroke-width="1" />
<text transform="translate(335.76,148.75) scale(1,1.05)" font-size="7.9" text-anchor="middle" fill="#111" font-weight="bold" >24450</text>
<line x1="377.13" y1="138.2" x2="377.13" y2="140.8" stroke="#3a3a3a" stroke-width="1" />
<text transform="translate(377.13,148.75) scale(1,1.05)" font-size="7.9" text-anchor="middle" fill="#111" font-weight="bold" >24600</text>
<line x1="418.51" y1="138.2" x2="418.51" y2="140.8" stroke="#3a3a3a" stroke-width="1" />
<text transform="translate(418.51,148.75) scale(1,1.05)" font-size="7.9" text-anchor="middle" fill="#111" font-weight="bold" >24750</text>
<line x1="273.7" y1="138.2" x2="273.7" y2="140" stroke="#3a3a3a" stroke-width="1" />
<line x1="315.07" y1="138.2" x2="315.07" y2="140" stroke="#3a3a3a" stroke-width="1" />
<line x1="356.45" y1="138.2" x2="356.45" y2="140" stroke="#3a3a3a" stroke-width="1" />
<line x1="397.82" y1="138.2" x2="397.82" y2="140" stroke="#3a3a3a" stroke-width="1" />
<text x="349.6" y="159" font-size="9.9" text-anchor="middle" fill="#111" font-weight="bold" >Photon energy (eV)</text>
<text transform="translate(243.7,74.55) rotate(-90)" font-size="10.0" text-anchor="middle" font-weight="bold" fill="#111">Normalized χμ (E)</text>
<text x="227.8" y="10.4" font-size="14.2" text-anchor="start" fill="#111" font-weight="bold" >b</text>
<line x1="385" y1="13.5" x2="399" y2="13.5" stroke="#6468c8" stroke-width="1" />
<line x1="385" y1="26.5" x2="399" y2="26.5" stroke="#8e7eb6" stroke-width="1" />
<line x1="385" y1="36.5" x2="399" y2="36.5" stroke="#dca0d4" stroke-width="1" />
<text x="401.8" y="15.2" font-size="7.4" fill="#111" font-weight="bold">PdC<tspan font-size="6.7" dy="3.0">0.13</tspan></text>
<text x="401.8" y="28.2" font-size="7.4" text-anchor="start" fill="#111" font-weight="bold" >Pd foil</text>
<text x="401.8" y="38" font-size="7.4" text-anchor="start" fill="#111" font-weight="bold" >PdO</text>
<path d="M487.3,138.3 L487.58,138.29 L487.85,138.26 L488.13,138.21 L488.41,138.14 L488.69,138.06 L488.96,137.96 L489.24,137.84 L489.52,137.72 L489.79,137.58 L490.07,137.44 L490.35,137.3 L490.62,137.16 L490.9,137.02 L491.18,136.89 L491.45,136.76 L491.73,136.65 L492.01,136.55 L492.29,136.46 L492.56,136.4 L492.84,136.35 L493.12,136.32 L493.39,136.31 L493.67,136.32 L493.95,136.35 L494.23,136.41 L494.5,136.5 L494.78,136.6 L495.06,136.72 L495.33,136.85 L495.61,136.99 L495.89,137.15 L496.16,137.3 L496.44,137.46 L496.72,137.61 L497,137.76 L497.27,137.89 L497.55,138.01 L497.83,138.11 L498.1,138.19 L498.38,138.25 L498.66,138.29 L498.93,138.3 L499.21,138.28 L499.49,138.2 L499.76,138.08 L500.04,137.92 L500.32,137.72 L500.6,137.48 L500.87,137.21 L501.15,136.92 L501.43,136.62 L501.7,136.31 L501.98,135.99 L502.26,135.69 L502.54,135.4 L502.81,135.13 L503.09,134.89 L503.37,134.69 L503.64,134.53 L503.92,134.41 L504.2,134.33 L504.47,134.31 L504.75,134.33 L505.03,134.39 L505.31,134.48 L505.58,134.6 L505.86,134.74 L506.14,134.89 L506.41,135.06 L506.69,135.21 L506.97,135.35 L507.24,135.47 L507.52,135.56 L507.8,135.62 L508.07,135.64 L508.35,135.54 L508.63,135.26 L508.91,134.82 L509.18,134.26 L509.46,133.65 L509.74,133.03 L510.01,132.47 L510.29,132.03 L510.57,131.75 L510.85,131.65 L511.12,131.6 L511.4,131.46 L511.68,131.23 L511.95,130.92 L512.23,130.53 L512.51,130.07 L512.78,129.56 L513.06,129.01 L513.34,128.42 L513.62,127.83 L513.89,127.23 L514.17,126.64 L514.45,126.09 L514.72,125.58 L515,125.12 L515.28,124.73 L515.55,124.42 L515.83,124.19 L516.11,124.05 L516.38,124 L516.66,123.97 L516.94,123.88 L517.22,123.74 L517.49,123.6 L517.77,123.46 L518.05,123.37 L518.32,123.34 L518.6,123.31 L518.88,123.22 L519.15,123.08 L519.43,122.89 L519.71,122.64 L519.99,122.34 L520.26,121.98 L520.54,121.58 L520.82,121.14 L521.09,120.65 L521.37,120.13 L521.65,119.57 L521.92,118.98 L522.2,118.36 L522.48,117.72 L522.76,117.07 L523.03,116.39 L523.31,115.71 L523.59,115.03 L523.86,114.34 L524.14,113.66 L524.42,112.98 L524.7,112.33 L524.97,111.69 L525.25,111.07 L525.53,110.48 L525.8,109.92 L526.08,109.4 L526.36,108.91 L526.63,108.47 L526.91,108.07 L527.19,107.71 L527.47,107.41 L527.74,107.16 L528.02,106.97 L528.3,106.83 L528.57,106.74 L528.85,106.71 L529.13,106.75 L529.4,106.86 L529.68,107.05 L529.96,107.31 L530.24,107.64 L530.51,108.05 L530.79,108.52 L531.07,109.06 L531.34,109.67 L531.62,110.33 L531.9,111.05 L532.17,111.83 L532.45,112.65 L532.73,113.53 L533,114.44 L533.28,115.4 L533.56,116.38 L533.84,117.4 L534.11,118.43 L534.39,119.49 L534.67,120.56 L534.94,121.63 L535.22,122.71 L535.5,123.79 L535.77,124.86 L536.05,125.91 L536.33,126.95 L536.61,127.97 L536.88,128.95 L537.16,129.9 L537.44,130.82 L537.71,131.69 L537.99,132.52 L538.27,133.3 L538.54,134.02 L538.82,134.68 L539.1,135.29 L539.38,135.83 L539.65,136.3 L539.93,136.7 L540.21,137.04 L540.48,137.3 L540.76,137.48 L541.04,137.6 L541.32,137.64 L541.59,137.63 L541.87,137.61 L542.15,137.59 L542.42,137.55 L542.7,137.5 L542.98,137.45 L543.25,137.38 L543.53,137.31 L543.81,137.22 L544.09,137.13 L544.36,137.04 L544.64,136.94 L544.92,136.83 L545.19,136.72 L545.47,136.6 L545.75,136.48 L546.02,136.36 L546.3,136.25 L546.58,136.13 L546.86,136.01 L547.13,135.89 L547.41,135.78 L547.69,135.67 L547.96,135.57 L548.24,135.48 L548.52,135.39 L548.79,135.3 L549.07,135.23 L549.35,135.16 L549.62,135.11 L549.9,135.06 L550.18,135.02 L550.46,135 L550.73,134.98 L551.01,134.98 L551.29,134.97 L551.56,134.95 L551.84,134.92 L552.12,134.88 L552.39,134.83 L552.67,134.76 L552.95,134.69 L553.23,134.6 L553.5,134.5 L553.78,134.39 L554.06,134.28 L554.33,134.15 L554.61,134.01 L554.89,133.87 L555.16,133.71 L555.44,133.55 L555.72,133.38 L556,133.21 L556.27,133.02 L556.55,132.84 L556.83,132.64 L557.1,132.45 L557.38,132.25 L557.66,132.04 L557.94,131.84 L558.21,131.63 L558.49,131.42 L558.77,131.21 L559.04,131 L559.32,130.8 L559.6,130.59 L559.87,130.39 L560.15,130.19 L560.43,129.99 L560.71,129.8 L560.98,129.61 L561.26,129.43 L561.54,129.25 L561.81,129.08 L562.09,128.92 L562.37,128.77 L562.64,128.62 L562.92,128.49 L563.2,128.36 L563.48,128.24 L563.75,128.13 L564.03,128.04 L564.31,127.95 L564.58,127.87 L564.86,127.81 L565.14,127.76 L565.41,127.71 L565.69,127.68 L565.97,127.67 L566.25,127.66 L566.52,127.66 L566.8,127.67 L567.08,127.69 L567.35,127.71 L567.63,127.73 L567.91,127.76 L568.18,127.8 L568.46,127.84 L568.74,127.88 L569.01,127.93 L569.29,127.99 L569.57,128.05 L569.85,128.11 L570.12,128.17 L570.4,128.24 L570.68,128.31 L570.95,128.39 L571.23,128.46 L571.51,128.54 L571.78,128.62 L572.06,128.7 L572.34,128.78 L572.62,128.86 L572.89,128.95 L573.17,129.03 L573.45,129.11 L573.72,129.18 L574,129.26 L574.28,129.33 L574.56,129.41 L574.83,129.47 L575.11,129.54 L575.39,129.6 L575.66,129.66 L575.94,129.72 L576.22,129.77 L576.49,129.81 L576.77,129.85 L577.05,129.89 L577.33,129.92 L577.6,129.94 L577.88,129.96 L578.16,129.98 L578.43,129.98 L578.71,129.99 L578.99,129.99 L579.26,129.98 L579.54,129.98 L579.82,129.97 L580.1,129.96 L580.37,129.95 L580.65,129.94 L580.93,129.92 L581.2,129.91 L581.48,129.89 L581.76,129.87 L582.03,129.85 L582.31,129.83 L582.59,129.81 L582.87,129.78 L583.14,129.76 L583.42,129.73 L583.7,129.71 L583.97,129.68 L584.25,129.66 L584.53,129.63 L584.8,129.6 L585.08,129.58 L585.36,129.55 L585.63,129.53 L585.91,129.5 L586.19,129.48 L586.47,129.46 L586.74,129.44 L587.02,129.42 L587.3,129.4 L587.57,129.39 L587.85,129.37 L588.13,129.36 L588.4,129.35 L588.68,129.34 L588.96,129.33 L589.24,129.33 L589.51,129.32 L589.79,129.32 L590.07,129.33 L590.34,129.35 L590.62,129.38 L590.9,129.42 L591.17,129.48 L591.45,129.54 L591.73,129.62 L592.01,129.71 L592.28,129.8 L592.56,129.9 L592.84,130.01 L593.11,130.13 L593.39,130.24 L593.67,130.36 L593.95,130.49 L594.22,130.61 L594.5,130.73 L594.78,130.85 L595.05,130.96 L595.33,131.07 L595.61,131.17 L595.88,131.26 L596.16,131.35 L596.44,131.43 L596.72,131.49 L596.99,131.55 L597.27,131.59 L597.55,131.62 L597.82,131.64 L598.1,131.65 L598.38,131.66 L598.65,131.68 L598.93,131.72 L599.21,131.76 L599.49,131.83 L599.76,131.9 L600.04,131.99 L600.32,132.09 L600.59,132.2 L600.87,132.31 L601.15,132.44 L601.42,132.57 L601.7,132.7 L601.98,132.84 L602.25,132.98 L602.53,133.12 L602.81,133.26 L603.09,133.39 L603.36,133.52 L603.64,133.65 L603.92,133.76 L604.19,133.87 L604.47,133.97 L604.75,134.06 L605.02,134.13 L605.3,134.2 L605.58,134.24 L605.86,134.28 L606.13,134.3 L606.41,134.31 L606.69,134.31 L606.96,134.33 L607.24,134.35 L607.52,134.37 L607.8,134.41 L608.07,134.45 L608.35,134.5 L608.63,134.56 L608.9,134.62 L609.18,134.69 L609.46,134.76 L609.73,134.83 L610.01,134.92 L610.29,135 L610.57,135.09 L610.84,135.17 L611.12,135.26 L611.4,135.35 L611.67,135.44 L611.95,135.53 L612.23,135.62 L612.5,135.7 L612.78,135.78 L613.06,135.86 L613.34,135.93 L613.61,136 L613.89,136.06 L614.17,136.11 L614.44,136.16 L614.72,136.21 L615,136.24 L615.27,136.27 L615.55,136.29 L615.83,136.3 L616.11,136.31 L616.38,136.3 L616.66,136.29 L616.94,136.28 L617.21,136.25 L617.49,136.22 L617.77,136.19 L618.04,136.15 L618.32,136.1 L618.6,136.05 L618.88,135.99 L619.15,135.93 L619.43,135.86 L619.71,135.79 L619.98,135.72 L620.26,135.64 L620.54,135.56 L620.81,135.47 L621.09,135.39 L621.37,135.3 L621.64,135.21 L621.92,135.11 L622.2,135.02 L622.48,134.93 L622.75,134.84 L623.03,134.74 L623.31,134.65 L623.58,134.56 L623.86,134.48 L624.14,134.39 L624.41,134.31 L624.69,134.23 L624.97,134.16 L625.25,134.09 L625.52,134.02 L625.8,133.96 L626.08,133.9 L626.35,133.85 L626.63,133.8 L626.91,133.76 L627.18,133.73 L627.46,133.7 L627.74,133.67 L628.02,133.66 L628.29,133.65 L628.57,133.65 L628.85,133.65 L629.12,133.65 L629.4,133.65 L629.68,133.66 L629.96,133.67 L630.23,133.68 L630.51,133.69 L630.79,133.71 L631.06,133.72 L631.34,133.74 L631.62,133.76 L631.89,133.78 L632.17,133.8 L632.45,133.83 L632.73,133.85 L633,133.87 L633.28,133.9 L633.56,133.93 L633.83,133.95 L634.11,133.98 L634.39,134 L634.66,134.03 L634.94,134.06 L635.22,134.08 L635.5,134.1 L635.77,134.13 L636.05,134.15 L636.33,134.17 L636.6,134.19 L636.88,134.21 L637.16,134.23 L637.43,134.25 L637.71,134.26 L637.99,134.27 L638.26,134.28 L638.54,134.29 L638.82,134.3 L639.1,134.31 L639.37,134.31 L639.65,134.31 L639.93,134.31 L640.2,134.31 L640.48,134.32 L640.76,134.33 L641.03,134.33 L641.31,134.35 L641.59,134.36 L641.87,134.37 L642.14,134.39 L642.42,134.41 L642.7,134.42 L642.97,134.45 L643.25,134.47 L643.53,134.49 L643.81,134.52 L644.08,134.54 L644.36,134.57 L644.64,134.6 L644.91,134.63 L645.19,134.65 L645.47,134.68 L645.74,134.72 L646.02,134.75 L646.3,134.78 L646.58,134.81 L646.85,134.84 L647.13,134.87 L647.41,134.9 L647.68,134.93 L647.96,134.96 L648.24,134.99 L648.51,135.02 L648.79,135.05 L649.07,135.08 L649.35,135.1 L649.62,135.13 L649.9,135.15 L650.18,135.17 L650.45,135.19 L650.73,135.21 L651.01,135.23 L651.28,135.25 L651.56,135.26 L651.84,135.27 L652.12,135.28 L652.39,135.29 L652.67,135.3 L652.95,135.3 L653.22,135.31 L653.5,135.31" fill="none" stroke="#6670cc" stroke-width="1" stroke-linejoin="round" />
<path d="M487.3,137.64 L487.58,137.62 L487.85,137.59 L488.13,137.53 L488.41,137.44 L488.69,137.34 L488.96,137.22 L489.24,137.09 L489.52,136.95 L489.79,136.79 L490.07,136.64 L490.35,136.48 L490.62,136.33 L490.9,136.18 L491.18,136.05 L491.45,135.93 L491.73,135.83 L492.01,135.75 L492.29,135.69 L492.56,135.65 L492.84,135.64 L493.12,135.65 L493.39,135.69 L493.67,135.75 L493.95,135.83 L494.23,135.93 L494.5,136.05 L494.78,136.18 L495.06,136.33 L495.33,136.48 L495.61,136.64 L495.89,136.79 L496.16,136.95 L496.44,137.09 L496.72,137.22 L497,137.34 L497.27,137.44 L497.55,137.53 L497.83,137.59 L498.1,137.62 L498.38,137.64 L498.66,137.62 L498.93,137.57 L499.21,137.49 L499.49,137.38 L499.76,137.25 L500.04,137.09 L500.32,136.91 L500.6,136.72 L500.87,136.51 L501.15,136.31 L501.43,136.1 L501.7,135.89 L501.98,135.7 L502.26,135.52 L502.54,135.36 L502.81,135.23 L503.09,135.12 L503.37,135.04 L503.64,134.99 L503.92,134.98 L504.2,134.99 L504.47,135.03 L504.75,135.09 L505.03,135.17 L505.31,135.27 L505.58,135.39 L505.86,135.52 L506.14,135.66 L506.41,135.81 L506.69,135.95 L506.97,136.09 L507.24,136.22 L507.52,136.34 L507.8,136.44 L508.07,136.53 L508.35,136.59 L508.63,136.62 L508.91,136.64 L509.18,136.6 L509.46,136.49 L509.74,136.32 L510.01,136.07 L510.29,135.75 L510.57,135.38 L510.85,134.94 L511.12,134.45 L511.4,133.9 L511.68,133.31 L511.95,132.68 L512.23,132.02 L512.51,131.33 L512.78,130.62 L513.06,129.89 L513.34,129.16 L513.62,128.42 L513.89,127.7 L514.17,126.98 L514.45,126.29 L514.72,125.63 L515,125 L515.28,124.41 L515.55,123.87 L515.83,123.37 L516.11,122.94 L516.38,122.56 L516.66,122.24 L516.94,122 L517.22,121.82 L517.49,121.71 L517.77,121.68 L518.05,121.66 L518.32,121.61 L518.6,121.54 L518.88,121.45 L519.15,121.34 L519.43,121.24 L519.71,121.15 L519.99,121.07 L520.26,121.03 L520.54,121.01 L520.82,120.95 L521.09,120.76 L521.37,120.46 L521.65,120.04 L521.92,119.5 L522.2,118.85 L522.48,118.1 L522.76,117.26 L523.03,116.33 L523.31,115.32 L523.59,114.24 L523.86,113.11 L524.14,111.92 L524.42,110.71 L524.7,109.46 L524.97,108.21 L525.25,106.95 L525.53,105.71 L525.8,104.49 L526.08,103.31 L526.36,102.17 L526.63,101.1 L526.91,100.09 L527.19,99.16 L527.47,98.31 L527.74,97.56 L528.02,96.92 L528.3,96.38 L528.57,95.96 L528.85,95.65 L529.13,95.47 L529.4,95.41 L529.68,95.47 L529.96,95.66 L530.24,95.98 L530.51,96.42 L530.79,96.99 L531.07,97.67 L531.34,98.47 L531.62,99.38 L531.9,100.39 L532.17,101.49 L532.45,102.69 L532.73,103.97 L533,105.33 L533.28,106.75 L533.56,108.24 L533.84,109.77 L534.11,111.34 L534.39,112.94 L534.67,114.56 L534.94,116.19 L535.22,117.82 L535.5,119.44 L535.77,121.04 L536.05,122.61 L536.33,124.14 L536.61,125.62 L536.88,127.05 L537.16,128.4 L537.44,129.69 L537.71,130.88 L537.99,131.99 L538.27,133 L538.54,133.91 L538.82,134.7 L539.1,135.39 L539.38,135.95 L539.65,136.4 L539.93,136.71 L540.21,136.91 L540.48,136.97 L540.76,136.92 L541.04,136.78 L541.32,136.56 L541.59,136.28 L541.87,135.97 L542.15,135.66 L542.42,135.39 L542.7,135.17 L542.98,135.02 L543.25,134.98 L543.53,135.02 L543.81,135.17 L544.09,135.39 L544.36,135.66 L544.64,135.97 L544.92,136.28 L545.19,136.56 L545.47,136.78 L545.75,136.92 L546.02,136.97 L546.3,136.85 L546.58,136.51 L546.86,135.95 L547.13,135.18 L547.41,134.24 L547.69,133.15 L547.96,131.94 L548.24,130.65 L548.52,129.32 L548.79,127.99 L549.07,126.71 L549.35,125.5 L549.62,124.41 L549.9,123.46 L550.18,122.7 L550.46,122.14 L550.73,121.79 L551.01,121.68 L551.29,121.64 L551.56,121.53 L551.84,121.35 L552.12,121.1 L552.39,120.8 L552.67,120.44 L552.95,120.04 L553.23,119.61 L553.5,119.15 L553.78,118.68 L554.06,118.21 L554.33,117.76 L554.61,117.32 L554.89,116.92 L555.16,116.57 L555.44,116.26 L555.72,116.02 L556,115.84 L556.27,115.73 L556.55,115.69 L556.83,115.66 L557.1,115.58 L557.38,115.44 L557.66,115.25 L557.94,115.03 L558.21,114.77 L558.49,114.49 L558.77,114.19 L559.04,113.9 L559.32,113.62 L559.6,113.36 L559.87,113.14 L560.15,112.95 L560.43,112.81 L560.71,112.73 L560.98,112.7 L561.26,112.63 L561.54,112.43 L561.81,112.1 L562.09,111.63 L562.37,111.05 L562.64,110.35 L562.92,109.54 L563.2,108.63 L563.48,107.63 L563.75,106.55 L564.03,105.4 L564.31,104.2 L564.58,102.95 L564.86,101.68 L565.14,100.4 L565.41,99.11 L565.69,97.84 L565.97,96.59 L566.25,95.39 L566.52,94.24 L566.8,93.16 L567.08,92.16 L567.35,91.25 L567.63,90.44 L567.91,89.74 L568.18,89.16 L568.46,88.69 L568.74,88.36 L569.01,88.16 L569.29,88.09 L569.57,88.14 L569.85,88.27 L570.12,88.5 L570.4,88.81 L570.68,89.21 L570.95,89.7 L571.23,90.27 L571.51,90.92 L571.78,91.64 L572.06,92.44 L572.34,93.3 L572.62,94.23 L572.89,95.22 L573.17,96.26 L573.45,97.36 L573.72,98.49 L574,99.66 L574.28,100.87 L574.56,102.1 L574.83,103.35 L575.11,104.61 L575.39,105.88 L575.66,107.15 L575.94,108.41 L576.22,109.66 L576.49,110.89 L576.77,112.1 L577.05,113.27 L577.33,114.41 L577.6,115.5 L577.88,116.54 L578.16,117.53 L578.43,118.46 L578.71,119.33 L578.99,120.12 L579.26,120.85 L579.54,121.49 L579.82,122.06 L580.1,122.55 L580.37,122.95 L580.65,123.26 L580.93,123.49 L581.2,123.62 L581.48,123.67 L581.76,123.7 L582.03,123.78 L582.31,123.92 L582.59,124.11 L582.87,124.35 L583.14,124.64 L583.42,124.98 L583.7,125.36 L583.97,125.79 L584.25,126.25 L584.53,126.74 L584.8,127.26 L585.08,127.81 L585.36,128.38 L585.63,128.96 L585.91,129.56 L586.19,130.15 L586.47,130.75 L586.74,131.35 L587.02,131.93 L587.3,132.5 L587.57,133.04 L587.85,133.57 L588.13,134.06 L588.4,134.52 L588.68,134.95 L588.96,135.33 L589.24,135.67 L589.51,135.96 L589.79,136.2 L590.07,136.39 L590.34,136.53 L590.62,136.61 L590.9,136.64 L591.17,136.62 L591.45,136.56 L591.73,136.47 L592.01,136.34 L592.28,136.18 L592.56,135.98 L592.84,135.75 L593.11,135.49 L593.39,135.2 L593.67,134.89 L593.95,134.56 L594.22,134.21 L594.5,133.84 L594.78,133.46 L595.05,133.07 L595.33,132.68 L595.61,132.28 L595.88,131.89 L596.16,131.5 L596.44,131.12 L596.72,130.75 L596.99,130.4 L597.27,130.07 L597.55,129.76 L597.82,129.47 L598.1,129.21 L598.38,128.98 L598.65,128.79 L598.93,128.62 L599.21,128.49 L599.49,128.4 L599.76,128.34 L600.04,128.33 L600.32,128.33 L600.59,128.36 L600.87,128.4 L601.15,128.47 L601.42,128.54 L601.7,128.64 L601.98,128.75 L602.25,128.88 L602.53,129.02 L602.81,129.17 L603.09,129.34 L603.36,129.52 L603.64,129.72 L603.92,129.92 L604.19,130.13 L604.47,130.35 L604.75,130.58 L605.02,130.81 L605.3,131.05 L605.58,131.29 L605.86,131.53 L606.13,131.77 L606.41,132.01 L606.69,132.25 L606.96,132.49 L607.24,132.72 L607.52,132.95 L607.8,133.17 L608.07,133.38 L608.35,133.58 L608.63,133.78 L608.9,133.96 L609.18,134.13 L609.46,134.28 L609.73,134.42 L610.01,134.55 L610.29,134.66 L610.57,134.76 L610.84,134.83 L611.12,134.9 L611.4,134.94 L611.67,134.97 L611.95,134.98 L612.23,134.98 L612.5,135 L612.78,135.04 L613.06,135.08 L613.34,135.14 L613.61,135.21 L613.89,135.29 L614.17,135.38 L614.44,135.47 L614.72,135.58 L615,135.69 L615.27,135.8 L615.55,135.91 L615.83,136.03 L616.11,136.15 L616.38,136.26 L616.66,136.37 L616.94,136.47 L617.21,136.57 L617.49,136.66 L617.77,136.74 L618.04,136.81 L618.32,136.86 L618.6,136.91 L618.88,136.94 L619.15,136.96 L619.43,136.97 L619.71,136.95 L619.98,136.91 L620.26,136.83 L620.54,136.72 L620.81,136.58 L621.09,136.42 L621.37,136.22 L621.64,136.01 L621.92,135.77 L622.2,135.5 L622.48,135.22 L622.75,134.93 L623.03,134.62 L623.31,134.3 L623.58,133.98 L623.86,133.64 L624.14,133.31 L624.41,132.98 L624.69,132.66 L624.97,132.34 L625.25,132.03 L625.52,131.73 L625.8,131.45 L626.08,131.19 L626.35,130.95 L626.63,130.73 L626.91,130.54 L627.18,130.38 L627.46,130.24 L627.74,130.13 L628.02,130.05 L628.29,130 L628.57,129.99 L628.85,130 L629.12,130.04 L629.4,130.1 L629.68,130.19 L629.96,130.3 L630.23,130.44 L630.51,130.6 L630.79,130.78 L631.06,130.98 L631.34,131.2 L631.62,131.44 L631.89,131.7 L632.17,131.97 L632.45,132.26 L632.73,132.55 L633,132.86 L633.28,133.17 L633.56,133.49 L633.83,133.82 L634.11,134.14 L634.39,134.47 L634.66,134.79 L634.94,135.11 L635.22,135.43 L635.5,135.73 L635.77,136.03 L636.05,136.32 L636.33,136.59 L636.6,136.84 L636.88,137.08 L637.16,137.3 L637.43,137.51 L637.71,137.69 L637.99,137.85 L638.26,137.98 L638.54,138.1 L638.82,138.19 L639.1,138.25 L639.37,138.29 L639.65,138.3 L639.93,138.3 L640.2,138.29 L640.48,138.27 L640.76,138.24 L641.03,138.21 L641.31,138.17 L641.59,138.13 L641.87,138.08 L642.14,138.03 L642.42,137.97 L642.7,137.91 L642.97,137.84 L643.25,137.77 L643.53,137.7 L643.81,137.64 L644.08,137.57 L644.36,137.5 L644.64,137.43 L644.91,137.36 L645.19,137.3 L645.47,137.24 L645.74,137.19 L646.02,137.14 L646.3,137.1 L646.58,137.06 L646.85,137.03 L647.13,137 L647.41,136.98 L647.68,136.97 L647.96,136.97 L648.24,136.97 L648.51,136.99 L648.79,137.01 L649.07,137.03 L649.35,137.07 L649.62,137.11 L649.9,137.15 L650.18,137.2 L650.45,137.25 L650.73,137.3 L651.01,137.35 L651.28,137.41 L651.56,137.45 L651.84,137.5 L652.12,137.54 L652.39,137.57 L652.67,137.6 L652.95,137.62 L653.22,137.63 L653.5,137.64" fill="none" stroke="#d994cc" stroke-width="1" stroke-linejoin="round" />
<path d="M487.3,138.3 L487.58,138.28 L487.85,138.23 L488.13,138.14 L488.41,138.01 L488.69,137.85 L488.96,137.67 L489.24,137.45 L489.52,137.22 L489.79,136.97 L490.07,136.7 L490.35,136.42 L490.62,136.14 L490.9,135.86 L491.18,135.58 L491.45,135.31 L491.73,135.06 L492.01,134.82 L492.29,134.61 L492.56,134.42 L492.84,134.27 L493.12,134.14 L493.39,134.05 L493.67,134 L493.95,133.98 L494.23,134 L494.5,134.07 L494.78,134.17 L495.06,134.32 L495.33,134.51 L495.61,134.72 L495.89,134.97 L496.16,135.24 L496.44,135.53 L496.72,135.83 L497,136.14 L497.27,136.45 L497.55,136.75 L497.83,137.04 L498.1,137.31 L498.38,137.55 L498.66,137.77 L498.93,137.96 L499.21,138.1 L499.49,138.21 L499.76,138.28 L500.04,138.3 L500.32,138.26 L500.6,138.15 L500.87,137.96 L501.15,137.7 L501.43,137.39 L501.7,137.02 L501.98,136.61 L502.26,136.17 L502.54,135.71 L502.81,135.24 L503.09,134.78 L503.37,134.34 L503.64,133.93 L503.92,133.56 L504.2,133.24 L504.47,132.99 L504.75,132.8 L505.03,132.69 L505.31,132.65 L505.58,132.68 L505.86,132.76 L506.14,132.9 L506.41,133.1 L506.69,133.34 L506.97,133.62 L507.24,133.95 L507.52,134.3 L507.8,134.68 L508.07,135.07 L508.35,135.47 L508.63,135.88 L508.91,136.27 L509.18,136.65 L509.46,137 L509.74,137.32 L510.01,137.61 L510.29,137.85 L510.57,138.04 L510.85,138.19 L511.12,138.27 L511.4,138.3 L511.68,138.24 L511.95,138.06 L512.23,137.76 L512.51,137.35 L512.78,136.85 L513.06,136.27 L513.34,135.61 L513.62,134.91 L513.89,134.18 L514.17,133.44 L514.45,132.71 L514.72,132.01 L515,131.36 L515.28,130.77 L515.55,130.27 L515.83,129.86 L516.11,129.57 L516.38,129.38 L516.66,129.32 L516.94,129.35 L517.22,129.45 L517.49,129.6 L517.77,129.81 L518.05,130.08 L518.32,130.39 L518.6,130.75 L518.88,131.15 L519.15,131.58 L519.43,132.03 L519.71,132.5 L519.99,132.98 L520.26,133.46 L520.54,133.93 L520.82,134.38 L521.09,134.81 L521.37,135.21 L521.65,135.57 L521.92,135.88 L522.2,136.15 L522.48,136.36 L522.76,136.51 L523.03,136.61 L523.31,136.64 L523.59,136.56 L523.86,136.35 L524.14,135.99 L524.42,135.5 L524.7,134.89 L524.97,134.17 L525.25,133.35 L525.53,132.46 L525.8,131.5 L526.08,130.51 L526.36,129.49 L526.63,128.47 L526.91,127.47 L527.19,126.52 L527.47,125.62 L527.74,124.81 L528.02,124.09 L528.3,123.47 L528.57,122.99 L528.85,122.63 L529.13,122.41 L529.4,122.34 L529.68,122.46 L529.96,122.83 L530.24,123.43 L530.51,124.24 L530.79,125.22 L531.07,126.34 L531.34,127.56 L531.62,128.82 L531.9,130.09 L532.17,131.3 L532.45,132.43 L532.73,133.41 L533,134.21 L533.28,134.81 L533.56,135.18 L533.84,135.31 L534.11,135.21 L534.39,134.92 L534.67,134.45 L534.94,133.79 L535.22,132.95 L535.5,131.94 L535.77,130.78 L536.05,129.46 L536.33,128.02 L536.61,126.46 L536.88,124.79 L537.16,123.05 L537.44,121.23 L537.71,119.37 L537.99,117.47 L538.27,115.57 L538.54,113.68 L538.82,111.81 L539.1,110 L539.38,108.25 L539.65,106.58 L539.93,105.02 L540.21,103.58 L540.48,102.27 L540.76,101.1 L541.04,100.1 L541.32,99.26 L541.59,98.6 L541.87,98.12 L542.15,97.83 L542.42,97.74 L542.7,97.83 L542.98,98.11 L543.25,98.57 L543.53,99.17 L543.81,99.9 L544.09,100.71 L544.36,101.56 L544.64,102.41 L544.92,103.22 L545.19,103.94 L545.47,104.55 L545.75,105 L546.02,105.29 L546.3,105.38 L546.58,105.27 L546.86,104.94 L547.13,104.4 L547.41,103.64 L547.69,102.68 L547.96,101.52 L548.24,100.17 L548.52,98.63 L548.79,96.92 L549.07,95.06 L549.35,93.05 L549.62,90.91 L549.9,88.66 L550.18,86.3 L550.46,83.87 L550.73,81.37 L551.01,78.82 L551.29,76.25 L551.56,73.67 L551.84,71.09 L552.12,68.55 L552.39,66.05 L552.67,63.62 L552.95,61.26 L553.23,59.01 L553.5,56.87 L553.78,54.86 L554.06,52.99 L554.33,51.29 L554.61,49.75 L554.89,48.4 L555.16,47.24 L555.44,46.27 L555.72,45.52 L556,44.97 L556.27,44.64 L556.55,44.54 L556.83,44.68 L557.1,45.1 L557.38,45.81 L557.66,46.8 L557.94,48.05 L558.21,49.57 L558.49,51.35 L558.77,53.36 L559.04,55.61 L559.32,58.07 L559.6,60.74 L559.87,63.59 L560.15,66.6 L560.43,69.77 L560.71,73.07 L560.98,76.47 L561.26,79.96 L561.54,83.52 L561.81,87.13 L562.09,90.75 L562.37,94.38 L562.64,97.98 L562.92,101.54 L563.2,105.03 L563.48,108.44 L563.75,111.73 L564.03,114.9 L564.31,117.92 L564.58,120.77 L564.86,123.43 L565.14,125.9 L565.41,128.14 L565.69,130.16 L565.97,131.93 L566.25,133.45 L566.52,134.71 L566.8,135.69 L567.08,136.4 L567.35,136.83 L567.63,136.97 L567.91,136.89 L568.18,136.67 L568.46,136.3 L568.74,135.8 L569.01,135.17 L569.29,134.43 L569.57,133.61 L569.85,132.72 L570.12,131.78 L570.4,130.82 L570.68,129.86 L570.95,128.92 L571.23,128.03 L571.51,127.2 L571.78,126.47 L572.06,125.84 L572.34,125.34 L572.62,124.97 L572.89,124.74 L573.17,124.67 L573.45,124.72 L573.72,124.89 L574,125.17 L574.28,125.54 L574.56,126.01 L574.83,126.55 L575.11,127.15 L575.39,127.8 L575.66,128.48 L575.94,129.17 L576.22,129.84 L576.49,130.49 L576.77,131.1 L577.05,131.64 L577.33,132.1 L577.6,132.48 L577.88,132.75 L578.16,132.92 L578.43,132.98 L578.71,132.97 L578.99,132.93 L579.26,132.87 L579.54,132.78 L579.82,132.67 L580.1,132.54 L580.37,132.38 L580.65,132.21 L580.93,132.01 L581.2,131.8 L581.48,131.56 L581.76,131.32 L582.03,131.06 L582.31,130.79 L582.59,130.51 L582.87,130.22 L583.14,129.93 L583.42,129.64 L583.7,129.34 L583.97,129.05 L584.25,128.75 L584.53,128.47 L584.8,128.19 L585.08,127.92 L585.36,127.66 L585.63,127.41 L585.91,127.18 L586.19,126.97 L586.47,126.77 L586.74,126.6 L587.02,126.44 L587.3,126.31 L587.57,126.2 L587.85,126.11 L588.13,126.05 L588.4,126.01 L588.68,126 L588.96,126.05 L589.24,126.21 L589.51,126.46 L589.79,126.82 L590.07,127.26 L590.34,127.78 L590.62,128.36 L590.9,129.01 L591.17,129.7 L591.45,130.42 L591.73,131.15 L592.01,131.88 L592.28,132.6 L592.56,133.29 L592.84,133.94 L593.11,134.53 L593.39,135.05 L593.67,135.49 L593.95,135.84 L594.22,136.1 L594.5,136.25 L594.78,136.31 L595.05,136.26 L595.33,136.11 L595.61,135.86 L595.88,135.53 L596.16,135.12 L596.44,134.65 L596.72,134.12 L596.99,133.55 L597.27,132.95 L597.55,132.35 L597.82,131.75 L598.1,131.18 L598.38,130.65 L598.65,130.17 L598.93,129.76 L599.21,129.43 L599.49,129.19 L599.76,129.04 L600.04,128.99 L600.32,129.02 L600.59,129.1 L600.87,129.24 L601.15,129.42 L601.42,129.63 L601.7,129.87 L601.98,130.11 L602.25,130.34 L602.53,130.55 L602.81,130.73 L603.09,130.87 L603.36,130.96 L603.64,130.99 L603.92,130.95 L604.19,130.85 L604.47,130.69 L604.75,130.46 L605.02,130.17 L605.3,129.81 L605.58,129.41 L605.86,128.95 L606.13,128.44 L606.41,127.88 L606.69,127.28 L606.96,126.65 L607.24,125.99 L607.52,125.31 L607.8,124.61 L608.07,123.89 L608.35,123.17 L608.63,122.45 L608.9,121.74 L609.18,121.03 L609.46,120.35 L609.73,119.69 L610.01,119.06 L610.29,118.46 L610.57,117.91 L610.84,117.4 L611.12,116.94 L611.4,116.53 L611.67,116.18 L611.95,115.89 L612.23,115.66 L612.5,115.49 L612.78,115.39 L613.06,115.36 L613.34,115.44 L613.61,115.67 L613.89,116.05 L614.17,116.58 L614.44,117.24 L614.72,118.03 L615,118.94 L615.27,119.95 L615.55,121.05 L615.83,122.22 L616.11,123.45 L616.38,124.71 L616.66,126 L616.94,127.28 L617.21,128.54 L617.49,129.77 L617.77,130.94 L618.04,132.04 L618.32,133.05 L618.6,133.96 L618.88,134.75 L619.15,135.42 L619.43,135.95 L619.71,136.33 L619.98,136.56 L620.26,136.64 L620.54,136.57 L620.81,136.36 L621.09,136.02 L621.37,135.55 L621.64,134.95 L621.92,134.25 L622.2,133.45 L622.48,132.56 L622.75,131.61 L623.03,130.6 L623.31,129.55 L623.58,128.49 L623.86,127.43 L624.14,126.38 L624.41,125.37 L624.69,124.42 L624.97,123.53 L625.25,122.73 L625.52,122.03 L625.8,121.44 L626.08,120.97 L626.35,120.62 L626.63,120.41 L626.91,120.35 L627.18,120.39 L627.46,120.51 L627.74,120.71 L628.02,120.99 L628.29,121.35 L628.57,121.77 L628.85,122.27 L629.12,122.83 L629.4,123.44 L629.68,124.11 L629.96,124.83 L630.23,125.58 L630.51,126.36 L630.79,127.17 L631.06,127.99 L631.34,128.82 L631.62,129.65 L631.89,130.48 L632.17,131.29 L632.45,132.07 L632.73,132.82 L633,133.53 L633.28,134.2 L633.56,134.82 L633.83,135.38 L634.11,135.87 L634.39,136.3 L634.66,136.66 L634.94,136.94 L635.22,137.14 L635.5,137.26 L635.77,137.3 L636.05,137.29 L636.33,137.24 L636.6,137.16 L636.88,137.06 L637.16,136.93 L637.43,136.78 L637.71,136.61 L637.99,136.42 L638.26,136.23 L638.54,136.04 L638.82,135.85 L639.1,135.67 L639.37,135.5 L639.65,135.35 L639.93,135.22 L640.2,135.12 L640.48,135.04 L640.76,134.99 L641.03,134.98 L641.31,134.99 L641.59,135.02 L641.87,135.07 L642.14,135.13 L642.42,135.22 L642.7,135.32 L642.97,135.43 L643.25,135.55 L643.53,135.68 L643.81,135.81 L644.08,135.94 L644.36,136.06 L644.64,136.18 L644.91,136.29 L645.19,136.39 L645.47,136.48 L645.74,136.55 L646.02,136.6 L646.3,136.63 L646.58,136.64 L646.85,136.63 L647.13,136.63 L647.41,136.61 L647.68,136.6 L647.96,136.57 L648.24,136.55 L648.51,136.52 L648.79,136.48 L649.07,136.45 L649.35,136.41 L649.62,136.37 L649.9,136.33 L650.18,136.28 L650.45,136.24 L650.73,136.2 L651.01,136.16 L651.28,136.13 L651.56,136.09 L651.84,136.06 L652.12,136.04 L652.39,136.01 L652.67,136 L652.95,135.98 L653.22,135.98 L653.5,135.97" fill="none" stroke="#8878b2" stroke-width="1" stroke-linejoin="round" />
<line x1="528.85" y1="90" x2="528.85" y2="118" stroke="#6670cc" stroke-width="1" stroke-dasharray="1 1.5"/>
<line x1="566" y1="80" x2="566" y2="137" stroke="#7f80c6" stroke-width="1" stroke-dasharray="1 1.5"/>
<line x1="528.1" y1="89.2" x2="516.2" y2="70.3" stroke="#6670cc" stroke-width="0.9"/>
<path d="M514.9,68.3 L518.0,70.4 L515.3,72.1 Z" fill="#6670cc"/>
<line x1="566.2" y1="79.3" x2="586" y2="64.1" stroke="#6670cc" stroke-width="0.9"/>
<path d="M588,62.6 L586.6,65.9 L584.6,63.3 Z" fill="#6670cc"/>
<text x="498.6" y="65.9" font-size="7.1" text-anchor="start" fill="#6a70c4" font-weight="bold" >Pd-C</text>
<text x="591" y="62.7" font-size="7" text-anchor="start" fill="#7a80c8" font-weight="bold" >Pd-Pd</text>
<rect x="487.3" y="5.3" width="166.2" height="133" fill="none" stroke="#3a3a3a" stroke-width="1.1"/>
<line x1="484.7" y1="138.3" x2="487.3" y2="138.3" stroke="#3a3a3a" stroke-width="1" />
<text transform="translate(483.3,141.25) scale(1,1.05)" font-size="7.9" text-anchor="end" fill="#111" font-weight="bold" >0</text>
<line x1="484.7" y1="105.05" x2="487.3" y2="105.05" stroke="#3a3a3a" stroke-width="1" />
<text transform="translate(483.3,108) scale(1,1.05)" font-size="7.9" text-anchor="end" fill="#111" font-weight="bold" >1</text>
<line x1="484.7" y1="71.8" x2="487.3" y2="71.8" stroke="#3a3a3a" stroke-width="1" />
<text transform="translate(483.3,74.75) scale(1,1.05)" font-size="7.9" text-anchor="end" fill="#111" font-weight="bold" >2</text>
<line x1="484.7" y1="38.55" x2="487.3" y2="38.55" stroke="#3a3a3a" stroke-width="1" />
<text transform="translate(483.3,41.5) scale(1,1.05)" font-size="7.9" text-anchor="end" fill="#111" font-weight="bold" >3</text>
<line x1="484.7" y1="5.3" x2="487.3" y2="5.3" stroke="#3a3a3a" stroke-width="1" />
<text transform="translate(483.3,8.25) scale(1,1.05)" font-size="7.9" text-anchor="end" fill="#111" font-weight="bold" >4</text>
<line x1="485.5" y1="121.68" x2="487.3" y2="121.68" stroke="#3a3a3a" stroke-width="1" />
<line x1="485.5" y1="88.43" x2="487.3" y2="88.43" stroke="#3a3a3a" stroke-width="1" />
<line x1="485.5" y1="55.18" x2="487.3" y2="55.18" stroke="#3a3a3a" stroke-width="1" />
<line x1="485.5" y1="21.93" x2="487.3" y2="21.93" stroke="#3a3a3a" stroke-width="1" />
<line x1="487.3" y1="138.3" x2="487.3" y2="140.9" stroke="#3a3a3a" stroke-width="1" />
<text transform="translate(487.3,148.6) scale(1,1.05)" font-size="7.9" text-anchor="middle" fill="#111" font-weight="bold" >0</text>
<line x1="515" y1="138.3" x2="515" y2="140.9" stroke="#3a3a3a" stroke-width="1" />
<text transform="translate(515,148.6) scale(1,1.05)" font-size="7.9" text-anchor="middle" fill="#111" font-weight="bold" >1</text>
<line x1="542.7" y1="138.3" x2="542.7" y2="140.9" stroke="#3a3a3a" stroke-width="1" />
<text transform="translate(542.7,148.6) scale(1,1.05)" font-size="7.9" text-anchor="middle" fill="#111" font-weight="bold" >2</text>
<line x1="570.4" y1="138.3" x2="570.4" y2="140.9" stroke="#3a3a3a" stroke-width="1" />
<text transform="translate(570.4,148.6) scale(1,1.05)" font-size="7.9" text-anchor="middle" fill="#111" font-weight="bold" >3</text>
<line x1="598.1" y1="138.3" x2="598.1" y2="140.9" stroke="#3a3a3a" stroke-width="1" />
<text transform="translate(598.1,148.6) scale(1,1.05)" font-size="7.9" text-anchor="middle" fill="#111" font-weight="bold" >4</text>
<line x1="625.8" y1="138.3" x2="625.8" y2="140.9" stroke="#3a3a3a" stroke-width="1" />
<text transform="translate(625.8,148.6) scale(1,1.05)" font-size="7.9" text-anchor="middle" fill="#111" font-weight="bold" >5</text>
<line x1="653.5" y1="138.3" x2="653.5" y2="140.9" stroke="#3a3a3a" stroke-width="1" />
<text transform="translate(653.5,148.6) scale(1,1.05)" font-size="7.9" text-anchor="middle" fill="#111" font-weight="bold" >6</text>
<line x1="501.15" y1="138.3" x2="501.15" y2="140.1" stroke="#3a3a3a" stroke-width="1" />
<line x1="528.85" y1="138.3" x2="528.85" y2="140.1" stroke="#3a3a3a" stroke-width="1" />
<line x1="556.55" y1="138.3" x2="556.55" y2="140.1" stroke="#3a3a3a" stroke-width="1" />
<line x1="584.25" y1="138.3" x2="584.25" y2="140.1" stroke="#3a3a3a" stroke-width="1" />
<line x1="611.95" y1="138.3" x2="611.95" y2="140.1" stroke="#3a3a3a" stroke-width="1" />
<line x1="639.65" y1="138.3" x2="639.65" y2="140.1" stroke="#3a3a3a" stroke-width="1" />
<text x="570.4" y="159.7" font-size="9.9" text-anchor="middle" fill="#111" font-weight="bold" >R (Å)</text>
<text transform="translate(469.8,70.5) rotate(-90)" font-size="9.8" text-anchor="middle" font-weight="bold" fill="#111">FT <tspan font-style="italic">k</tspan><tspan font-size="6.5" dy="-3.5">2</tspan><tspan dy="3.5">χ (k)</tspan></text>
<text x="458.1" y="11" font-size="14" text-anchor="start" fill="#111" font-weight="bold" >c</text>
<line x1="606.4" y1="12.5" x2="620.4" y2="12.5" stroke="#6670cc" stroke-width="1" />
<line x1="606.4" y1="25.5" x2="620.4" y2="25.5" stroke="#8878b2" stroke-width="1" />
<line x1="606.4" y1="35.5" x2="620.4" y2="35.5" stroke="#d994cc" stroke-width="1" />
<text x="623.2" y="15.0" font-size="7.4" fill="#111" font-weight="bold">PdC<tspan font-size="6.7" dy="3.0">0.13</tspan></text>
<text x="623.2" y="27.6" font-size="7.4" text-anchor="start" fill="#111" font-weight="bold" >Pd foil</text>
<text x="623.2" y="37.7" font-size="7.4" text-anchor="start" fill="#111" font-weight="bold" >PdO</text>
<clipPath id="cd"><rect x="26.1" y="179.5" width="153.7" height="147.2"/></clipPath>
<g clip-path="url(#cd)"><g filter="url(#cm)" style="isolation:isolate">
<rect x="24.1" y="177.5" width="157.7" height="151.2" fill="#060606"/>
<radialGradient id="g1"><stop offset="0.000" stop-color="#212121"/><stop offset="0.071" stop-color="#202020"/><stop offset="0.143" stop-color="#1e1e1e"/><stop offset="0.214" stop-color="#1b1b1b"/><stop offset="0.286" stop-color="#171717"/><stop offset="0.357" stop-color="#131313"/><stop offset="0.429" stop-color="#0f0f0f"/><stop offset="0.500" stop-color="#0b0b0b"/><stop offset="0.571" stop-color="#080808"/><stop offset="0.643" stop-color="#050505"/><stop offset="0.714" stop-color="#030303"/><stop offset="0.786" stop-color="#020202"/><stop offset="0.857" stop-color="#010101"/><stop offset="0.929" stop-color="#010101"/><stop offset="1.000" stop-color="#000000"/></radialGradient>
<ellipse cx="102.95" cy="234.7" rx="192.13" ry="47.84" fill="url(#g1)" style="mix-blend-mode:lighten"/>
<radialGradient id="g2"><stop offset="0.000" stop-color="#242424"/><stop offset="0.071" stop-color="#232323"/><stop offset="0.143" stop-color="#212121"/><stop offset="0.214" stop-color="#1d1d1d"/><stop offset="0.286" stop-color="#191919"/><stop offset="0.357" stop-color="#141414"/><stop offset="0.429" stop-color="#101010"/><stop offset="0.500" stop-color="#0c0c0c"/><stop offset="0.571" stop-color="#080808"/><stop offset="0.643" stop-color="#060606"/><stop offset="0.714" stop-color="#040404"/><stop offset="0.786" stop-color="#020202"/><stop offset="0.857" stop-color="#010101"/><stop offset="0.929" stop-color="#010101"/><stop offset="1.000" stop-color="#000000"/></radialGradient>
<ellipse cx="49.16" cy="225.5" rx="57.64" ry="22.08" fill="url(#g2)" style="mix-blend-mode:lighten"/>
<radialGradient id="g3"><stop offset="0.000" stop-color="#212121"/><stop offset="0.071" stop-color="#202020"/><stop offset="0.143" stop-color="#1e1e1e"/><stop offset="0.214" stop-color="#1b1b1b"/><stop offset="0.286" stop-color="#171717"/><stop offset="0.357" stop-color="#131313"/><stop offset="0.429" stop-color="#0f0f0f"/><stop offset="0.500" stop-color="#0b0b0b"/><stop offset="0.571" stop-color="#080808"/><stop offset="0.643" stop-color="#050505"/><stop offset="0.714" stop-color="#030303"/><stop offset="0.786" stop-color="#020202"/><stop offset="0.857" stop-color="#010101"/><stop offset="0.929" stop-color="#010101"/><stop offset="1.000" stop-color="#000000"/></radialGradient>
<ellipse cx="45.31" cy="245.74" rx="64.04" ry="18.4" fill="url(#g3)" style="mix-blend-mode:lighten"/>
<radialGradient id="g4"><stop offset="0.000" stop-color="#1a1a1a"/><stop offset="0.071" stop-color="#191919"/><stop offset="0.143" stop-color="#171717"/><stop offset="0.214" stop-color="#151515"/><stop offset="0.286" stop-color="#121212"/><stop offset="0.357" stop-color="#0e0e0e"/><stop offset="0.429" stop-color="#0b0b0b"/><stop offset="0.500" stop-color="#080808"/><stop offset="0.571" stop-color="#060606"/><stop offset="0.643" stop-color="#040404"/><stop offset="0.714" stop-color="#030303"/><stop offset="0.786" stop-color="#020202"/><stop offset="0.857" stop-color="#010101"/><stop offset="0.929" stop-color="#010101"/><stop offset="1.000" stop-color="#000000"/></radialGradient>
<ellipse cx="64.53" cy="194.22" rx="38.43" ry="22.08" fill="url(#g4)" style="mix-blend-mode:lighten"/>
<radialGradient id="g5"><stop offset="0.000" stop-color="#1f1f1f"/><stop offset="0.071" stop-color="#1e1e1e"/><stop offset="0.143" stop-color="#1c1c1c"/><stop offset="0.214" stop-color="#191919"/><stop offset="0.286" stop-color="#151515"/><stop offset="0.357" stop-color="#111111"/><stop offset="0.429" stop-color="#0d0d0d"/><stop offset="0.500" stop-color="#0a0a0a"/><stop offset="0.571" stop-color="#070707"/><stop offset="0.643" stop-color="#050505"/><stop offset="0.714" stop-color="#030303"/><stop offset="0.786" stop-color="#020202"/><stop offset="0.857" stop-color="#010101"/><stop offset="0.929" stop-color="#010101"/><stop offset="1.000" stop-color="#000000"/></radialGradient>
<ellipse cx="166.99" cy="231.02" rx="38.43" ry="22.08" fill="url(#g5)" style="mix-blend-mode:lighten"/>
<radialGradient id="g6"><stop offset="0.000" stop-color="#333333"/><stop offset="0.071" stop-color="#323232"/><stop offset="0.143" stop-color="#303030"/><stop offset="0.214" stop-color="#2b2b2b"/><stop offset="0.286" stop-color="#242424"/><stop offset="0.357" stop-color="#1c1c1c"/><stop offset="0.429" stop-color="#141414"/><stop offset="0.500" stop-color="#0d0d0d"/><stop offset="0.571" stop-color="#070707"/><stop offset="0.643" stop-color="#040404"/><stop offset="0.714" stop-color="#020202"/><stop offset="0.786" stop-color="#010101"/><stop offset="0.857" stop-color="#000000"/><stop offset="0.929" stop-color="#000000"/><stop offset="1.000" stop-color="#000000"/></radialGradient>
<ellipse cx="110.64" cy="201.58" rx="108.87" ry="88.32" fill="url(#g6)" style="mix-blend-mode:lighten"/>
<radialGradient id="g7"><stop offset="0.000" stop-color="#333333"/><stop offset="0.071" stop-color="#323232"/><stop offset="0.143" stop-color="#2f2f2f"/><stop offset="0.214" stop-color="#292929"/><stop offset="0.286" stop-color="#232323"/><stop offset="0.357" stop-color="#1d1d1d"/><stop offset="0.429" stop-color="#161616"/><stop offset="0.500" stop-color="#111111"/><stop offset="0.571" stop-color="#0c0c0c"/><stop offset="0.643" stop-color="#080808"/><stop offset="0.714" stop-color="#050505"/><stop offset="0.786" stop-color="#030303"/><stop offset="0.857" stop-color="#020202"/><stop offset="0.929" stop-color="#010101"/><stop offset="1.000" stop-color="#000000"/></radialGradient>
<ellipse cx="102.95" cy="267.08" rx="217.74" ry="53.36" fill="url(#g7)" style="mix-blend-mode:lighten"/>
<radialGradient id="g8"><stop offset="0.000" stop-color="#000000" stop-opacity="0.850"/><stop offset="0.071" stop-color="#000000" stop-opacity="0.831"/><stop offset="0.143" stop-color="#000000" stop-opacity="0.775"/><stop offset="0.214" stop-color="#000000" stop-opacity="0.691"/><stop offset="0.286" stop-color="#000000" stop-opacity="0.589"/><stop offset="0.357" stop-color="#000000" stop-opacity="0.479"/><stop offset="0.429" stop-color="#000000" stop-opacity="0.372"/><stop offset="0.500" stop-color="#000000" stop-opacity="0.276"/><stop offset="0.571" stop-color="#000000" stop-opacity="0.196"/><stop offset="0.643" stop-color="#000000" stop-opacity="0.132"/><stop offset="0.714" stop-color="#000000" stop-opacity="0.086"/><stop offset="0.786" stop-color="#000000" stop-opacity="0.053"/><stop offset="0.857" stop-color="#000000" stop-opacity="0.031"/><stop offset="0.929" stop-color="#000000" stop-opacity="0.018"/><stop offset="1.000" stop-color="#000000" stop-opacity="0.000"/></radialGradient>
<ellipse cx="68.37" cy="215.2" rx="23.06" ry="15.46" fill="url(#g8)"/>
<radialGradient id="g9"><stop offset="0.000" stop-color="#000000" stop-opacity="0.800"/><stop offset="0.071" stop-color="#000000" stop-opacity="0.782"/><stop offset="0.143" stop-color="#000000" stop-opacity="0.730"/><stop offset="0.214" stop-color="#000000" stop-opacity="0.651"/><stop offset="0.286" stop-color="#000000" stop-opacity="0.554"/><stop offset="0.357" stop-color="#000000" stop-opacity="0.451"/><stop offset="0.429" stop-color="#000000" stop-opacity="0.350"/><stop offset="0.500" stop-color="#000000" stop-opacity="0.260"/><stop offset="0.571" stop-color="#000000" stop-opacity="0.184"/><stop offset="0.643" stop-color="#000000" stop-opacity="0.125"/><stop offset="0.714" stop-color="#000000" stop-opacity="0.081"/><stop offset="0.786" stop-color="#000000" stop-opacity="0.050"/><stop offset="0.857" stop-color="#000000" stop-opacity="0.029"/><stop offset="0.929" stop-color="#000000" stop-opacity="0.017"/><stop offset="1.000" stop-color="#000000" stop-opacity="0.000"/></radialGradient>
<ellipse cx="33.27" cy="235.8" rx="19.21" ry="12.88" fill="url(#g9)"/>
<radialGradient id="g10"><stop offset="0.000" stop-color="#000000" stop-opacity="0.850"/><stop offset="0.071" stop-color="#000000" stop-opacity="0.831"/><stop offset="0.143" stop-color="#000000" stop-opacity="0.775"/><stop offset="0.214" stop-color="#000000" stop-opacity="0.691"/><stop offset="0.286" stop-color="#000000" stop-opacity="0.589"/><stop offset="0.357" stop-color="#000000" stop-opacity="0.479"/><stop offset="0.429" stop-color="#000000" stop-opacity="0.372"/><stop offset="0.500" stop-color="#000000" stop-opacity="0.276"/><stop offset="0.571" stop-color="#000000" stop-opacity="0.196"/><stop offset="0.643" stop-color="#000000" stop-opacity="0.132"/><stop offset="0.714" stop-color="#000000" stop-opacity="0.086"/><stop offset="0.786" stop-color="#000000" stop-opacity="0.053"/><stop offset="0.857" stop-color="#000000" stop-opacity="0.031"/><stop offset="0.929" stop-color="#000000" stop-opacity="0.018"/><stop offset="1.000" stop-color="#000000" stop-opacity="0.000"/></radialGradient>
<ellipse cx="67.09" cy="256.41" rx="30.74" ry="11.04" fill="url(#g10)"/>
<radialGradient id="g11"><stop offset="0.000" stop-color="#000000" stop-opacity="0.700"/><stop offset="0.071" stop-color="#000000" stop-opacity="0.684"/><stop offset="0.143" stop-color="#000000" stop-opacity="0.639"/><stop offset="0.214" stop-color="#000000" stop-opacity="0.569"/><stop offset="0.286" stop-color="#000000" stop-opacity="0.485"/><stop offset="0.357" stop-color="#000000" stop-opacity="0.394"/><stop offset="0.429" stop-color="#000000" stop-opacity="0.306"/><stop offset="0.500" stop-color="#000000" stop-opacity="0.227"/><stop offset="0.571" stop-color="#000000" stop-opacity="0.161"/><stop offset="0.643" stop-color="#000000" stop-opacity="0.109"/><stop offset="0.714" stop-color="#000000" stop-opacity="0.070"/><stop offset="0.786" stop-color="#000000" stop-opacity="0.044"/><stop offset="0.857" stop-color="#000000" stop-opacity="0.026"/><stop offset="0.929" stop-color="#000000" stop-opacity="0.014"/><stop offset="1.000" stop-color="#000000" stop-opacity="0.000"/></radialGradient>
<ellipse cx="109.99" cy="247.95" rx="23.06" ry="11.04" fill="url(#g11)"/>
<radialGradient id="g12"><stop offset="0.000" stop-color="#000000" stop-opacity="0.850"/><stop offset="0.071" stop-color="#000000" stop-opacity="0.831"/><stop offset="0.143" stop-color="#000000" stop-opacity="0.775"/><stop offset="0.214" stop-color="#000000" stop-opacity="0.691"/><stop offset="0.286" stop-color="#000000" stop-opacity="0.589"/><stop offset="0.357" stop-color="#000000" stop-opacity="0.479"/><stop offset="0.429" stop-color="#000000" stop-opacity="0.372"/><stop offset="0.500" stop-color="#000000" stop-opacity="0.276"/><stop offset="0.571" stop-color="#000000" stop-opacity="0.196"/><stop offset="0.643" stop-color="#000000" stop-opacity="0.132"/><stop offset="0.714" stop-color="#000000" stop-opacity="0.086"/><stop offset="0.786" stop-color="#000000" stop-opacity="0.053"/><stop offset="0.857" stop-color="#000000" stop-opacity="0.031"/><stop offset="0.929" stop-color="#000000" stop-opacity="0.018"/><stop offset="1.000" stop-color="#000000" stop-opacity="0.000"/></radialGradient>
<ellipse cx="151.24" cy="243.9" rx="28.18" ry="11.78" fill="url(#g12)"/>
<radialGradient id="g13"><stop offset="0.000" stop-color="#000000" stop-opacity="0.800"/><stop offset="0.071" stop-color="#000000" stop-opacity="0.782"/><stop offset="0.143" stop-color="#000000" stop-opacity="0.730"/><stop offset="0.214" stop-color="#000000" stop-opacity="0.651"/><stop offset="0.286" stop-color="#000000" stop-opacity="0.554"/><stop offset="0.357" stop-color="#000000" stop-opacity="0.451"/><stop offset="0.429" stop-color="#000000" stop-opacity="0.350"/><stop offset="0.500" stop-color="#000000" stop-opacity="0.260"/><stop offset="0.571" stop-color="#000000" stop-opacity="0.184"/><stop offset="0.643" stop-color="#000000" stop-opacity="0.125"/><stop offset="0.714" stop-color="#000000" stop-opacity="0.081"/><stop offset="0.786" stop-color="#000000" stop-opacity="0.050"/><stop offset="0.857" stop-color="#000000" stop-opacity="0.029"/><stop offset="0.929" stop-color="#000000" stop-opacity="0.017"/><stop offset="1.000" stop-color="#000000" stop-opacity="0.000"/></radialGradient>
<ellipse cx="159.31" cy="211.88" rx="20.49" ry="16.56" fill="url(#g13)"/>
<radialGradient id="g14"><stop offset="0.000" stop-color="#000000" stop-opacity="0.700"/><stop offset="0.071" stop-color="#000000" stop-opacity="0.684"/><stop offset="0.143" stop-color="#000000" stop-opacity="0.639"/><stop offset="0.214" stop-color="#000000" stop-opacity="0.569"/><stop offset="0.286" stop-color="#000000" stop-opacity="0.485"/><stop offset="0.357" stop-color="#000000" stop-opacity="0.394"/><stop offset="0.429" stop-color="#000000" stop-opacity="0.306"/><stop offset="0.500" stop-color="#000000" stop-opacity="0.227"/><stop offset="0.571" stop-color="#000000" stop-opacity="0.161"/><stop offset="0.643" stop-color="#000000" stop-opacity="0.109"/><stop offset="0.714" stop-color="#000000" stop-opacity="0.070"/><stop offset="0.786" stop-color="#000000" stop-opacity="0.044"/><stop offset="0.857" stop-color="#000000" stop-opacity="0.026"/><stop offset="0.929" stop-color="#000000" stop-opacity="0.014"/><stop offset="1.000" stop-color="#000000" stop-opacity="0.000"/></radialGradient>
<ellipse cx="177.24" cy="190.54" rx="33.3" ry="36.8" fill="url(#g14)"/>
<radialGradient id="g15"><stop offset="0.000" stop-color="#000000" stop-opacity="0.500"/><stop offset="0.071" stop-color="#000000" stop-opacity="0.489"/><stop offset="0.143" stop-color="#000000" stop-opacity="0.456"/><stop offset="0.214" stop-color="#000000" stop-opacity="0.407"/><stop offset="0.286" stop-color="#000000" stop-opacity="0.346"/><stop offset="0.357" stop-color="#000000" stop-opacity="0.282"/><stop offset="0.429" stop-color="#000000" stop-opacity="0.219"/><stop offset="0.500" stop-color="#000000" stop-opacity="0.162"/><stop offset="0.571" stop-color="#000000" stop-opacity="0.115"/><stop offset="0.643" stop-color="#000000" stop-opacity="0.078"/><stop offset="0.714" stop-color="#000000" stop-opacity="0.050"/><stop offset="0.786" stop-color="#000000" stop-opacity="0.031"/><stop offset="0.857" stop-color="#000000" stop-opacity="0.018"/><stop offset="0.929" stop-color="#000000" stop-opacity="0.010"/><stop offset="1.000" stop-color="#000000" stop-opacity="0.000"/></radialGradient>
<ellipse cx="38.91" cy="186.86" rx="38.43" ry="29.44" fill="url(#g15)"/>
<radialGradient id="g16"><stop offset="0.000" stop-color="#000000" stop-opacity="0.600"/><stop offset="0.071" stop-color="#000000" stop-opacity="0.586"/><stop offset="0.143" stop-color="#000000" stop-opacity="0.547"/><stop offset="0.214" stop-color="#000000" stop-opacity="0.488"/><stop offset="0.286" stop-color="#000000" stop-opacity="0.416"/><stop offset="0.357" stop-color="#000000" stop-opacity="0.338"/><stop offset="0.429" stop-color="#000000" stop-opacity="0.263"/><stop offset="0.500" stop-color="#000000" stop-opacity="0.195"/><stop offset="0.571" stop-color="#000000" stop-opacity="0.138"/><stop offset="0.643" stop-color="#000000" stop-opacity="0.093"/><stop offset="0.714" stop-color="#000000" stop-opacity="0.060"/><stop offset="0.786" stop-color="#000000" stop-opacity="0.037"/><stop offset="0.857" stop-color="#000000" stop-opacity="0.022"/><stop offset="0.929" stop-color="#000000" stop-opacity="0.012"/><stop offset="1.000" stop-color="#000000" stop-opacity="0.000"/></radialGradient>
<ellipse cx="102.95" cy="295.05" rx="153.7" ry="4.42" fill="url(#g16)"/>
<radialGradient id="g17"><stop offset="0.000" stop-color="#000000" stop-opacity="0.700"/><stop offset="0.071" stop-color="#000000" stop-opacity="0.684"/><stop offset="0.143" stop-color="#000000" stop-opacity="0.639"/><stop offset="0.214" stop-color="#000000" stop-opacity="0.569"/><stop offset="0.286" stop-color="#000000" stop-opacity="0.485"/><stop offset="0.357" stop-color="#000000" stop-opacity="0.394"/><stop offset="0.429" stop-color="#000000" stop-opacity="0.306"/><stop offset="0.500" stop-color="#000000" stop-opacity="0.227"/><stop offset="0.571" stop-color="#000000" stop-opacity="0.161"/><stop offset="0.643" stop-color="#000000" stop-opacity="0.109"/><stop offset="0.714" stop-color="#000000" stop-opacity="0.070"/><stop offset="0.786" stop-color="#000000" stop-opacity="0.044"/><stop offset="0.857" stop-color="#000000" stop-opacity="0.026"/><stop offset="0.929" stop-color="#000000" stop-opacity="0.014"/><stop offset="1.000" stop-color="#000000" stop-opacity="0.000"/></radialGradient>
<ellipse cx="102.95" cy="324.86" rx="179.32" ry="12.88" fill="url(#g17)"/>
<filter id="bl6" x="-50%" y="-50%" width="200%" height="200%" color-interpolation-filters="sRGB"><feGaussianBlur stdDeviation="6"/></filter>
<g style="mix-blend-mode:lighten" filter="url(#bl6)"><rect x="90.14" y="157.42" width="40.99" height="72.86" rx="13" fill="#5c5c5c"/></g>
<radialGradient id="g18"><stop offset="0.000" stop-color="#717171"/><stop offset="0.071" stop-color="#6f6f6f"/><stop offset="0.143" stop-color="#686868"/><stop offset="0.214" stop-color="#5c5c5c"/><stop offset="0.286" stop-color="#4f4f4f"/><stop offset="0.357" stop-color="#404040"/><stop offset="0.429" stop-color="#323232"/><stop offset="0.500" stop-color="#252525"/><stop offset="0.571" stop-color="#1a1a1a"/><stop offset="0.643" stop-color="#121212"/><stop offset="0.714" stop-color="#0b0b0b"/><stop offset="0.786" stop-color="#070707"/><stop offset="0.857" stop-color="#040404"/><stop offset="0.929" stop-color="#020202"/><stop offset="1.000" stop-color="#000000"/></radialGradient>
<ellipse cx="111.92" cy="201.58" rx="51.23" ry="62.56" fill="url(#g18)" style="mix-blend-mode:lighten"/>
<radialGradient id="g19"><stop offset="0.000" stop-color="#ffffff"/><stop offset="0.071" stop-color="#f9f9f9"/><stop offset="0.143" stop-color="#e9e9e9"/><stop offset="0.214" stop-color="#cfcfcf"/><stop offset="0.286" stop-color="#b1b1b1"/><stop offset="0.357" stop-color="#909090"/><stop offset="0.429" stop-color="#707070"/><stop offset="0.500" stop-color="#535353"/><stop offset="0.571" stop-color="#3b3b3b"/><stop offset="0.643" stop-color="#282828"/><stop offset="0.714" stop-color="#1a1a1a"/><stop offset="0.786" stop-color="#101010"/><stop offset="0.857" stop-color="#090909"/><stop offset="0.929" stop-color="#050505"/><stop offset="1.000" stop-color="#000000"/></radialGradient>
<ellipse cx="86.3" cy="275.55" rx="169.07" ry="27.23" fill="url(#g19)" style="mix-blend-mode:lighten" transform="rotate(-2.5 86.3 275.55)"/>
<radialGradient id="g20"><stop offset="0.000" stop-color="#8c8c8c"/><stop offset="0.071" stop-color="#898989"/><stop offset="0.143" stop-color="#808080"/><stop offset="0.214" stop-color="#727272"/><stop offset="0.286" stop-color="#616161"/><stop offset="0.357" stop-color="#4f4f4f"/><stop offset="0.429" stop-color="#3d3d3d"/><stop offset="0.500" stop-color="#2e2e2e"/><stop offset="0.571" stop-color="#202020"/><stop offset="0.643" stop-color="#161616"/><stop offset="0.714" stop-color="#0e0e0e"/><stop offset="0.786" stop-color="#090909"/><stop offset="0.857" stop-color="#050505"/><stop offset="0.929" stop-color="#030303"/><stop offset="1.000" stop-color="#000000"/></radialGradient>
<ellipse cx="151.62" cy="270.76" rx="96.06" ry="34.96" fill="url(#g20)" style="mix-blend-mode:lighten" transform="rotate(-1.5 151.62 270.76)"/>
<radialGradient id="g21"><stop offset="0.000" stop-color="#000000" stop-opacity="0.500"/><stop offset="0.071" stop-color="#000000" stop-opacity="0.489"/><stop offset="0.143" stop-color="#000000" stop-opacity="0.456"/><stop offset="0.214" stop-color="#000000" stop-opacity="0.407"/><stop offset="0.286" stop-color="#000000" stop-opacity="0.346"/><stop offset="0.357" stop-color="#000000" stop-opacity="0.282"/><stop offset="0.429" stop-color="#000000" stop-opacity="0.219"/><stop offset="0.500" stop-color="#000000" stop-opacity="0.162"/><stop offset="0.571" stop-color="#000000" stop-opacity="0.115"/><stop offset="0.643" stop-color="#000000" stop-opacity="0.078"/><stop offset="0.714" stop-color="#000000" stop-opacity="0.050"/><stop offset="0.786" stop-color="#000000" stop-opacity="0.031"/><stop offset="0.857" stop-color="#000000" stop-opacity="0.018"/><stop offset="0.929" stop-color="#000000" stop-opacity="0.010"/><stop offset="1.000" stop-color="#000000" stop-opacity="0.000"/></radialGradient>
<ellipse cx="172.12" cy="282.54" rx="20.49" ry="11.04" fill="url(#g21)"/>
</g></g>
<rect x="26.1" y="179.5" width="153.7" height="147.2" fill="none" stroke="#000" stroke-width="1.1"/>
<line x1="23.1" y1="326.7" x2="26.1" y2="326.7" stroke="#111" stroke-width="1" />
<text transform="translate(21.5,329.65) scale(1,1.065)" font-size="7.9" text-anchor="end" fill="#111" font-weight="bold" >0</text>
<line x1="23.1" y1="289.9" x2="26.1" y2="289.9" stroke="#111" stroke-width="1" />
<text transform="translate(21.5,292.85) scale(1,1.065)" font-size="7.9" text-anchor="end" fill="#111" font-weight="bold" >1</text>
<line x1="23.1" y1="253.1" x2="26.1" y2="253.1" stroke="#111" stroke-width="1" />
<text transform="translate(21.5,256.05) scale(1,1.065)" font-size="7.9" text-anchor="end" fill="#111" font-weight="bold" >2</text>
<line x1="23.1" y1="216.3" x2="26.1" y2="216.3" stroke="#111" stroke-width="1" />
<text transform="translate(21.5,219.25) scale(1,1.065)" font-size="7.9" text-anchor="end" fill="#111" font-weight="bold" >3</text>
<line x1="23.1" y1="179.5" x2="26.1" y2="179.5" stroke="#111" stroke-width="1" />
<text transform="translate(21.5,182.45) scale(1,1.065)" font-size="7.9" text-anchor="end" fill="#111" font-weight="bold" >4</text>
<line x1="24.3" y1="308.3" x2="26.1" y2="308.3" stroke="#111" stroke-width="1" />
<line x1="24.3" y1="271.5" x2="26.1" y2="271.5" stroke="#111" stroke-width="1" />
<line x1="24.3" y1="234.7" x2="26.1" y2="234.7" stroke="#111" stroke-width="1" />
<line x1="24.3" y1="197.9" x2="26.1" y2="197.9" stroke="#111" stroke-width="1" />
<line x1="26.1" y1="326.7" x2="26.1" y2="329.7" stroke="#111" stroke-width="1" />
<text transform="translate(26.1,338) scale(1,1.065)" font-size="7.9" text-anchor="middle" fill="#111" font-weight="bold" >0</text>
<line x1="51.72" y1="326.7" x2="51.72" y2="329.7" stroke="#111" stroke-width="1" />
<text transform="translate(51.72,338) scale(1,1.065)" font-size="7.9" text-anchor="middle" fill="#111" font-weight="bold" >2</text>
<line x1="77.33" y1="326.7" x2="77.33" y2="329.7" stroke="#111" stroke-width="1" />
<text transform="translate(77.33,338) scale(1,1.065)" font-size="7.9" text-anchor="middle" fill="#111" font-weight="bold" >4</text>
<line x1="102.95" y1="326.7" x2="102.95" y2="329.7" stroke="#111" stroke-width="1" />
<text transform="translate(102.95,338) scale(1,1.065)" font-size="7.9" text-anchor="middle" fill="#111" font-weight="bold" >6</text>
<line x1="128.57" y1="326.7" x2="128.57" y2="329.7" stroke="#111" stroke-width="1" />
<text transform="translate(128.57,338) scale(1,1.065)" font-size="7.9" text-anchor="middle" fill="#111" font-weight="bold" >8</text>
<line x1="154.18" y1="326.7" x2="154.18" y2="329.7" stroke="#111" stroke-width="1" />
<text transform="translate(154.18,338) scale(1,1.065)" font-size="7.9" text-anchor="middle" fill="#111" font-weight="bold" >10</text>
<line x1="179.8" y1="326.7" x2="179.8" y2="329.7" stroke="#111" stroke-width="1" />
<text transform="translate(179.8,338) scale(1,1.065)" font-size="7.9" text-anchor="middle" fill="#111" font-weight="bold" >12</text>
<line x1="38.91" y1="326.7" x2="38.91" y2="328.5" stroke="#111" stroke-width="1" />
<line x1="64.53" y1="326.7" x2="64.53" y2="328.5" stroke="#111" stroke-width="1" />
<line x1="90.14" y1="326.7" x2="90.14" y2="328.5" stroke="#111" stroke-width="1" />
<line x1="115.76" y1="326.7" x2="115.76" y2="328.5" stroke="#111" stroke-width="1" />
<line x1="141.38" y1="326.7" x2="141.38" y2="328.5" stroke="#111" stroke-width="1" />
<line x1="166.99" y1="326.7" x2="166.99" y2="328.5" stroke="#111" stroke-width="1" />
<text x="104.45" y="351" font-size="10.6" letter-spacing="0.35" text-anchor="middle" font-weight="bold" fill="#111">k (Å<tspan font-size="6.5" dy="-5">-1</tspan><tspan dy="5">)</tspan></text>
<text transform="translate(9.6,260.5) rotate(-90)" font-size="10.4" letter-spacing="0.75" text-anchor="middle" font-weight="bold" fill="#111">R+α(Å)</text>
<text x="3.8" y="178.2" font-size="14" text-anchor="start" fill="#111" font-weight="bold" >d</text>
<text transform="translate(29.1,190.8) scale(1,1.07)" font-size="8.6" text-anchor="start" fill="#fff" font-weight="bold" >PdC<tspan font-size="7.4" dy="3.1">0.13</tspan></text>
<g filter="url(#cm0)"><rect x="185.8" y="182.6" width="11.5" height="141.8" fill="url(#cbar)"/></g>
<rect x="185.8" y="179.6" width="11.5" height="3" fill="#808080"/>
<rect x="185.8" y="324.3" width="11.5" height="2.5" fill="#000"/>
<text transform="translate(200.5,186.15) scale(1,1.07)" font-size="7.85" text-anchor="start" fill="#111" font-weight="bold" >0.3660</text>
<text transform="translate(200.5,203.79) scale(1,1.07)" font-size="7.85" text-anchor="start" fill="#111" font-weight="bold" >0.3202</text>
<text transform="translate(200.5,221.42) scale(1,1.07)" font-size="7.85" text-anchor="start" fill="#111" font-weight="bold" >0.2745</text>
<text transform="translate(200.5,239.06) scale(1,1.07)" font-size="7.85" text-anchor="start" fill="#111" font-weight="bold" >0.2288</text>
<text transform="translate(200.5,256.7) scale(1,1.07)" font-size="7.85" text-anchor="start" fill="#111" font-weight="bold" >0.1830</text>
<text transform="translate(200.5,274.34) scale(1,1.07)" font-size="7.85" text-anchor="start" fill="#111" font-weight="bold" >0.1372</text>
<text transform="translate(200.5,291.97) scale(1,1.07)" font-size="7.85" text-anchor="start" fill="#111" font-weight="bold" >0.09150</text>
<text transform="translate(200.5,309.61) scale(1,1.07)" font-size="7.85" text-anchor="start" fill="#111" font-weight="bold" >0.04575</text>
<text transform="translate(200.5,327.25) scale(1,1.07)" font-size="7.85" text-anchor="start" fill="#111" font-weight="bold" >0.000</text>
<text x="100.6" y="213.5" font-size="7.9" text-anchor="start" fill="#111" font-weight="bold" >Pd-Pd</text>
<text x="75.8" y="277.9" font-size="7.8" text-anchor="start" fill="#111" font-weight="bold" >Pd-C</text>
<clipPath id="ce"><rect x="258.9" y="179.6" width="153.7" height="147.1"/></clipPath>
<g clip-path="url(#ce)"><g filter="url(#cm)" style="isolation:isolate">
<rect x="256.9" y="177.6" width="157.7" height="151.1" fill="#040404"/>
<radialGradient id="g22"><stop offset="0.000" stop-color="#171717"/><stop offset="0.071" stop-color="#161616"/><stop offset="0.143" stop-color="#151515"/><stop offset="0.214" stop-color="#131313"/><stop offset="0.286" stop-color="#101010"/><stop offset="0.357" stop-color="#0d0d0d"/><stop offset="0.429" stop-color="#0a0a0a"/><stop offset="0.500" stop-color="#070707"/><stop offset="0.571" stop-color="#050505"/><stop offset="0.643" stop-color="#040404"/><stop offset="0.714" stop-color="#020202"/><stop offset="0.786" stop-color="#010101"/><stop offset="0.857" stop-color="#010101"/><stop offset="0.929" stop-color="#000000"/><stop offset="1.000" stop-color="#000000"/></radialGradient>
<ellipse cx="284.52" cy="216.38" rx="51.23" ry="25.74" fill="url(#g22)" style="mix-blend-mode:lighten"/>
<radialGradient id="g23"><stop offset="0.000" stop-color="#1c1c1c"/><stop offset="0.071" stop-color="#1b1b1b"/><stop offset="0.143" stop-color="#1a1a1a"/><stop offset="0.214" stop-color="#171717"/><stop offset="0.286" stop-color="#131313"/><stop offset="0.357" stop-color="#101010"/><stop offset="0.429" stop-color="#0c0c0c"/><stop offset="0.500" stop-color="#090909"/><stop offset="0.571" stop-color="#060606"/><stop offset="0.643" stop-color="#040404"/><stop offset="0.714" stop-color="#030303"/><stop offset="0.786" stop-color="#020202"/><stop offset="0.857" stop-color="#010101"/><stop offset="0.929" stop-color="#010101"/><stop offset="1.000" stop-color="#000000"/></radialGradient>
<ellipse cx="278.11" cy="238.44" rx="51.23" ry="18.39" fill="url(#g23)" style="mix-blend-mode:lighten"/>
<radialGradient id="g24"><stop offset="0.000" stop-color="#1f1f1f"/><stop offset="0.071" stop-color="#1e1e1e"/><stop offset="0.143" stop-color="#1c1c1c"/><stop offset="0.214" stop-color="#191919"/><stop offset="0.286" stop-color="#151515"/><stop offset="0.357" stop-color="#111111"/><stop offset="0.429" stop-color="#0d0d0d"/><stop offset="0.500" stop-color="#0a0a0a"/><stop offset="0.571" stop-color="#070707"/><stop offset="0.643" stop-color="#050505"/><stop offset="0.714" stop-color="#030303"/><stop offset="0.786" stop-color="#020202"/><stop offset="0.857" stop-color="#010101"/><stop offset="0.929" stop-color="#010101"/><stop offset="1.000" stop-color="#000000"/></radialGradient>
<ellipse cx="322.94" cy="245.79" rx="51.23" ry="16.55" fill="url(#g24)" style="mix-blend-mode:lighten"/>
<radialGradient id="g25"><stop offset="0.000" stop-color="#1a1a1a"/><stop offset="0.071" stop-color="#191919"/><stop offset="0.143" stop-color="#171717"/><stop offset="0.214" stop-color="#151515"/><stop offset="0.286" stop-color="#121212"/><stop offset="0.357" stop-color="#0e0e0e"/><stop offset="0.429" stop-color="#0b0b0b"/><stop offset="0.500" stop-color="#080808"/><stop offset="0.571" stop-color="#060606"/><stop offset="0.643" stop-color="#040404"/><stop offset="0.714" stop-color="#030303"/><stop offset="0.786" stop-color="#020202"/><stop offset="0.857" stop-color="#010101"/><stop offset="0.929" stop-color="#010101"/><stop offset="1.000" stop-color="#000000"/></radialGradient>
<ellipse cx="297.32" cy="183.28" rx="38.43" ry="18.39" fill="url(#g25)" style="mix-blend-mode:lighten"/>
<radialGradient id="g26"><stop offset="0.000" stop-color="#383838"/><stop offset="0.071" stop-color="#373737"/><stop offset="0.143" stop-color="#333333"/><stop offset="0.214" stop-color="#2e2e2e"/><stop offset="0.286" stop-color="#272727"/><stop offset="0.357" stop-color="#202020"/><stop offset="0.429" stop-color="#191919"/><stop offset="0.500" stop-color="#121212"/><stop offset="0.571" stop-color="#0d0d0d"/><stop offset="0.643" stop-color="#090909"/><stop offset="0.714" stop-color="#060606"/><stop offset="0.786" stop-color="#030303"/><stop offset="0.857" stop-color="#020202"/><stop offset="0.929" stop-color="#010101"/><stop offset="1.000" stop-color="#000000"/></radialGradient>
<ellipse cx="354.96" cy="216.38" rx="140.89" ry="69.87" fill="url(#g26)" style="mix-blend-mode:lighten"/>
<radialGradient id="g27"><stop offset="0.000" stop-color="#333333"/><stop offset="0.071" stop-color="#323232"/><stop offset="0.143" stop-color="#2f2f2f"/><stop offset="0.214" stop-color="#292929"/><stop offset="0.286" stop-color="#232323"/><stop offset="0.357" stop-color="#1d1d1d"/><stop offset="0.429" stop-color="#161616"/><stop offset="0.500" stop-color="#111111"/><stop offset="0.571" stop-color="#0c0c0c"/><stop offset="0.643" stop-color="#080808"/><stop offset="0.714" stop-color="#050505"/><stop offset="0.786" stop-color="#030303"/><stop offset="0.857" stop-color="#020202"/><stop offset="0.929" stop-color="#010101"/><stop offset="1.000" stop-color="#000000"/></radialGradient>
<ellipse cx="335.75" cy="267.86" rx="230.55" ry="51.48" fill="url(#g27)" style="mix-blend-mode:lighten"/>
<radialGradient id="g28"><stop offset="0.000" stop-color="#000000" stop-opacity="0.500"/><stop offset="0.071" stop-color="#000000" stop-opacity="0.489"/><stop offset="0.143" stop-color="#000000" stop-opacity="0.456"/><stop offset="0.214" stop-color="#000000" stop-opacity="0.407"/><stop offset="0.286" stop-color="#000000" stop-opacity="0.346"/><stop offset="0.357" stop-color="#000000" stop-opacity="0.282"/><stop offset="0.429" stop-color="#000000" stop-opacity="0.219"/><stop offset="0.500" stop-color="#000000" stop-opacity="0.162"/><stop offset="0.571" stop-color="#000000" stop-opacity="0.115"/><stop offset="0.643" stop-color="#000000" stop-opacity="0.078"/><stop offset="0.714" stop-color="#000000" stop-opacity="0.050"/><stop offset="0.786" stop-color="#000000" stop-opacity="0.031"/><stop offset="0.857" stop-color="#000000" stop-opacity="0.018"/><stop offset="0.929" stop-color="#000000" stop-opacity="0.010"/><stop offset="1.000" stop-color="#000000" stop-opacity="0.000"/></radialGradient>
<ellipse cx="264.92" cy="216.38" rx="19.21" ry="14.71" fill="url(#g28)"/>
<radialGradient id="g29"><stop offset="0.000" stop-color="#000000" stop-opacity="0.700"/><stop offset="0.071" stop-color="#000000" stop-opacity="0.684"/><stop offset="0.143" stop-color="#000000" stop-opacity="0.639"/><stop offset="0.214" stop-color="#000000" stop-opacity="0.569"/><stop offset="0.286" stop-color="#000000" stop-opacity="0.485"/><stop offset="0.357" stop-color="#000000" stop-opacity="0.394"/><stop offset="0.429" stop-color="#000000" stop-opacity="0.306"/><stop offset="0.500" stop-color="#000000" stop-opacity="0.227"/><stop offset="0.571" stop-color="#000000" stop-opacity="0.161"/><stop offset="0.643" stop-color="#000000" stop-opacity="0.109"/><stop offset="0.714" stop-color="#000000" stop-opacity="0.070"/><stop offset="0.786" stop-color="#000000" stop-opacity="0.044"/><stop offset="0.857" stop-color="#000000" stop-opacity="0.026"/><stop offset="0.929" stop-color="#000000" stop-opacity="0.014"/><stop offset="1.000" stop-color="#000000" stop-opacity="0.000"/></radialGradient>
<ellipse cx="309.75" cy="254.99" rx="25.62" ry="9.19" fill="url(#g29)"/>
<radialGradient id="g30"><stop offset="0.000" stop-color="#000000" stop-opacity="0.600"/><stop offset="0.071" stop-color="#000000" stop-opacity="0.586"/><stop offset="0.143" stop-color="#000000" stop-opacity="0.547"/><stop offset="0.214" stop-color="#000000" stop-opacity="0.488"/><stop offset="0.286" stop-color="#000000" stop-opacity="0.416"/><stop offset="0.357" stop-color="#000000" stop-opacity="0.338"/><stop offset="0.429" stop-color="#000000" stop-opacity="0.263"/><stop offset="0.500" stop-color="#000000" stop-opacity="0.195"/><stop offset="0.571" stop-color="#000000" stop-opacity="0.138"/><stop offset="0.643" stop-color="#000000" stop-opacity="0.093"/><stop offset="0.714" stop-color="#000000" stop-opacity="0.060"/><stop offset="0.786" stop-color="#000000" stop-opacity="0.037"/><stop offset="0.857" stop-color="#000000" stop-opacity="0.022"/><stop offset="0.929" stop-color="#000000" stop-opacity="0.012"/><stop offset="1.000" stop-color="#000000" stop-opacity="0.000"/></radialGradient>
<ellipse cx="410.68" cy="282.57" rx="15.37" ry="11.03" fill="url(#g30)"/>
<radialGradient id="g31"><stop offset="0.000" stop-color="#000000" stop-opacity="0.600"/><stop offset="0.071" stop-color="#000000" stop-opacity="0.586"/><stop offset="0.143" stop-color="#000000" stop-opacity="0.547"/><stop offset="0.214" stop-color="#000000" stop-opacity="0.488"/><stop offset="0.286" stop-color="#000000" stop-opacity="0.416"/><stop offset="0.357" stop-color="#000000" stop-opacity="0.338"/><stop offset="0.429" stop-color="#000000" stop-opacity="0.263"/><stop offset="0.500" stop-color="#000000" stop-opacity="0.195"/><stop offset="0.571" stop-color="#000000" stop-opacity="0.138"/><stop offset="0.643" stop-color="#000000" stop-opacity="0.093"/><stop offset="0.714" stop-color="#000000" stop-opacity="0.060"/><stop offset="0.786" stop-color="#000000" stop-opacity="0.037"/><stop offset="0.857" stop-color="#000000" stop-opacity="0.022"/><stop offset="0.929" stop-color="#000000" stop-opacity="0.012"/><stop offset="1.000" stop-color="#000000" stop-opacity="0.000"/></radialGradient>
<ellipse cx="335.75" cy="324.86" rx="179.32" ry="12.87" fill="url(#g31)"/>
<radialGradient id="g32"><stop offset="0.000" stop-color="#000000" stop-opacity="0.500"/><stop offset="0.071" stop-color="#000000" stop-opacity="0.489"/><stop offset="0.143" stop-color="#000000" stop-opacity="0.456"/><stop offset="0.214" stop-color="#000000" stop-opacity="0.407"/><stop offset="0.286" stop-color="#000000" stop-opacity="0.346"/><stop offset="0.357" stop-color="#000000" stop-opacity="0.282"/><stop offset="0.429" stop-color="#000000" stop-opacity="0.219"/><stop offset="0.500" stop-color="#000000" stop-opacity="0.162"/><stop offset="0.571" stop-color="#000000" stop-opacity="0.115"/><stop offset="0.643" stop-color="#000000" stop-opacity="0.078"/><stop offset="0.714" stop-color="#000000" stop-opacity="0.050"/><stop offset="0.786" stop-color="#000000" stop-opacity="0.031"/><stop offset="0.857" stop-color="#000000" stop-opacity="0.018"/><stop offset="0.929" stop-color="#000000" stop-opacity="0.010"/><stop offset="1.000" stop-color="#000000" stop-opacity="0.000"/></radialGradient>
<ellipse cx="335.75" cy="295.07" rx="153.7" ry="4.41" fill="url(#g32)"/>
<radialGradient id="g33"><stop offset="0.000" stop-color="#808080"/><stop offset="0.071" stop-color="#7f7f7f"/><stop offset="0.143" stop-color="#7b7b7b"/><stop offset="0.214" stop-color="#707070"/><stop offset="0.286" stop-color="#5d5d5d"/><stop offset="0.357" stop-color="#454545"/><stop offset="0.429" stop-color="#2c2c2c"/><stop offset="0.500" stop-color="#181818"/><stop offset="0.571" stop-color="#0a0a0a"/><stop offset="0.643" stop-color="#040404"/><stop offset="0.714" stop-color="#010101"/><stop offset="0.786" stop-color="#000000"/><stop offset="0.857" stop-color="#000000"/><stop offset="0.929" stop-color="#000000"/><stop offset="1.000" stop-color="#000000"/></radialGradient>
<ellipse cx="347.28" cy="216.38" rx="97.34" ry="29.42" fill="url(#g33)" style="mix-blend-mode:lighten"/>
<radialGradient id="g34"><stop offset="0.000" stop-color="#ffffff"/><stop offset="0.071" stop-color="#f9f9f9"/><stop offset="0.143" stop-color="#e9e9e9"/><stop offset="0.214" stop-color="#cfcfcf"/><stop offset="0.286" stop-color="#b1b1b1"/><stop offset="0.357" stop-color="#909090"/><stop offset="0.429" stop-color="#707070"/><stop offset="0.500" stop-color="#535353"/><stop offset="0.571" stop-color="#3b3b3b"/><stop offset="0.643" stop-color="#282828"/><stop offset="0.714" stop-color="#1a1a1a"/><stop offset="0.786" stop-color="#101010"/><stop offset="0.857" stop-color="#090909"/><stop offset="0.929" stop-color="#050505"/><stop offset="1.000" stop-color="#000000"/></radialGradient>
<ellipse cx="369.05" cy="217.48" rx="96.06" ry="48.54" fill="url(#g34)" style="mix-blend-mode:lighten"/>
<radialGradient id="g35"><stop offset="0.000" stop-color="#dedede"/><stop offset="0.071" stop-color="#d9d9d9"/><stop offset="0.143" stop-color="#cacaca"/><stop offset="0.214" stop-color="#b4b4b4"/><stop offset="0.286" stop-color="#9a9a9a"/><stop offset="0.357" stop-color="#7d7d7d"/><stop offset="0.429" stop-color="#616161"/><stop offset="0.500" stop-color="#484848"/><stop offset="0.571" stop-color="#333333"/><stop offset="0.643" stop-color="#232323"/><stop offset="0.714" stop-color="#161616"/><stop offset="0.786" stop-color="#0e0e0e"/><stop offset="0.857" stop-color="#080808"/><stop offset="0.929" stop-color="#050505"/><stop offset="1.000" stop-color="#000000"/></radialGradient>
<ellipse cx="326.78" cy="274.11" rx="230.55" ry="27.21" fill="url(#g35)" style="mix-blend-mode:lighten" transform="rotate(-3.5 326.78 274.11)"/>
<radialGradient id="g36"><stop offset="0.000" stop-color="#737373"/><stop offset="0.071" stop-color="#707070"/><stop offset="0.143" stop-color="#696969"/><stop offset="0.214" stop-color="#5d5d5d"/><stop offset="0.286" stop-color="#4f4f4f"/><stop offset="0.357" stop-color="#414141"/><stop offset="0.429" stop-color="#323232"/><stop offset="0.500" stop-color="#252525"/><stop offset="0.571" stop-color="#1a1a1a"/><stop offset="0.643" stop-color="#121212"/><stop offset="0.714" stop-color="#0c0c0c"/><stop offset="0.786" stop-color="#070707"/><stop offset="0.857" stop-color="#040404"/><stop offset="0.929" stop-color="#020202"/><stop offset="1.000" stop-color="#000000"/></radialGradient>
<ellipse cx="386.98" cy="269.33" rx="76.85" ry="33.1" fill="url(#g36)" style="mix-blend-mode:lighten" transform="rotate(-4 386.98 269.33)"/>
<radialGradient id="g37"><stop offset="0.000" stop-color="#000000" stop-opacity="0.750"/><stop offset="0.071" stop-color="#000000" stop-opacity="0.733"/><stop offset="0.143" stop-color="#000000" stop-opacity="0.684"/><stop offset="0.214" stop-color="#000000" stop-opacity="0.610"/><stop offset="0.286" stop-color="#000000" stop-opacity="0.519"/><stop offset="0.357" stop-color="#000000" stop-opacity="0.422"/><stop offset="0.429" stop-color="#000000" stop-opacity="0.328"/><stop offset="0.500" stop-color="#000000" stop-opacity="0.243"/><stop offset="0.571" stop-color="#000000" stop-opacity="0.173"/><stop offset="0.643" stop-color="#000000" stop-opacity="0.117"/><stop offset="0.714" stop-color="#000000" stop-opacity="0.076"/><stop offset="0.786" stop-color="#000000" stop-opacity="0.047"/><stop offset="0.857" stop-color="#000000" stop-opacity="0.027"/><stop offset="0.929" stop-color="#000000" stop-opacity="0.015"/><stop offset="1.000" stop-color="#000000" stop-opacity="0.000"/></radialGradient>
<ellipse cx="328.58" cy="190.63" rx="23.06" ry="16.55" fill="url(#g37)"/>
<radialGradient id="g38"><stop offset="0.000" stop-color="#000000" stop-opacity="0.800"/><stop offset="0.071" stop-color="#000000" stop-opacity="0.782"/><stop offset="0.143" stop-color="#000000" stop-opacity="0.730"/><stop offset="0.214" stop-color="#000000" stop-opacity="0.651"/><stop offset="0.286" stop-color="#000000" stop-opacity="0.554"/><stop offset="0.357" stop-color="#000000" stop-opacity="0.451"/><stop offset="0.429" stop-color="#000000" stop-opacity="0.350"/><stop offset="0.500" stop-color="#000000" stop-opacity="0.260"/><stop offset="0.571" stop-color="#000000" stop-opacity="0.184"/><stop offset="0.643" stop-color="#000000" stop-opacity="0.125"/><stop offset="0.714" stop-color="#000000" stop-opacity="0.081"/><stop offset="0.786" stop-color="#000000" stop-opacity="0.050"/><stop offset="0.857" stop-color="#000000" stop-opacity="0.029"/><stop offset="0.929" stop-color="#000000" stop-opacity="0.017"/><stop offset="1.000" stop-color="#000000" stop-opacity="0.000"/></radialGradient>
<ellipse cx="314.62" cy="236.23" rx="28.18" ry="13.24" fill="url(#g38)"/>
<radialGradient id="g39"><stop offset="0.000" stop-color="#000000" stop-opacity="0.750"/><stop offset="0.071" stop-color="#000000" stop-opacity="0.733"/><stop offset="0.143" stop-color="#000000" stop-opacity="0.684"/><stop offset="0.214" stop-color="#000000" stop-opacity="0.610"/><stop offset="0.286" stop-color="#000000" stop-opacity="0.519"/><stop offset="0.357" stop-color="#000000" stop-opacity="0.422"/><stop offset="0.429" stop-color="#000000" stop-opacity="0.328"/><stop offset="0.500" stop-color="#000000" stop-opacity="0.243"/><stop offset="0.571" stop-color="#000000" stop-opacity="0.173"/><stop offset="0.643" stop-color="#000000" stop-opacity="0.117"/><stop offset="0.714" stop-color="#000000" stop-opacity="0.076"/><stop offset="0.786" stop-color="#000000" stop-opacity="0.047"/><stop offset="0.857" stop-color="#000000" stop-opacity="0.027"/><stop offset="0.929" stop-color="#000000" stop-opacity="0.015"/><stop offset="1.000" stop-color="#000000" stop-opacity="0.000"/></radialGradient>
<ellipse cx="375.07" cy="179.6" rx="25.62" ry="16.55" fill="url(#g39)"/>
<radialGradient id="g40"><stop offset="0.000" stop-color="#000000" stop-opacity="0.750"/><stop offset="0.071" stop-color="#000000" stop-opacity="0.733"/><stop offset="0.143" stop-color="#000000" stop-opacity="0.684"/><stop offset="0.214" stop-color="#000000" stop-opacity="0.610"/><stop offset="0.286" stop-color="#000000" stop-opacity="0.519"/><stop offset="0.357" stop-color="#000000" stop-opacity="0.422"/><stop offset="0.429" stop-color="#000000" stop-opacity="0.328"/><stop offset="0.500" stop-color="#000000" stop-opacity="0.243"/><stop offset="0.571" stop-color="#000000" stop-opacity="0.173"/><stop offset="0.643" stop-color="#000000" stop-opacity="0.117"/><stop offset="0.714" stop-color="#000000" stop-opacity="0.076"/><stop offset="0.786" stop-color="#000000" stop-opacity="0.047"/><stop offset="0.857" stop-color="#000000" stop-opacity="0.027"/><stop offset="0.929" stop-color="#000000" stop-opacity="0.015"/><stop offset="1.000" stop-color="#000000" stop-opacity="0.000"/></radialGradient>
<ellipse cx="380.58" cy="246.53" rx="30.74" ry="12.5" fill="url(#g40)"/>
</g></g>
<rect x="258.9" y="179.6" width="153.7" height="147.1" fill="none" stroke="#000" stroke-width="1.1"/>
<line x1="255.9" y1="326.7" x2="258.9" y2="326.7" stroke="#111" stroke-width="1" />
<text transform="translate(254.3,329.65) scale(1,1.065)" font-size="7.9" text-anchor="end" fill="#111" font-weight="bold" >0</text>
<line x1="255.9" y1="289.93" x2="258.9" y2="289.93" stroke="#111" stroke-width="1" />
<text transform="translate(254.3,292.88) scale(1,1.065)" font-size="7.9" text-anchor="end" fill="#111" font-weight="bold" >1</text>
<line x1="255.9" y1="253.15" x2="258.9" y2="253.15" stroke="#111" stroke-width="1" />
<text transform="translate(254.3,256.1) scale(1,1.065)" font-size="7.9" text-anchor="end" fill="#111" font-weight="bold" >2</text>
<line x1="255.9" y1="216.38" x2="258.9" y2="216.38" stroke="#111" stroke-width="1" />
<text transform="translate(254.3,219.32) scale(1,1.065)" font-size="7.9" text-anchor="end" fill="#111" font-weight="bold" >3</text>
<line x1="255.9" y1="179.6" x2="258.9" y2="179.6" stroke="#111" stroke-width="1" />
<text transform="translate(254.3,182.55) scale(1,1.065)" font-size="7.9" text-anchor="end" fill="#111" font-weight="bold" >4</text>
<line x1="257.1" y1="308.31" x2="258.9" y2="308.31" stroke="#111" stroke-width="1" />
<line x1="257.1" y1="271.54" x2="258.9" y2="271.54" stroke="#111" stroke-width="1" />
<line x1="257.1" y1="234.76" x2="258.9" y2="234.76" stroke="#111" stroke-width="1" />
<line x1="257.1" y1="197.99" x2="258.9" y2="197.99" stroke="#111" stroke-width="1" />
<line x1="258.9" y1="326.7" x2="258.9" y2="329.7" stroke="#111" stroke-width="1" />
<text transform="translate(258.9,338) scale(1,1.065)" font-size="7.9" text-anchor="middle" fill="#111" font-weight="bold" >0</text>
<line x1="284.52" y1="326.7" x2="284.52" y2="329.7" stroke="#111" stroke-width="1" />
<text transform="translate(284.52,338) scale(1,1.065)" font-size="7.9" text-anchor="middle" fill="#111" font-weight="bold" >2</text>
<line x1="310.13" y1="326.7" x2="310.13" y2="329.7" stroke="#111" stroke-width="1" />
<text transform="translate(310.13,338) scale(1,1.065)" font-size="7.9" text-anchor="middle" fill="#111" font-weight="bold" >4</text>
<line x1="335.75" y1="326.7" x2="335.75" y2="329.7" stroke="#111" stroke-width="1" />
<text transform="translate(335.75,338) scale(1,1.065)" font-size="7.9" text-anchor="middle" fill="#111" font-weight="bold" >6</text>
<line x1="361.37" y1="326.7" x2="361.37" y2="329.7" stroke="#111" stroke-width="1" />
<text transform="translate(361.37,338) scale(1,1.065)" font-size="7.9" text-anchor="middle" fill="#111" font-weight="bold" >8</text>
<line x1="386.98" y1="326.7" x2="386.98" y2="329.7" stroke="#111" stroke-width="1" />
<text transform="translate(386.98,338) scale(1,1.065)" font-size="7.9" text-anchor="middle" fill="#111" font-weight="bold" >10</text>
<line x1="412.6" y1="326.7" x2="412.6" y2="329.7" stroke="#111" stroke-width="1" />
<text transform="translate(412.6,338) scale(1,1.065)" font-size="7.9" text-anchor="middle" fill="#111" font-weight="bold" >12</text>
<line x1="271.71" y1="326.7" x2="271.71" y2="328.5" stroke="#111" stroke-width="1" />
<line x1="297.32" y1="326.7" x2="297.32" y2="328.5" stroke="#111" stroke-width="1" />
<line x1="322.94" y1="326.7" x2="322.94" y2="328.5" stroke="#111" stroke-width="1" />
<line x1="348.56" y1="326.7" x2="348.56" y2="328.5" stroke="#111" stroke-width="1" />
<line x1="374.18" y1="326.7" x2="374.18" y2="328.5" stroke="#111" stroke-width="1" />
<line x1="399.79" y1="326.7" x2="399.79" y2="328.5" stroke="#111" stroke-width="1" />
<text x="337.25" y="351" font-size="10.6" letter-spacing="0.35" text-anchor="middle" font-weight="bold" fill="#111">k (Å<tspan font-size="6.5" dy="-5">-1</tspan><tspan dy="5">)</tspan></text>
<text transform="translate(242.4,260.5) rotate(-90)" font-size="10.4" letter-spacing="0.75" text-anchor="middle" font-weight="bold" fill="#111">R+α(Å)</text>
<text x="235.6" y="178.2" font-size="14" text-anchor="start" fill="#111" font-weight="bold" >e</text>
<text transform="translate(261.9,190.8) scale(1,1.07)" font-size="8.6" text-anchor="start" fill="#fff" font-weight="bold" >PdO</text>
<g filter="url(#cm0)"><rect x="418" y="182.6" width="11.5" height="141.8" fill="url(#cbar)"/></g>
<rect x="418" y="179.6" width="11.5" height="3" fill="#808080"/>
<rect x="418" y="324.3" width="11.5" height="2.5" fill="#000"/>
<text transform="translate(432.9,186.15) scale(1,1.07)" font-size="7.85" text-anchor="start" fill="#111" font-weight="bold" >0.5620</text>
<text transform="translate(432.9,203.79) scale(1,1.07)" font-size="7.85" text-anchor="start" fill="#111" font-weight="bold" >0.4918</text>
<text transform="translate(432.9,221.42) scale(1,1.07)" font-size="7.85" text-anchor="start" fill="#111" font-weight="bold" >0.4215</text>
<text transform="translate(432.9,239.06) scale(1,1.07)" font-size="7.85" text-anchor="start" fill="#111" font-weight="bold" >0.3513</text>
<text transform="translate(432.9,256.7) scale(1,1.07)" font-size="7.85" text-anchor="start" fill="#111" font-weight="bold" >0.2810</text>
<text transform="translate(432.9,274.34) scale(1,1.07)" font-size="7.85" text-anchor="start" fill="#111" font-weight="bold" >0.2108</text>
<text transform="translate(432.9,291.97) scale(1,1.07)" font-size="7.85" text-anchor="start" fill="#111" font-weight="bold" >0.1405</text>
<text transform="translate(432.9,309.61) scale(1,1.07)" font-size="7.85" text-anchor="start" fill="#111" font-weight="bold" >0.07025</text>
<text transform="translate(432.9,327.25) scale(1,1.07)" font-size="7.85" text-anchor="start" fill="#111" font-weight="bold" >0.000</text>
<text x="358.6" y="221" font-size="8" text-anchor="start" fill="#111" font-weight="bold" >Pd-Pd</text>
<text x="317.7" y="276.5" font-size="7.9" text-anchor="start" fill="#111" font-weight="bold" >Pd-O</text>
<clipPath id="cf"><rect x="486.2" y="179.7" width="154.2" height="147"/></clipPath>
<g clip-path="url(#cf)"><g filter="url(#cm)" style="isolation:isolate">
<rect x="484.2" y="177.7" width="158.2" height="151" fill="#060606"/>
<radialGradient id="g41"><stop offset="0.000" stop-color="#1f1f1f"/><stop offset="0.071" stop-color="#1e1e1e"/><stop offset="0.143" stop-color="#1c1c1c"/><stop offset="0.214" stop-color="#191919"/><stop offset="0.286" stop-color="#151515"/><stop offset="0.357" stop-color="#111111"/><stop offset="0.429" stop-color="#0d0d0d"/><stop offset="0.500" stop-color="#0a0a0a"/><stop offset="0.571" stop-color="#070707"/><stop offset="0.643" stop-color="#050505"/><stop offset="0.714" stop-color="#030303"/><stop offset="0.786" stop-color="#020202"/><stop offset="0.857" stop-color="#010101"/><stop offset="0.929" stop-color="#010101"/><stop offset="1.000" stop-color="#000000"/></radialGradient>
<ellipse cx="518.33" cy="198.07" rx="77.1" ry="36.75" fill="url(#g41)" style="mix-blend-mode:lighten"/>
<radialGradient id="g42"><stop offset="0.000" stop-color="#303030"/><stop offset="0.071" stop-color="#2f2f2f"/><stop offset="0.143" stop-color="#2c2c2c"/><stop offset="0.214" stop-color="#272727"/><stop offset="0.286" stop-color="#222222"/><stop offset="0.357" stop-color="#1b1b1b"/><stop offset="0.429" stop-color="#151515"/><stop offset="0.500" stop-color="#101010"/><stop offset="0.571" stop-color="#0b0b0b"/><stop offset="0.643" stop-color="#080808"/><stop offset="0.714" stop-color="#050505"/><stop offset="0.786" stop-color="#030303"/><stop offset="0.857" stop-color="#020202"/><stop offset="0.929" stop-color="#010101"/><stop offset="1.000" stop-color="#000000"/></radialGradient>
<ellipse cx="569.73" cy="201.75" rx="167.05" ry="47.77" fill="url(#g42)" style="mix-blend-mode:lighten"/>
<radialGradient id="g43"><stop offset="0.000" stop-color="#131313"/><stop offset="0.071" stop-color="#131313"/><stop offset="0.143" stop-color="#131313"/><stop offset="0.214" stop-color="#121212"/><stop offset="0.286" stop-color="#0f0f0f"/><stop offset="0.357" stop-color="#0a0a0a"/><stop offset="0.429" stop-color="#050505"/><stop offset="0.500" stop-color="#020202"/><stop offset="0.571" stop-color="#000000"/><stop offset="0.643" stop-color="#000000"/><stop offset="0.714" stop-color="#000000"/><stop offset="0.786" stop-color="#000000"/><stop offset="0.857" stop-color="#000000"/><stop offset="0.929" stop-color="#000000"/><stop offset="1.000" stop-color="#000000"/></radialGradient>
<ellipse cx="537.6" cy="269.74" rx="231.3" ry="106.58" fill="url(#g43)" style="mix-blend-mode:lighten" transform="rotate(4 537.6 269.74)"/>
<radialGradient id="g44"><stop offset="0.000" stop-color="#1a1a1a"/><stop offset="0.071" stop-color="#191919"/><stop offset="0.143" stop-color="#171717"/><stop offset="0.214" stop-color="#151515"/><stop offset="0.286" stop-color="#121212"/><stop offset="0.357" stop-color="#0e0e0e"/><stop offset="0.429" stop-color="#0b0b0b"/><stop offset="0.500" stop-color="#080808"/><stop offset="0.571" stop-color="#060606"/><stop offset="0.643" stop-color="#040404"/><stop offset="0.714" stop-color="#030303"/><stop offset="0.786" stop-color="#020202"/><stop offset="0.857" stop-color="#010101"/><stop offset="0.929" stop-color="#010101"/><stop offset="1.000" stop-color="#000000"/></radialGradient>
<ellipse cx="524.75" cy="256.88" rx="102.8" ry="25.72" fill="url(#g44)" style="mix-blend-mode:lighten"/>
<radialGradient id="g45"><stop offset="0.000" stop-color="#333333"/><stop offset="0.071" stop-color="#323232"/><stop offset="0.143" stop-color="#2f2f2f"/><stop offset="0.214" stop-color="#292929"/><stop offset="0.286" stop-color="#232323"/><stop offset="0.357" stop-color="#1d1d1d"/><stop offset="0.429" stop-color="#161616"/><stop offset="0.500" stop-color="#111111"/><stop offset="0.571" stop-color="#0c0c0c"/><stop offset="0.643" stop-color="#080808"/><stop offset="0.714" stop-color="#050505"/><stop offset="0.786" stop-color="#030303"/><stop offset="0.857" stop-color="#020202"/><stop offset="0.929" stop-color="#010101"/><stop offset="1.000" stop-color="#000000"/></radialGradient>
<ellipse cx="589" cy="234.82" rx="179.9" ry="66.15" fill="url(#g45)" style="mix-blend-mode:lighten"/>
<radialGradient id="g46"><stop offset="0.000" stop-color="#000000" stop-opacity="0.850"/><stop offset="0.071" stop-color="#000000" stop-opacity="0.831"/><stop offset="0.143" stop-color="#000000" stop-opacity="0.775"/><stop offset="0.214" stop-color="#000000" stop-opacity="0.691"/><stop offset="0.286" stop-color="#000000" stop-opacity="0.589"/><stop offset="0.357" stop-color="#000000" stop-opacity="0.479"/><stop offset="0.429" stop-color="#000000" stop-opacity="0.372"/><stop offset="0.500" stop-color="#000000" stop-opacity="0.276"/><stop offset="0.571" stop-color="#000000" stop-opacity="0.196"/><stop offset="0.643" stop-color="#000000" stop-opacity="0.132"/><stop offset="0.714" stop-color="#000000" stop-opacity="0.086"/><stop offset="0.786" stop-color="#000000" stop-opacity="0.053"/><stop offset="0.857" stop-color="#000000" stop-opacity="0.031"/><stop offset="0.929" stop-color="#000000" stop-opacity="0.018"/><stop offset="1.000" stop-color="#000000" stop-opacity="0.000"/></radialGradient>
<ellipse cx="526.42" cy="207.63" rx="20.56" ry="14.7" fill="url(#g46)"/>
<radialGradient id="g47"><stop offset="0.000" stop-color="#000000" stop-opacity="0.850"/><stop offset="0.071" stop-color="#000000" stop-opacity="0.831"/><stop offset="0.143" stop-color="#000000" stop-opacity="0.775"/><stop offset="0.214" stop-color="#000000" stop-opacity="0.691"/><stop offset="0.286" stop-color="#000000" stop-opacity="0.589"/><stop offset="0.357" stop-color="#000000" stop-opacity="0.479"/><stop offset="0.429" stop-color="#000000" stop-opacity="0.372"/><stop offset="0.500" stop-color="#000000" stop-opacity="0.276"/><stop offset="0.571" stop-color="#000000" stop-opacity="0.196"/><stop offset="0.643" stop-color="#000000" stop-opacity="0.132"/><stop offset="0.714" stop-color="#000000" stop-opacity="0.086"/><stop offset="0.786" stop-color="#000000" stop-opacity="0.053"/><stop offset="0.857" stop-color="#000000" stop-opacity="0.031"/><stop offset="0.929" stop-color="#000000" stop-opacity="0.018"/><stop offset="1.000" stop-color="#000000" stop-opacity="0.000"/></radialGradient>
<ellipse cx="577.43" cy="206.53" rx="19.27" ry="14.7" fill="url(#g47)"/>
<radialGradient id="g48"><stop offset="0.000" stop-color="#000000" stop-opacity="0.850"/><stop offset="0.071" stop-color="#000000" stop-opacity="0.831"/><stop offset="0.143" stop-color="#000000" stop-opacity="0.775"/><stop offset="0.214" stop-color="#000000" stop-opacity="0.691"/><stop offset="0.286" stop-color="#000000" stop-opacity="0.589"/><stop offset="0.357" stop-color="#000000" stop-opacity="0.479"/><stop offset="0.429" stop-color="#000000" stop-opacity="0.372"/><stop offset="0.500" stop-color="#000000" stop-opacity="0.276"/><stop offset="0.571" stop-color="#000000" stop-opacity="0.196"/><stop offset="0.643" stop-color="#000000" stop-opacity="0.132"/><stop offset="0.714" stop-color="#000000" stop-opacity="0.086"/><stop offset="0.786" stop-color="#000000" stop-opacity="0.053"/><stop offset="0.857" stop-color="#000000" stop-opacity="0.031"/><stop offset="0.929" stop-color="#000000" stop-opacity="0.018"/><stop offset="1.000" stop-color="#000000" stop-opacity="0.000"/></radialGradient>
<ellipse cx="612.13" cy="205.43" rx="19.27" ry="14.7" fill="url(#g48)"/>
<radialGradient id="g49"><stop offset="0.000" stop-color="#000000" stop-opacity="0.700"/><stop offset="0.071" stop-color="#000000" stop-opacity="0.684"/><stop offset="0.143" stop-color="#000000" stop-opacity="0.639"/><stop offset="0.214" stop-color="#000000" stop-opacity="0.569"/><stop offset="0.286" stop-color="#000000" stop-opacity="0.485"/><stop offset="0.357" stop-color="#000000" stop-opacity="0.394"/><stop offset="0.429" stop-color="#000000" stop-opacity="0.306"/><stop offset="0.500" stop-color="#000000" stop-opacity="0.227"/><stop offset="0.571" stop-color="#000000" stop-opacity="0.161"/><stop offset="0.643" stop-color="#000000" stop-opacity="0.109"/><stop offset="0.714" stop-color="#000000" stop-opacity="0.070"/><stop offset="0.786" stop-color="#000000" stop-opacity="0.044"/><stop offset="0.857" stop-color="#000000" stop-opacity="0.026"/><stop offset="0.929" stop-color="#000000" stop-opacity="0.014"/><stop offset="1.000" stop-color="#000000" stop-opacity="0.000"/></radialGradient>
<ellipse cx="587.72" cy="183.38" rx="19.27" ry="12.86" fill="url(#g49)"/>
<radialGradient id="g50"><stop offset="0.000" stop-color="#000000" stop-opacity="0.600"/><stop offset="0.071" stop-color="#000000" stop-opacity="0.586"/><stop offset="0.143" stop-color="#000000" stop-opacity="0.547"/><stop offset="0.214" stop-color="#000000" stop-opacity="0.488"/><stop offset="0.286" stop-color="#000000" stop-opacity="0.416"/><stop offset="0.357" stop-color="#000000" stop-opacity="0.338"/><stop offset="0.429" stop-color="#000000" stop-opacity="0.263"/><stop offset="0.500" stop-color="#000000" stop-opacity="0.195"/><stop offset="0.571" stop-color="#000000" stop-opacity="0.138"/><stop offset="0.643" stop-color="#000000" stop-opacity="0.093"/><stop offset="0.714" stop-color="#000000" stop-opacity="0.060"/><stop offset="0.786" stop-color="#000000" stop-opacity="0.037"/><stop offset="0.857" stop-color="#000000" stop-opacity="0.022"/><stop offset="0.929" stop-color="#000000" stop-opacity="0.012"/><stop offset="1.000" stop-color="#000000" stop-opacity="0.000"/></radialGradient>
<ellipse cx="550.45" cy="181.54" rx="19.27" ry="11.03" fill="url(#g50)"/>
<radialGradient id="g51"><stop offset="0.000" stop-color="#000000" stop-opacity="0.500"/><stop offset="0.071" stop-color="#000000" stop-opacity="0.489"/><stop offset="0.143" stop-color="#000000" stop-opacity="0.456"/><stop offset="0.214" stop-color="#000000" stop-opacity="0.407"/><stop offset="0.286" stop-color="#000000" stop-opacity="0.346"/><stop offset="0.357" stop-color="#000000" stop-opacity="0.282"/><stop offset="0.429" stop-color="#000000" stop-opacity="0.219"/><stop offset="0.500" stop-color="#000000" stop-opacity="0.162"/><stop offset="0.571" stop-color="#000000" stop-opacity="0.115"/><stop offset="0.643" stop-color="#000000" stop-opacity="0.078"/><stop offset="0.714" stop-color="#000000" stop-opacity="0.050"/><stop offset="0.786" stop-color="#000000" stop-opacity="0.031"/><stop offset="0.857" stop-color="#000000" stop-opacity="0.018"/><stop offset="0.929" stop-color="#000000" stop-opacity="0.010"/><stop offset="1.000" stop-color="#000000" stop-opacity="0.000"/></radialGradient>
<ellipse cx="595.42" cy="277.09" rx="77.1" ry="12.86" fill="url(#g51)"/>
<radialGradient id="g52"><stop offset="0.000" stop-color="#424242"/><stop offset="0.071" stop-color="#414141"/><stop offset="0.143" stop-color="#3c3c3c"/><stop offset="0.214" stop-color="#363636"/><stop offset="0.286" stop-color="#2e2e2e"/><stop offset="0.357" stop-color="#252525"/><stop offset="0.429" stop-color="#1d1d1d"/><stop offset="0.500" stop-color="#161616"/><stop offset="0.571" stop-color="#0f0f0f"/><stop offset="0.643" stop-color="#0a0a0a"/><stop offset="0.714" stop-color="#070707"/><stop offset="0.786" stop-color="#040404"/><stop offset="0.857" stop-color="#020202"/><stop offset="0.929" stop-color="#010101"/><stop offset="1.000" stop-color="#000000"/></radialGradient>
<ellipse cx="544.02" cy="252.46" rx="231.3" ry="22.05" fill="url(#g52)" style="mix-blend-mode:lighten"/>
<radialGradient id="g53"><stop offset="0.000" stop-color="#ffffff"/><stop offset="0.071" stop-color="#f9f9f9"/><stop offset="0.143" stop-color="#e9e9e9"/><stop offset="0.214" stop-color="#cfcfcf"/><stop offset="0.286" stop-color="#b1b1b1"/><stop offset="0.357" stop-color="#909090"/><stop offset="0.429" stop-color="#707070"/><stop offset="0.500" stop-color="#535353"/><stop offset="0.571" stop-color="#3b3b3b"/><stop offset="0.643" stop-color="#282828"/><stop offset="0.714" stop-color="#1a1a1a"/><stop offset="0.786" stop-color="#101010"/><stop offset="0.857" stop-color="#090909"/><stop offset="0.929" stop-color="#050505"/><stop offset="1.000" stop-color="#000000"/></radialGradient>
<ellipse cx="599.28" cy="236.29" rx="147.78" ry="39.69" fill="url(#g53)" style="mix-blend-mode:lighten"/>
<radialGradient id="g54"><stop offset="0.000" stop-color="#9e9e9e"/><stop offset="0.071" stop-color="#9b9b9b"/><stop offset="0.143" stop-color="#909090"/><stop offset="0.214" stop-color="#818181"/><stop offset="0.286" stop-color="#6d6d6d"/><stop offset="0.357" stop-color="#595959"/><stop offset="0.429" stop-color="#454545"/><stop offset="0.500" stop-color="#333333"/><stop offset="0.571" stop-color="#242424"/><stop offset="0.643" stop-color="#191919"/><stop offset="0.714" stop-color="#101010"/><stop offset="0.786" stop-color="#0a0a0a"/><stop offset="0.857" stop-color="#060606"/><stop offset="0.929" stop-color="#030303"/><stop offset="1.000" stop-color="#000000"/></radialGradient>
<ellipse cx="627.55" cy="236.66" rx="77.1" ry="36.75" fill="url(#g54)" style="mix-blend-mode:lighten"/>
<radialGradient id="g55"><stop offset="0.000" stop-color="#808080"/><stop offset="0.071" stop-color="#7d7d7d"/><stop offset="0.143" stop-color="#747474"/><stop offset="0.214" stop-color="#686868"/><stop offset="0.286" stop-color="#585858"/><stop offset="0.357" stop-color="#484848"/><stop offset="0.429" stop-color="#383838"/><stop offset="0.500" stop-color="#292929"/><stop offset="0.571" stop-color="#1d1d1d"/><stop offset="0.643" stop-color="#141414"/><stop offset="0.714" stop-color="#0d0d0d"/><stop offset="0.786" stop-color="#080808"/><stop offset="0.857" stop-color="#050505"/><stop offset="0.929" stop-color="#030303"/><stop offset="1.000" stop-color="#000000"/></radialGradient>
<ellipse cx="553.02" cy="230.41" rx="102.8" ry="22.79" fill="url(#g55)" style="mix-blend-mode:lighten"/>
<radialGradient id="g56"><stop offset="0.000" stop-color="#000000" stop-opacity="0.900"/><stop offset="0.071" stop-color="#000000" stop-opacity="0.880"/><stop offset="0.143" stop-color="#000000" stop-opacity="0.821"/><stop offset="0.214" stop-color="#000000" stop-opacity="0.732"/><stop offset="0.286" stop-color="#000000" stop-opacity="0.623"/><stop offset="0.357" stop-color="#000000" stop-opacity="0.507"/><stop offset="0.429" stop-color="#000000" stop-opacity="0.394"/><stop offset="0.500" stop-color="#000000" stop-opacity="0.292"/><stop offset="0.571" stop-color="#000000" stop-opacity="0.207"/><stop offset="0.643" stop-color="#000000" stop-opacity="0.140"/><stop offset="0.714" stop-color="#000000" stop-opacity="0.091"/><stop offset="0.786" stop-color="#000000" stop-opacity="0.056"/><stop offset="0.857" stop-color="#000000" stop-opacity="0.033"/><stop offset="0.929" stop-color="#000000" stop-opacity="0.019"/><stop offset="1.000" stop-color="#000000" stop-opacity="0.000"/></radialGradient>
<ellipse cx="554.3" cy="248.79" rx="33.41" ry="11.76" fill="url(#g56)"/>
<radialGradient id="g57"><stop offset="0.000" stop-color="#000000" stop-opacity="0.750"/><stop offset="0.071" stop-color="#000000" stop-opacity="0.733"/><stop offset="0.143" stop-color="#000000" stop-opacity="0.684"/><stop offset="0.214" stop-color="#000000" stop-opacity="0.610"/><stop offset="0.286" stop-color="#000000" stop-opacity="0.519"/><stop offset="0.357" stop-color="#000000" stop-opacity="0.422"/><stop offset="0.429" stop-color="#000000" stop-opacity="0.328"/><stop offset="0.500" stop-color="#000000" stop-opacity="0.243"/><stop offset="0.571" stop-color="#000000" stop-opacity="0.173"/><stop offset="0.643" stop-color="#000000" stop-opacity="0.117"/><stop offset="0.714" stop-color="#000000" stop-opacity="0.076"/><stop offset="0.786" stop-color="#000000" stop-opacity="0.047"/><stop offset="0.857" stop-color="#000000" stop-opacity="0.027"/><stop offset="0.929" stop-color="#000000" stop-opacity="0.015"/><stop offset="1.000" stop-color="#000000" stop-opacity="0.000"/></radialGradient>
<ellipse cx="612.13" cy="264.96" rx="30.84" ry="11.03" fill="url(#g57)"/>
</g></g>
<rect x="486.2" y="179.7" width="154.2" height="147" fill="none" stroke="#000" stroke-width="1.1"/>
<line x1="483.2" y1="326.7" x2="486.2" y2="326.7" stroke="#111" stroke-width="1" />
<text transform="translate(481.6,329.65) scale(1,1.065)" font-size="7.9" text-anchor="end" fill="#111" font-weight="bold" >0</text>
<line x1="483.2" y1="289.95" x2="486.2" y2="289.95" stroke="#111" stroke-width="1" />
<text transform="translate(481.6,292.9) scale(1,1.065)" font-size="7.9" text-anchor="end" fill="#111" font-weight="bold" >1</text>
<line x1="483.2" y1="253.2" x2="486.2" y2="253.2" stroke="#111" stroke-width="1" />
<text transform="translate(481.6,256.15) scale(1,1.065)" font-size="7.9" text-anchor="end" fill="#111" font-weight="bold" >2</text>
<line x1="483.2" y1="216.45" x2="486.2" y2="216.45" stroke="#111" stroke-width="1" />
<text transform="translate(481.6,219.4) scale(1,1.065)" font-size="7.9" text-anchor="end" fill="#111" font-weight="bold" >3</text>
<line x1="483.2" y1="179.7" x2="486.2" y2="179.7" stroke="#111" stroke-width="1" />
<text transform="translate(481.6,182.65) scale(1,1.065)" font-size="7.9" text-anchor="end" fill="#111" font-weight="bold" >4</text>
<line x1="484.4" y1="308.32" x2="486.2" y2="308.32" stroke="#111" stroke-width="1" />
<line x1="484.4" y1="271.57" x2="486.2" y2="271.57" stroke="#111" stroke-width="1" />
<line x1="484.4" y1="234.82" x2="486.2" y2="234.82" stroke="#111" stroke-width="1" />
<line x1="484.4" y1="198.07" x2="486.2" y2="198.07" stroke="#111" stroke-width="1" />
<line x1="486.2" y1="326.7" x2="486.2" y2="329.7" stroke="#111" stroke-width="1" />
<text transform="translate(486.2,338) scale(1,1.065)" font-size="7.9" text-anchor="middle" fill="#111" font-weight="bold" >0</text>
<line x1="511.9" y1="326.7" x2="511.9" y2="329.7" stroke="#111" stroke-width="1" />
<text transform="translate(511.9,338) scale(1,1.065)" font-size="7.9" text-anchor="middle" fill="#111" font-weight="bold" >2</text>
<line x1="537.6" y1="326.7" x2="537.6" y2="329.7" stroke="#111" stroke-width="1" />
<text transform="translate(537.6,338) scale(1,1.065)" font-size="7.9" text-anchor="middle" fill="#111" font-weight="bold" >4</text>
<line x1="563.3" y1="326.7" x2="563.3" y2="329.7" stroke="#111" stroke-width="1" />
<text transform="translate(563.3,338) scale(1,1.065)" font-size="7.9" text-anchor="middle" fill="#111" font-weight="bold" >6</text>
<line x1="589" y1="326.7" x2="589" y2="329.7" stroke="#111" stroke-width="1" />
<text transform="translate(589,338) scale(1,1.065)" font-size="7.9" text-anchor="middle" fill="#111" font-weight="bold" >8</text>
<line x1="614.7" y1="326.7" x2="614.7" y2="329.7" stroke="#111" stroke-width="1" />
<text transform="translate(614.7,338) scale(1,1.065)" font-size="7.9" text-anchor="middle" fill="#111" font-weight="bold" >10</text>
<line x1="640.4" y1="326.7" x2="640.4" y2="329.7" stroke="#111" stroke-width="1" />
<text transform="translate(640.4,338) scale(1,1.065)" font-size="7.9" text-anchor="middle" fill="#111" font-weight="bold" >12</text>
<line x1="499.05" y1="326.7" x2="499.05" y2="328.5" stroke="#111" stroke-width="1" />
<line x1="524.75" y1="326.7" x2="524.75" y2="328.5" stroke="#111" stroke-width="1" />
<line x1="550.45" y1="326.7" x2="550.45" y2="328.5" stroke="#111" stroke-width="1" />
<line x1="576.15" y1="326.7" x2="576.15" y2="328.5" stroke="#111" stroke-width="1" />
<line x1="601.85" y1="326.7" x2="601.85" y2="328.5" stroke="#111" stroke-width="1" />
<line x1="627.55" y1="326.7" x2="627.55" y2="328.5" stroke="#111" stroke-width="1" />
<text x="564.8" y="351" font-size="10.6" letter-spacing="0.35" text-anchor="middle" font-weight="bold" fill="#111">k (Å<tspan font-size="6.5" dy="-5">-1</tspan><tspan dy="5">)</tspan></text>
<text transform="translate(469.7,260.5) rotate(-90)" font-size="10.4" letter-spacing="0.75" text-anchor="middle" font-weight="bold" fill="#111">R+α(Å)</text>
<text x="461.8" y="178.2" font-size="14" text-anchor="start" fill="#111" font-weight="bold" >f</text>
<text transform="translate(489.2,190.8) scale(1,1.07)" font-size="8.6" text-anchor="start" fill="#fff" font-weight="bold" >Pd foil</text>
<g filter="url(#cm0)"><rect x="646.1" y="182.6" width="11.5" height="141.8" fill="url(#cbar)"/></g>
<rect x="646.1" y="179.6" width="11.5" height="3" fill="#808080"/>
<rect x="646.1" y="324.3" width="11.5" height="2.5" fill="#000"/>
<text transform="translate(660.9,186.15) scale(1,1.07)" font-size="7.85" text-anchor="start" fill="#111" font-weight="bold" >0.9800</text>
<text transform="translate(660.9,203.79) scale(1,1.07)" font-size="7.85" text-anchor="start" fill="#111" font-weight="bold" >0.8575</text>
<text transform="translate(660.9,221.42) scale(1,1.07)" font-size="7.85" text-anchor="start" fill="#111" font-weight="bold" >0.7350</text>
<text transform="translate(660.9,239.06) scale(1,1.07)" font-size="7.85" text-anchor="start" fill="#111" font-weight="bold" >0.6125</text>
<text transform="translate(660.9,256.7) scale(1,1.07)" font-size="7.85" text-anchor="start" fill="#111" font-weight="bold" >0.4900</text>
<text transform="translate(660.9,274.34) scale(1,1.07)" font-size="7.85" text-anchor="start" fill="#111" font-weight="bold" >0.3675</text>
<text transform="translate(660.9,291.97) scale(1,1.07)" font-size="7.85" text-anchor="start" fill="#111" font-weight="bold" >0.2450</text>
<text transform="translate(660.9,309.61) scale(1,1.07)" font-size="7.85" text-anchor="start" fill="#111" font-weight="bold" >0.1225</text>
<text transform="translate(660.9,327.25) scale(1,1.07)" font-size="7.85" text-anchor="start" fill="#111" font-weight="bold" >0.000</text>
<text x="589.3" y="239.2" font-size="8.1" text-anchor="start" fill="#111" font-weight="bold" >Pd-Pd</text>
</svg></body></html>
